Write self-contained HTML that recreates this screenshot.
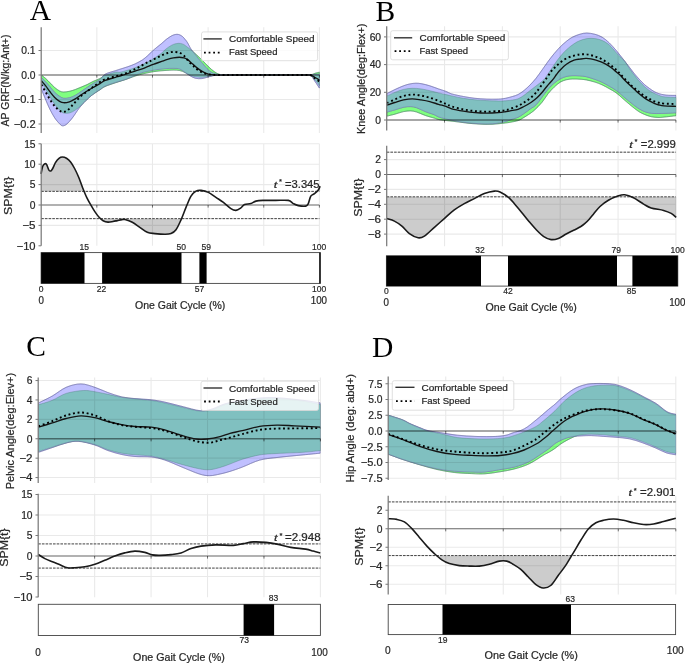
<!DOCTYPE html>
<html><head><meta charset="utf-8"><title>Gait SPM figure</title>
<style>html,body{margin:0;padding:0;background:#fff;}svg{display:block;filter:blur(0.35px);}svg text{stroke:#2a2a2a;stroke-width:0.22px;stroke-linejoin:round;}</style>
</head><body>
<svg width="685" height="663" viewBox="0 0 685 663"><rect width="685" height="663" fill="#fff"/><line x1="38.5" y1="50.5" x2="41.2" y2="50.5" stroke="#555" stroke-width="0.8"/>
<text x="35.6" y="54.25" font-size="10.4" text-anchor="end" font-family='"Liberation Sans", sans-serif' fill="#262626" textLength="14.31" lengthAdjust="spacingAndGlyphs">0.1</text>
<line x1="38.5" y1="75" x2="41.2" y2="75" stroke="#555" stroke-width="0.8"/>
<text x="35.6" y="78.75" font-size="10.4" text-anchor="end" font-family='"Liberation Sans", sans-serif' fill="#262626" textLength="14.31" lengthAdjust="spacingAndGlyphs">0.0</text>
<line x1="38.5" y1="99.5" x2="41.2" y2="99.5" stroke="#555" stroke-width="0.8"/>
<text x="35.6" y="103.25" font-size="10.4" text-anchor="end" font-family='"Liberation Sans", sans-serif' fill="#262626" textLength="21.85" lengthAdjust="spacingAndGlyphs">−0.1</text>
<line x1="38.5" y1="124" x2="41.2" y2="124" stroke="#555" stroke-width="0.8"/>
<text x="35.6" y="127.75" font-size="10.4" text-anchor="end" font-family='"Liberation Sans", sans-serif' fill="#262626" textLength="21.85" lengthAdjust="spacingAndGlyphs">−0.2</text>
<clipPath id="c1"><rect x="41.2" y="24.2" width="278.8" height="111.8"/></clipPath><g clip-path="url(#c1)">
<clipPath id="c2"><path d="M41.3,75 C42.07,75.62 44.48,77.43 45.9,78.7 C47.32,79.97 48.33,81.13 49.8,82.6 C51.27,84.07 53.07,86.1 54.7,87.5 C56.33,88.9 58.13,90.25 59.6,91 C61.07,91.75 61.87,91.95 63.5,92 C65.13,92.05 67.43,91.72 69.4,91.3 C71.37,90.88 73.33,90.2 75.3,89.5 C77.27,88.8 79.23,87.92 81.2,87.1 C83.17,86.28 85.15,85.53 87.1,84.6 C89.05,83.67 90.75,82.52 92.9,81.5 C95.05,80.48 97.95,79.53 100,78.5 C102.05,77.47 102.63,76.35 105.2,75.3 C107.77,74.25 112.93,72.72 115.4,72.2 C117.87,71.68 117.98,72.53 120,72.2 C122.02,71.87 124.98,70.95 127.5,70.2 C130.02,69.45 132.4,68.73 135.1,67.7 C137.8,66.67 140.82,65.38 143.7,64 C146.58,62.62 149.52,61.15 152.4,59.4 C155.28,57.65 158.73,55.23 161,53.5 C163.27,51.77 164.5,50.22 166,49 C167.5,47.78 168.77,46.97 170,46.2 C171.23,45.43 172.23,44.85 173.4,44.4 C174.57,43.95 175.83,43.67 177,43.5 C178.17,43.33 179.32,43.25 180.4,43.4 C181.48,43.55 182.53,43.93 183.5,44.4 C184.47,44.87 184.97,45.3 186.2,46.2 C187.43,47.1 189.15,48.35 190.9,49.8 C192.65,51.25 194.75,53.1 196.7,54.9 C198.65,56.7 200.65,58.65 202.6,60.6 C204.55,62.55 206.47,64.77 208.4,66.6 C210.33,68.43 212.38,70.32 214.2,71.6 C216.02,72.88 217.5,73.75 219.3,74.3 C221.1,74.85 222.88,74.78 225,74.9 C227.12,75.02 219.5,74.98 232,75 C244.5,75.02 287.02,75 300,75 C312.98,75 307.4,75.28 309.9,75 C312.4,74.72 313.42,73.77 315,73.3 C316.58,72.83 318.67,72.38 319.4,72.2 L319.4,85.5 C318.67,84.58 316.58,81.75 315,80 C313.42,78.25 312.4,75.83 309.9,75 C307.4,74.17 312.98,75 300,75 C287.02,75 245.67,74.98 232,75 C218.33,75.02 221.28,75 218,75.1 C214.72,75.2 214.13,75.37 212.3,75.6 C210.47,75.83 208.75,76.22 207,76.5 C205.25,76.78 203.7,77.25 201.8,77.3 C199.9,77.35 197.5,77.13 195.6,76.8 C193.7,76.47 192.15,76.02 190.4,75.3 C188.65,74.58 186.85,73.28 185.1,72.5 C183.35,71.72 181.85,71 179.9,70.6 C177.95,70.2 175.88,70.12 173.4,70.1 C170.92,70.08 167.73,70.32 165,70.5 C162.27,70.68 159.5,70.9 157,71.2 C154.5,71.5 152.33,71.87 150,72.3 C147.67,72.73 145.35,73.22 143,73.8 C140.65,74.38 138.78,74.85 135.9,75.8 C133.02,76.75 129.12,78.33 125.7,79.5 C122.28,80.67 118.82,81.63 115.4,82.8 C111.98,83.97 107.77,85.33 105.2,86.5 C102.63,87.67 102.05,88.48 100,89.8 C97.95,91.12 95.05,92.82 92.9,94.4 C90.75,95.98 89.05,97.5 87.1,99.3 C85.15,101.1 83.17,103.4 81.2,105.2 C79.23,107 77.27,108.8 75.3,110.1 C73.33,111.4 71.37,112.52 69.4,113 C67.43,113.48 65.13,113.48 63.5,113 C61.87,112.52 61.07,111.57 59.6,110.1 C58.13,108.63 56.33,106.48 54.7,104.2 C53.07,101.92 51.27,98.85 49.8,96.4 C48.33,93.95 47.32,91.95 45.9,89.5 C44.48,87.05 42.07,83 41.3,81.7 Z"/></clipPath>
<path d="M41.3,75 C42.07,75.62 44.48,77.43 45.9,78.7 C47.32,79.97 48.33,81.13 49.8,82.6 C51.27,84.07 53.07,86.1 54.7,87.5 C56.33,88.9 58.13,90.25 59.6,91 C61.07,91.75 61.87,91.95 63.5,92 C65.13,92.05 67.43,91.72 69.4,91.3 C71.37,90.88 73.33,90.2 75.3,89.5 C77.27,88.8 79.23,87.92 81.2,87.1 C83.17,86.28 85.15,85.53 87.1,84.6 C89.05,83.67 90.75,82.52 92.9,81.5 C95.05,80.48 97.95,79.53 100,78.5 C102.05,77.47 102.63,76.35 105.2,75.3 C107.77,74.25 112.93,72.72 115.4,72.2 C117.87,71.68 117.98,72.53 120,72.2 C122.02,71.87 124.98,70.95 127.5,70.2 C130.02,69.45 132.4,68.73 135.1,67.7 C137.8,66.67 140.82,65.38 143.7,64 C146.58,62.62 149.52,61.15 152.4,59.4 C155.28,57.65 158.73,55.23 161,53.5 C163.27,51.77 164.5,50.22 166,49 C167.5,47.78 168.77,46.97 170,46.2 C171.23,45.43 172.23,44.85 173.4,44.4 C174.57,43.95 175.83,43.67 177,43.5 C178.17,43.33 179.32,43.25 180.4,43.4 C181.48,43.55 182.53,43.93 183.5,44.4 C184.47,44.87 184.97,45.3 186.2,46.2 C187.43,47.1 189.15,48.35 190.9,49.8 C192.65,51.25 194.75,53.1 196.7,54.9 C198.65,56.7 200.65,58.65 202.6,60.6 C204.55,62.55 206.47,64.77 208.4,66.6 C210.33,68.43 212.38,70.32 214.2,71.6 C216.02,72.88 217.5,73.75 219.3,74.3 C221.1,74.85 222.88,74.78 225,74.9 C227.12,75.02 219.5,74.98 232,75 C244.5,75.02 287.02,75 300,75 C312.98,75 307.4,75.28 309.9,75 C312.4,74.72 313.42,73.77 315,73.3 C316.58,72.83 318.67,72.38 319.4,72.2 L319.4,85.5 C318.67,84.58 316.58,81.75 315,80 C313.42,78.25 312.4,75.83 309.9,75 C307.4,74.17 312.98,75 300,75 C287.02,75 245.67,74.98 232,75 C218.33,75.02 221.28,75 218,75.1 C214.72,75.2 214.13,75.37 212.3,75.6 C210.47,75.83 208.75,76.22 207,76.5 C205.25,76.78 203.7,77.25 201.8,77.3 C199.9,77.35 197.5,77.13 195.6,76.8 C193.7,76.47 192.15,76.02 190.4,75.3 C188.65,74.58 186.85,73.28 185.1,72.5 C183.35,71.72 181.85,71 179.9,70.6 C177.95,70.2 175.88,70.12 173.4,70.1 C170.92,70.08 167.73,70.32 165,70.5 C162.27,70.68 159.5,70.9 157,71.2 C154.5,71.5 152.33,71.87 150,72.3 C147.67,72.73 145.35,73.22 143,73.8 C140.65,74.38 138.78,74.85 135.9,75.8 C133.02,76.75 129.12,78.33 125.7,79.5 C122.28,80.67 118.82,81.63 115.4,82.8 C111.98,83.97 107.77,85.33 105.2,86.5 C102.63,87.67 102.05,88.48 100,89.8 C97.95,91.12 95.05,92.82 92.9,94.4 C90.75,95.98 89.05,97.5 87.1,99.3 C85.15,101.1 83.17,103.4 81.2,105.2 C79.23,107 77.27,108.8 75.3,110.1 C73.33,111.4 71.37,112.52 69.4,113 C67.43,113.48 65.13,113.48 63.5,113 C61.87,112.52 61.07,111.57 59.6,110.1 C58.13,108.63 56.33,106.48 54.7,104.2 C53.07,101.92 51.27,98.85 49.8,96.4 C48.33,93.95 47.32,91.95 45.9,89.5 C44.48,87.05 42.07,83 41.3,81.7 Z" fill="#80ff80" stroke="#4a9a4a" stroke-width="0.5"/>
<path d="M41.3,77.3 C42.07,78.12 44.48,80.65 45.9,82.2 C47.32,83.75 48.33,84.88 49.8,86.6 C51.27,88.32 53.07,90.87 54.7,92.5 C56.33,94.13 58.13,95.43 59.6,96.4 C61.07,97.37 61.87,98.07 63.5,98.3 C65.13,98.53 67.43,98.28 69.4,97.8 C71.37,97.32 73.33,96.45 75.3,95.4 C77.27,94.35 79.23,92.82 81.2,91.5 C83.17,90.18 85.15,88.82 87.1,87.5 C89.05,86.18 90.75,84.9 92.9,83.6 C95.05,82.3 97.95,81.27 100,79.7 C102.05,78.13 102.63,75.7 105.2,74.2 C107.77,72.7 112.93,71.53 115.4,70.7 C117.87,69.87 117.98,69.85 120,69.2 C122.02,68.55 124.98,67.68 127.5,66.8 C130.02,65.92 132.58,65.07 135.1,63.9 C137.62,62.73 140.53,61.15 142.6,59.8 C144.67,58.45 145.87,57.25 147.5,55.8 C149.13,54.35 150.82,52.53 152.4,51.1 C153.98,49.67 155.48,48.45 157,47.2 C158.52,45.95 160,44.87 161.5,43.6 C163,42.33 164.58,40.73 166,39.6 C167.42,38.47 168.77,37.57 170,36.8 C171.23,36.03 172.25,35.42 173.4,35 C174.55,34.58 175.83,34.32 176.9,34.3 C177.97,34.28 178.83,34.5 179.8,34.9 C180.77,35.3 181.83,35.97 182.7,36.7 C183.57,37.43 184.22,38.33 185,39.3 C185.78,40.27 186.42,40.9 187.4,42.5 C188.38,44.1 189.83,47.18 190.9,48.9 C191.97,50.62 192.83,51.53 193.8,52.8 C194.77,54.07 195.73,55.28 196.7,56.5 C197.67,57.72 198.62,58.93 199.6,60.1 C200.58,61.27 201.62,62.35 202.6,63.5 C203.58,64.65 204.53,65.92 205.5,67 C206.47,68.08 207.43,69.13 208.4,70 C209.37,70.87 210.33,71.62 211.3,72.2 C212.27,72.78 213.08,73.12 214.2,73.5 C215.32,73.88 216.7,74.27 218,74.5 C219.3,74.73 219.67,74.82 222,74.9 C224.33,74.98 219,74.98 232,75 C245,75.02 287.02,75 300,75 C312.98,75 307.4,75.1 309.9,75 C312.4,74.9 313.42,74.55 315,74.4 C316.58,74.25 318.67,74.15 319.4,74.1 L319.4,88.1 C318.67,87 316.58,83.68 315,81.5 C313.42,79.32 312.4,76.08 309.9,75 C307.4,73.92 312.98,75 300,75 C287.02,75 245.75,74.97 232,75 C218.25,75.03 220.78,75.05 217.5,75.2 C214.22,75.35 214.05,75.55 212.3,75.9 C210.55,76.25 208.75,76.85 207,77.3 C205.25,77.75 203.7,78.43 201.8,78.6 C199.9,78.77 197.5,78.73 195.6,78.3 C193.7,77.87 192.15,76.98 190.4,76 C188.65,75.02 186.85,73.57 185.1,72.4 C183.35,71.23 181.85,69.68 179.9,69 C177.95,68.32 175.88,68.35 173.4,68.3 C170.92,68.25 167.73,68.48 165,68.7 C162.27,68.92 159.5,69.25 157,69.6 C154.5,69.95 152.33,70.35 150,70.8 C147.67,71.25 145.35,71.6 143,72.3 C140.65,73 138.78,73.83 135.9,75 C133.02,76.17 129.12,78.07 125.7,79.3 C122.28,80.53 118.82,81.28 115.4,82.4 C111.98,83.52 107.77,84.82 105.2,86 C102.63,87.18 102.05,88.1 100,89.5 C97.95,90.9 95.22,92.6 92.9,94.4 C90.58,96.2 88.38,98.02 86.1,100.3 C83.82,102.58 81.48,105.17 79.2,108.1 C76.92,111.03 74.52,115.2 72.4,117.9 C70.28,120.6 68.15,122.98 66.5,124.3 C64.85,125.62 63.65,125.88 62.5,125.8 C61.35,125.72 60.9,125.12 59.6,123.8 C58.3,122.48 56.33,120.35 54.7,117.9 C53.07,115.45 51.27,112.03 49.8,109.1 C48.33,106.17 47.32,103.65 45.9,100.3 C44.48,96.95 42.07,90.88 41.3,89 Z" fill="#c0c0ff" stroke="#6a6ab0" stroke-width="0.5"/>
<path d="M41.3,77.3 C42.07,78.12 44.48,80.65 45.9,82.2 C47.32,83.75 48.33,84.88 49.8,86.6 C51.27,88.32 53.07,90.87 54.7,92.5 C56.33,94.13 58.13,95.43 59.6,96.4 C61.07,97.37 61.87,98.07 63.5,98.3 C65.13,98.53 67.43,98.28 69.4,97.8 C71.37,97.32 73.33,96.45 75.3,95.4 C77.27,94.35 79.23,92.82 81.2,91.5 C83.17,90.18 85.15,88.82 87.1,87.5 C89.05,86.18 90.75,84.9 92.9,83.6 C95.05,82.3 97.95,81.27 100,79.7 C102.05,78.13 102.63,75.7 105.2,74.2 C107.77,72.7 112.93,71.53 115.4,70.7 C117.87,69.87 117.98,69.85 120,69.2 C122.02,68.55 124.98,67.68 127.5,66.8 C130.02,65.92 132.58,65.07 135.1,63.9 C137.62,62.73 140.53,61.15 142.6,59.8 C144.67,58.45 145.87,57.25 147.5,55.8 C149.13,54.35 150.82,52.53 152.4,51.1 C153.98,49.67 155.48,48.45 157,47.2 C158.52,45.95 160,44.87 161.5,43.6 C163,42.33 164.58,40.73 166,39.6 C167.42,38.47 168.77,37.57 170,36.8 C171.23,36.03 172.25,35.42 173.4,35 C174.55,34.58 175.83,34.32 176.9,34.3 C177.97,34.28 178.83,34.5 179.8,34.9 C180.77,35.3 181.83,35.97 182.7,36.7 C183.57,37.43 184.22,38.33 185,39.3 C185.78,40.27 186.42,40.9 187.4,42.5 C188.38,44.1 189.83,47.18 190.9,48.9 C191.97,50.62 192.83,51.53 193.8,52.8 C194.77,54.07 195.73,55.28 196.7,56.5 C197.67,57.72 198.62,58.93 199.6,60.1 C200.58,61.27 201.62,62.35 202.6,63.5 C203.58,64.65 204.53,65.92 205.5,67 C206.47,68.08 207.43,69.13 208.4,70 C209.37,70.87 210.33,71.62 211.3,72.2 C212.27,72.78 213.08,73.12 214.2,73.5 C215.32,73.88 216.7,74.27 218,74.5 C219.3,74.73 219.67,74.82 222,74.9 C224.33,74.98 219,74.98 232,75 C245,75.02 287.02,75 300,75 C312.98,75 307.4,75.1 309.9,75 C312.4,74.9 313.42,74.55 315,74.4 C316.58,74.25 318.67,74.15 319.4,74.1 L319.4,88.1 C318.67,87 316.58,83.68 315,81.5 C313.42,79.32 312.4,76.08 309.9,75 C307.4,73.92 312.98,75 300,75 C287.02,75 245.75,74.97 232,75 C218.25,75.03 220.78,75.05 217.5,75.2 C214.22,75.35 214.05,75.55 212.3,75.9 C210.55,76.25 208.75,76.85 207,77.3 C205.25,77.75 203.7,78.43 201.8,78.6 C199.9,78.77 197.5,78.73 195.6,78.3 C193.7,77.87 192.15,76.98 190.4,76 C188.65,75.02 186.85,73.57 185.1,72.4 C183.35,71.23 181.85,69.68 179.9,69 C177.95,68.32 175.88,68.35 173.4,68.3 C170.92,68.25 167.73,68.48 165,68.7 C162.27,68.92 159.5,69.25 157,69.6 C154.5,69.95 152.33,70.35 150,70.8 C147.67,71.25 145.35,71.6 143,72.3 C140.65,73 138.78,73.83 135.9,75 C133.02,76.17 129.12,78.07 125.7,79.3 C122.28,80.53 118.82,81.28 115.4,82.4 C111.98,83.52 107.77,84.82 105.2,86 C102.63,87.18 102.05,88.1 100,89.5 C97.95,90.9 95.22,92.6 92.9,94.4 C90.58,96.2 88.38,98.02 86.1,100.3 C83.82,102.58 81.48,105.17 79.2,108.1 C76.92,111.03 74.52,115.2 72.4,117.9 C70.28,120.6 68.15,122.98 66.5,124.3 C64.85,125.62 63.65,125.88 62.5,125.8 C61.35,125.72 60.9,125.12 59.6,123.8 C58.3,122.48 56.33,120.35 54.7,117.9 C53.07,115.45 51.27,112.03 49.8,109.1 C48.33,106.17 47.32,103.65 45.9,100.3 C44.48,96.95 42.07,90.88 41.3,89 Z" fill="#80c0c0" clip-path="url(#c2)"/>
<path d="M41.3,75 C42.07,75.62 44.48,77.43 45.9,78.7 C47.32,79.97 48.33,81.13 49.8,82.6 C51.27,84.07 53.07,86.1 54.7,87.5 C56.33,88.9 58.13,90.25 59.6,91 C61.07,91.75 61.87,91.95 63.5,92 C65.13,92.05 67.43,91.72 69.4,91.3 C71.37,90.88 73.33,90.2 75.3,89.5 C77.27,88.8 79.23,87.92 81.2,87.1 C83.17,86.28 85.15,85.53 87.1,84.6 C89.05,83.67 90.75,82.52 92.9,81.5 C95.05,80.48 97.95,79.53 100,78.5 C102.05,77.47 102.63,76.35 105.2,75.3 C107.77,74.25 112.93,72.72 115.4,72.2 C117.87,71.68 117.98,72.53 120,72.2 C122.02,71.87 124.98,70.95 127.5,70.2 C130.02,69.45 132.4,68.73 135.1,67.7 C137.8,66.67 140.82,65.38 143.7,64 C146.58,62.62 149.52,61.15 152.4,59.4 C155.28,57.65 158.73,55.23 161,53.5 C163.27,51.77 164.5,50.22 166,49 C167.5,47.78 168.77,46.97 170,46.2 C171.23,45.43 172.23,44.85 173.4,44.4 C174.57,43.95 175.83,43.67 177,43.5 C178.17,43.33 179.32,43.25 180.4,43.4 C181.48,43.55 182.53,43.93 183.5,44.4 C184.47,44.87 184.97,45.3 186.2,46.2 C187.43,47.1 189.15,48.35 190.9,49.8 C192.65,51.25 194.75,53.1 196.7,54.9 C198.65,56.7 200.65,58.65 202.6,60.6 C204.55,62.55 206.47,64.77 208.4,66.6 C210.33,68.43 212.38,70.32 214.2,71.6 C216.02,72.88 217.5,73.75 219.3,74.3 C221.1,74.85 222.88,74.78 225,74.9 C227.12,75.02 219.5,74.98 232,75 C244.5,75.02 287.02,75 300,75 C312.98,75 307.4,75.28 309.9,75 C312.4,74.72 313.42,73.77 315,73.3 C316.58,72.83 318.67,72.38 319.4,72.2" fill="none" stroke="#4f7f7f" stroke-width="0.5" stroke-opacity="0.8"/>
<path d="M41.3,81.7 C42.07,83 44.48,87.05 45.9,89.5 C47.32,91.95 48.33,93.95 49.8,96.4 C51.27,98.85 53.07,101.92 54.7,104.2 C56.33,106.48 58.13,108.63 59.6,110.1 C61.07,111.57 61.87,112.52 63.5,113 C65.13,113.48 67.43,113.48 69.4,113 C71.37,112.52 73.33,111.4 75.3,110.1 C77.27,108.8 79.23,107 81.2,105.2 C83.17,103.4 85.15,101.1 87.1,99.3 C89.05,97.5 90.75,95.98 92.9,94.4 C95.05,92.82 97.95,91.12 100,89.8 C102.05,88.48 102.63,87.67 105.2,86.5 C107.77,85.33 111.98,83.97 115.4,82.8 C118.82,81.63 122.28,80.67 125.7,79.5 C129.12,78.33 133.02,76.75 135.9,75.8 C138.78,74.85 140.65,74.38 143,73.8 C145.35,73.22 147.67,72.73 150,72.3 C152.33,71.87 154.5,71.5 157,71.2 C159.5,70.9 162.27,70.68 165,70.5 C167.73,70.32 170.92,70.08 173.4,70.1 C175.88,70.12 177.95,70.2 179.9,70.6 C181.85,71 183.35,71.72 185.1,72.5 C186.85,73.28 188.65,74.58 190.4,75.3 C192.15,76.02 193.7,76.47 195.6,76.8 C197.5,77.13 199.9,77.35 201.8,77.3 C203.7,77.25 205.25,76.78 207,76.5 C208.75,76.22 210.47,75.83 212.3,75.6 C214.13,75.37 214.72,75.2 218,75.1 C221.28,75 218.33,75.02 232,75 C245.67,74.98 287.02,75 300,75 C312.98,75 307.4,74.17 309.9,75 C312.4,75.83 313.42,78.25 315,80 C316.58,81.75 318.67,84.58 319.4,85.5" fill="none" stroke="#4f7f7f" stroke-width="0.5" stroke-opacity="0.8"/>
<path d="M41.3,77.3 C42.07,78.12 44.48,80.65 45.9,82.2 C47.32,83.75 48.33,84.88 49.8,86.6 C51.27,88.32 53.07,90.87 54.7,92.5 C56.33,94.13 58.13,95.43 59.6,96.4 C61.07,97.37 61.87,98.07 63.5,98.3 C65.13,98.53 67.43,98.28 69.4,97.8 C71.37,97.32 73.33,96.45 75.3,95.4 C77.27,94.35 79.23,92.82 81.2,91.5 C83.17,90.18 85.15,88.82 87.1,87.5 C89.05,86.18 90.75,84.9 92.9,83.6 C95.05,82.3 97.95,81.27 100,79.7 C102.05,78.13 102.63,75.7 105.2,74.2 C107.77,72.7 112.93,71.53 115.4,70.7 C117.87,69.87 117.98,69.85 120,69.2 C122.02,68.55 124.98,67.68 127.5,66.8 C130.02,65.92 132.58,65.07 135.1,63.9 C137.62,62.73 140.53,61.15 142.6,59.8 C144.67,58.45 145.87,57.25 147.5,55.8 C149.13,54.35 150.82,52.53 152.4,51.1 C153.98,49.67 155.48,48.45 157,47.2 C158.52,45.95 160,44.87 161.5,43.6 C163,42.33 164.58,40.73 166,39.6 C167.42,38.47 168.77,37.57 170,36.8 C171.23,36.03 172.25,35.42 173.4,35 C174.55,34.58 175.83,34.32 176.9,34.3 C177.97,34.28 178.83,34.5 179.8,34.9 C180.77,35.3 181.83,35.97 182.7,36.7 C183.57,37.43 184.22,38.33 185,39.3 C185.78,40.27 186.42,40.9 187.4,42.5 C188.38,44.1 189.83,47.18 190.9,48.9 C191.97,50.62 192.83,51.53 193.8,52.8 C194.77,54.07 195.73,55.28 196.7,56.5 C197.67,57.72 198.62,58.93 199.6,60.1 C200.58,61.27 201.62,62.35 202.6,63.5 C203.58,64.65 204.53,65.92 205.5,67 C206.47,68.08 207.43,69.13 208.4,70 C209.37,70.87 210.33,71.62 211.3,72.2 C212.27,72.78 213.08,73.12 214.2,73.5 C215.32,73.88 216.7,74.27 218,74.5 C219.3,74.73 219.67,74.82 222,74.9 C224.33,74.98 219,74.98 232,75 C245,75.02 287.02,75 300,75 C312.98,75 307.4,75.1 309.9,75 C312.4,74.9 313.42,74.55 315,74.4 C316.58,74.25 318.67,74.15 319.4,74.1" fill="none" stroke="#6f6fa0" stroke-width="0.5" stroke-opacity="0.8"/>
<path d="M41.3,89 C42.07,90.88 44.48,96.95 45.9,100.3 C47.32,103.65 48.33,106.17 49.8,109.1 C51.27,112.03 53.07,115.45 54.7,117.9 C56.33,120.35 58.3,122.48 59.6,123.8 C60.9,125.12 61.35,125.72 62.5,125.8 C63.65,125.88 64.85,125.62 66.5,124.3 C68.15,122.98 70.28,120.6 72.4,117.9 C74.52,115.2 76.92,111.03 79.2,108.1 C81.48,105.17 83.82,102.58 86.1,100.3 C88.38,98.02 90.58,96.2 92.9,94.4 C95.22,92.6 97.95,90.9 100,89.5 C102.05,88.1 102.63,87.18 105.2,86 C107.77,84.82 111.98,83.52 115.4,82.4 C118.82,81.28 122.28,80.53 125.7,79.3 C129.12,78.07 133.02,76.17 135.9,75 C138.78,73.83 140.65,73 143,72.3 C145.35,71.6 147.67,71.25 150,70.8 C152.33,70.35 154.5,69.95 157,69.6 C159.5,69.25 162.27,68.92 165,68.7 C167.73,68.48 170.92,68.25 173.4,68.3 C175.88,68.35 177.95,68.32 179.9,69 C181.85,69.68 183.35,71.23 185.1,72.4 C186.85,73.57 188.65,75.02 190.4,76 C192.15,76.98 193.7,77.87 195.6,78.3 C197.5,78.73 199.9,78.77 201.8,78.6 C203.7,78.43 205.25,77.75 207,77.3 C208.75,76.85 210.55,76.25 212.3,75.9 C214.05,75.55 214.22,75.35 217.5,75.2 C220.78,75.05 218.25,75.03 232,75 C245.75,74.97 287.02,75 300,75 C312.98,75 307.4,73.92 309.9,75 C312.4,76.08 313.42,79.32 315,81.5 C316.58,83.68 318.67,87 319.4,88.1" fill="none" stroke="#6f6fa0" stroke-width="0.5" stroke-opacity="0.8"/>
</g>
<path d="M96.84,27.2V133 M152.48,27.2V133 M208.12,27.2V133 M263.76,27.2V133 M319.4,27.2V133 M41.2,50.5H319.4 M41.2,75H319.4 M41.2,99.5H319.4 M41.2,124H319.4" fill="none" stroke="#000" stroke-opacity="0.085" stroke-width="1.1"/>
<line x1="41.2" y1="75" x2="319.4" y2="75" stroke="#000" stroke-width="1.5" stroke-opacity="0.42"/>
<line x1="96.84" y1="75" x2="96.84" y2="77.6" stroke="#000" stroke-width="0.9" stroke-opacity="0.6"/>
<line x1="152.48" y1="75" x2="152.48" y2="77.6" stroke="#000" stroke-width="0.9" stroke-opacity="0.6"/>
<line x1="208.12" y1="75" x2="208.12" y2="77.6" stroke="#000" stroke-width="0.9" stroke-opacity="0.6"/>
<line x1="263.76" y1="75" x2="263.76" y2="77.6" stroke="#000" stroke-width="0.9" stroke-opacity="0.6"/>
<line x1="319.4" y1="75" x2="319.4" y2="77.6" stroke="#000" stroke-width="0.9" stroke-opacity="0.6"/>
<g clip-path="url(#c1)">
<path d="M41.3,80.7 C42.07,81.6 44.48,84.3 45.9,86.1 C47.32,87.9 48.33,89.62 49.8,91.5 C51.27,93.38 53.07,95.77 54.7,97.4 C56.33,99.03 58.13,100.42 59.6,101.3 C61.07,102.18 61.87,102.62 63.5,102.7 C65.13,102.78 67.43,102.45 69.4,101.8 C71.37,101.15 73.33,99.95 75.3,98.8 C77.27,97.65 79.23,96.2 81.2,94.9 C83.17,93.6 85.15,92.23 87.1,91 C89.05,89.77 90.75,88.73 92.9,87.5 C95.05,86.27 97.95,84.78 100,83.6 C102.05,82.42 102.63,81.45 105.2,80.4 C107.77,79.35 112.93,78.03 115.4,77.3 C117.87,76.57 117.98,76.62 120,76 C122.02,75.38 124.98,74.42 127.5,73.6 C130.02,72.78 132.4,71.98 135.1,71.1 C137.8,70.22 141.22,69.22 143.7,68.3 C146.18,67.38 147.98,66.4 150,65.6 C152.02,64.8 153.85,64.2 155.8,63.5 C157.75,62.8 159.75,62.08 161.7,61.4 C163.65,60.72 165.55,59.98 167.5,59.4 C169.45,58.82 171.45,58.27 173.4,57.9 C175.35,57.53 177.45,57.2 179.2,57.2 C180.95,57.2 182.53,57.53 183.9,57.9 C185.27,58.27 186.23,58.65 187.4,59.4 C188.57,60.15 189.35,61.03 190.9,62.4 C192.45,63.77 194.75,66.05 196.7,67.6 C198.65,69.15 200.65,70.62 202.6,71.7 C204.55,72.78 206.27,73.55 208.4,74.1 C210.53,74.65 211.47,74.85 215.4,75 C219.33,75.15 217.9,75 232,75 C246.1,75 287.02,75 300,75 C312.98,75 307.4,74.58 309.9,75 C312.4,75.42 313.42,76.67 315,77.5 C316.58,78.33 318.67,79.58 319.4,80" fill="none" stroke="#151515" stroke-width="1.35"/>
<path d="M41.3,84.6 C42.07,85.92 44.48,90.05 45.9,92.5 C47.32,94.95 48.33,97.02 49.8,99.3 C51.27,101.58 53.07,104.32 54.7,106.2 C56.33,108.08 58.22,109.65 59.6,110.6 C60.98,111.55 61.68,111.95 63,111.9 C64.32,111.85 65.78,111.58 67.5,110.3 C69.22,109.02 71.35,106.28 73.3,104.2 C75.25,102.12 77.23,99.68 79.2,97.8 C81.17,95.92 83.13,94.45 85.1,92.9 C87.07,91.35 89.35,89.73 91,88.5 C92.65,87.27 93.5,86.58 95,85.5 C96.5,84.42 98.3,83.03 100,82 C101.7,80.97 102.63,80.25 105.2,79.3 C107.77,78.35 112.55,77.1 115.4,76.3 C118.25,75.5 120.12,75.22 122.3,74.5 C124.48,73.78 126.37,72.88 128.5,72 C130.63,71.12 133.07,70.18 135.1,69.2 C137.13,68.22 138.82,67.17 140.7,66.1 C142.58,65.03 144.85,63.62 146.4,62.8 C147.95,61.98 148.43,61.95 150,61.2 C151.57,60.45 153.85,59.27 155.8,58.3 C157.75,57.33 159.75,56.28 161.7,55.4 C163.65,54.52 165.55,53.58 167.5,53 C169.45,52.42 171.45,51.95 173.4,51.9 C175.35,51.85 177.45,52.08 179.2,52.7 C180.95,53.32 182.35,54.18 183.9,55.6 C185.45,57.02 186.95,59.48 188.5,61.2 C190.05,62.92 191.63,64.43 193.2,65.9 C194.77,67.37 196.15,68.8 197.9,70 C199.65,71.2 201.57,72.33 203.7,73.1 C205.83,73.87 208.32,74.28 210.7,74.6 C213.08,74.92 214.45,74.93 218,75 C221.55,75.07 218.33,75 232,75 C245.67,75 287.02,75 300,75 C312.98,75 307.4,74.42 309.9,75 C312.4,75.58 313.42,77.42 315,78.5 C316.58,79.58 318.67,81 319.4,81.5" fill="none" stroke="#000" stroke-width="1.9" stroke-dasharray="1.9 2.7"/>
</g>
<line x1="41.2" y1="27.2" x2="41.2" y2="133" stroke="#7a7a7a" stroke-width="1.25"/>
<rect x="201.5" y="31.9" width="116.1" height="28.8" rx="2" fill="#fff" fill-opacity="0.8" stroke="#d8d8d8" stroke-width="0.8"/>
<line x1="203.4" y1="38.9" x2="221.8" y2="38.9" stroke="#333" stroke-width="1.4"/>
<line x1="204" y1="52.7" x2="221.8" y2="52.7" stroke="#000" stroke-width="1.8" stroke-dasharray="1.8 2.8"/>
<text x="229" y="42" font-size="9.44" text-anchor="start" font-family='"Liberation Sans", sans-serif' fill="#262626" textLength="85.45" lengthAdjust="spacingAndGlyphs">Comfortable Speed</text>
<text x="229" y="54.8" font-size="9.44" text-anchor="start" font-family='"Liberation Sans", sans-serif' fill="#262626" textLength="48.39" lengthAdjust="spacingAndGlyphs">Fast Speed</text>
<line x1="38.5" y1="143.8" x2="41.2" y2="143.8" stroke="#555" stroke-width="0.8"/>
<text x="35.6" y="147.55" font-size="10.4" text-anchor="end" font-family='"Liberation Sans", sans-serif' fill="#262626" textLength="11.45" lengthAdjust="spacingAndGlyphs">15</text>
<line x1="38.5" y1="164.2" x2="41.2" y2="164.2" stroke="#555" stroke-width="0.8"/>
<text x="35.6" y="167.95" font-size="10.4" text-anchor="end" font-family='"Liberation Sans", sans-serif' fill="#262626" textLength="11.45" lengthAdjust="spacingAndGlyphs">10</text>
<line x1="38.5" y1="184.6" x2="41.2" y2="184.6" stroke="#555" stroke-width="0.8"/>
<text x="35.6" y="188.35" font-size="10.4" text-anchor="end" font-family='"Liberation Sans", sans-serif' fill="#262626" textLength="5.73" lengthAdjust="spacingAndGlyphs">5</text>
<line x1="38.5" y1="205" x2="41.2" y2="205" stroke="#555" stroke-width="0.8"/>
<text x="35.6" y="208.75" font-size="10.4" text-anchor="end" font-family='"Liberation Sans", sans-serif' fill="#262626" textLength="5.73" lengthAdjust="spacingAndGlyphs">0</text>
<line x1="38.5" y1="225.4" x2="41.2" y2="225.4" stroke="#555" stroke-width="0.8"/>
<text x="35.6" y="229.15" font-size="10.4" text-anchor="end" font-family='"Liberation Sans", sans-serif' fill="#262626" textLength="13.27" lengthAdjust="spacingAndGlyphs">−5</text>
<line x1="38.5" y1="245.8" x2="41.2" y2="245.8" stroke="#555" stroke-width="0.8"/>
<text x="35.6" y="249.55" font-size="10.4" text-anchor="end" font-family='"Liberation Sans", sans-serif' fill="#262626" textLength="18.99" lengthAdjust="spacingAndGlyphs">−10</text>
<clipPath id="c3"><rect x="39.2" y="123.75" width="282.2" height="67.6"/></clipPath>
<path d="M41.1,173.9 L41.16,173.57 L41.23,173.13 L41.32,172.61 L41.41,172.03 L41.52,171.41 L41.63,170.78 L41.75,170.14 L41.86,169.54 L41.98,168.98 L42.1,168.5 L42.21,168.07 L42.32,167.66 L42.43,167.27 L42.54,166.9 L42.66,166.55 L42.78,166.22 L42.91,165.91 L43.06,165.62 L43.22,165.35 L43.4,165.1 L43.61,164.86 L43.84,164.64 L44.1,164.42 L44.37,164.23 L44.65,164.06 L44.93,163.91 L45.2,163.8 L45.46,163.72 L45.69,163.69 L45.9,163.7 L46.08,163.76 L46.23,163.86 L46.37,164 L46.49,164.18 L46.6,164.39 L46.71,164.63 L46.82,164.9 L46.93,165.18 L47.06,165.49 L47.2,165.8 L47.35,166.16 L47.51,166.58 L47.67,167.04 L47.84,167.53 L48.01,168.03 L48.18,168.53 L48.36,169 L48.53,169.43 L48.72,169.8 L48.9,170.1 L49.09,170.34 L49.28,170.54 L49.48,170.7 L49.69,170.83 L49.89,170.92 L50.1,170.98 L50.31,171.01 L50.51,171 L50.71,170.97 L50.9,170.9 L51.08,170.81 L51.26,170.68 L51.42,170.53 L51.58,170.35 L51.74,170.13 L51.91,169.88 L52.09,169.59 L52.27,169.27 L52.48,168.9 L52.7,168.5 L52.94,168.03 L53.2,167.48 L53.47,166.88 L53.76,166.23 L54.05,165.56 L54.35,164.87 L54.66,164.2 L54.97,163.55 L55.28,162.95 L55.6,162.4 L55.92,161.9 L56.25,161.41 L56.58,160.93 L56.92,160.48 L57.27,160.05 L57.62,159.64 L57.96,159.26 L58.31,158.91 L58.66,158.59 L59,158.3 L59.34,158.04 L59.67,157.82 L60,157.62 L60.33,157.45 L60.66,157.31 L60.99,157.2 L61.33,157.11 L61.68,157.05 L62.03,157.01 L62.4,157 L62.78,157.01 L63.18,157.06 L63.58,157.12 L63.99,157.22 L64.41,157.34 L64.83,157.48 L65.25,157.65 L65.67,157.84 L66.09,158.06 L66.5,158.3 L66.91,158.56 L67.32,158.84 L67.73,159.15 L68.14,159.47 L68.56,159.83 L68.97,160.2 L69.38,160.61 L69.79,161.04 L70.19,161.51 L70.6,162 L71,162.53 L71.4,163.08 L71.8,163.67 L72.2,164.29 L72.6,164.93 L73,165.6 L73.4,166.29 L73.8,167.01 L74.2,167.74 L74.6,168.5 L75.01,169.28 L75.41,170.08 L75.82,170.9 L76.23,171.75 L76.64,172.63 L77.06,173.52 L77.47,174.43 L77.88,175.37 L78.29,176.32 L78.7,177.3 L79.11,178.31 L79.52,179.37 L79.93,180.46 L80.34,181.58 L80.76,182.71 L81.17,183.84 L81.58,184.97 L81.99,186.08 L82.39,187.16 L82.8,188.2 L83.2,189.22 L83.6,190.22 L84,191.22 L84.4,192.2 L84.8,193.17 L85.2,194.12 L85.6,195.05 L86,195.96 L86.4,196.84 L86.8,197.7 L87.21,198.53 L87.61,199.32 L88.02,200.09 L88.43,200.84 L88.84,201.57 L89.26,202.28 L89.67,202.99 L90.08,203.69 L90.49,204.39 L90.9,205.1 L91.31,205.81 L91.72,206.52 L92.13,207.23 L92.54,207.93 L92.95,208.62 L93.36,209.31 L93.77,209.98 L94.18,210.64 L94.59,211.28 L95,211.9 L95.41,212.51 L95.82,213.1 L96.23,213.69 L96.64,214.26 L97.06,214.81 L97.47,215.35 L97.88,215.87 L98.29,216.37 L98.69,216.85 L99.1,217.3 L99.5,217.73 L99.89,218.14 L100.28,218.53 L100.66,218.9 L101.05,219.25 L101.44,219.58 L101.84,219.89 L102.24,220.18 L102.66,220.45 L103.1,220.7 L103.55,220.93 L104.02,221.14 L104.5,221.33 L104.99,221.5 L105.49,221.65 L105.99,221.78 L106.49,221.89 L107,221.98 L107.5,222.05 L108,222.1 L108.5,222.12 L109,222.11 L109.51,222.08 L110.03,222.02 L110.54,221.94 L111.05,221.86 L111.55,221.77 L112.04,221.67 L112.53,221.58 L113,221.5 L113.46,221.42 L113.9,221.34 L114.33,221.26 L114.75,221.17 L115.17,221.07 L115.58,220.98 L116,220.89 L116.43,220.79 L116.86,220.7 L117.3,220.6 L117.76,220.5 L118.24,220.39 L118.73,220.28 L119.23,220.16 L119.73,220.04 L120.22,219.93 L120.7,219.83 L121.16,219.74 L121.6,219.66 L122,219.6 L122.35,219.55 L122.64,219.49 L122.89,219.44 L123.12,219.4 L123.34,219.37 L123.57,219.36 L123.84,219.37 L124.15,219.41 L124.53,219.49 L125,219.6 L125.55,219.75 L126.18,219.93 L126.87,220.14 L127.6,220.38 L128.37,220.64 L129.16,220.92 L129.96,221.24 L130.76,221.57 L131.54,221.92 L132.3,222.3 L133.04,222.71 L133.79,223.15 L134.54,223.63 L135.29,224.13 L136.04,224.66 L136.79,225.19 L137.54,225.73 L138.3,226.26 L139.05,226.79 L139.8,227.3 L140.55,227.82 L141.3,228.36 L142.05,228.92 L142.8,229.48 L143.55,230.03 L144.3,230.57 L145.05,231.07 L145.8,231.54 L146.55,231.95 L147.3,232.3 L148.04,232.58 L148.76,232.81 L149.47,232.98 L150.18,233.12 L150.89,233.22 L151.62,233.3 L152.37,233.37 L153.14,233.44 L153.95,233.51 L154.8,233.6 L155.72,233.7 L156.7,233.8 L157.74,233.9 L158.8,233.99 L159.88,234.08 L160.95,234.15 L162,234.21 L163,234.26 L163.94,234.29 L164.8,234.3 L165.58,234.3 L166.3,234.3 L166.98,234.29 L167.61,234.27 L168.21,234.23 L168.79,234.17 L169.35,234.08 L169.9,233.96 L170.45,233.8 L171,233.6 L171.55,233.37 L172.08,233.14 L172.59,232.88 L173.09,232.6 L173.57,232.28 L174.06,231.91 L174.54,231.49 L175.02,231 L175.51,230.44 L176,229.8 L176.5,229.07 L177,228.25 L177.5,227.36 L178,226.4 L178.5,225.39 L179,224.34 L179.5,223.25 L180,222.14 L180.5,221.02 L181,219.9 L181.5,218.75 L182,217.55 L182.5,216.3 L183,215.03 L183.5,213.74 L184,212.44 L184.5,211.14 L185,209.86 L185.5,208.61 L186,207.4 L186.5,206.19 L187,204.96 L187.5,203.72 L188,202.49 L188.5,201.28 L189,200.11 L189.5,198.99 L190,197.94 L190.5,196.97 L191,196.1 L191.5,195.33 L192,194.63 L192.5,194 L193,193.44 L193.5,192.94 L194,192.49 L194.5,192.09 L195,191.72 L195.5,191.4 L196,191.1 L196.49,190.84 L196.96,190.64 L197.42,190.49 L197.88,190.38 L198.35,190.31 L198.83,190.28 L199.32,190.28 L199.85,190.3 L200.4,190.34 L201,190.4 L201.64,190.48 L202.32,190.58 L203.04,190.71 L203.78,190.86 L204.54,191.04 L205.32,191.25 L206.1,191.49 L206.88,191.76 L207.65,192.07 L208.4,192.4 L209.15,192.78 L209.89,193.21 L210.64,193.68 L211.39,194.18 L212.14,194.71 L212.9,195.26 L213.65,195.81 L214.4,196.35 L215.15,196.89 L215.9,197.4 L216.65,197.89 L217.4,198.38 L218.15,198.86 L218.9,199.34 L219.65,199.83 L220.4,200.31 L221.15,200.81 L221.9,201.32 L222.65,201.85 L223.4,202.4 L224.16,202.99 L224.94,203.63 L225.73,204.31 L226.52,205 L227.31,205.7 L228.08,206.38 L228.83,207.03 L229.56,207.62 L230.25,208.15 L230.9,208.6 L231.5,208.98 L232.06,209.31 L232.58,209.6 L233.08,209.84 L233.56,210.04 L234.02,210.2 L234.48,210.31 L234.94,210.39 L235.41,210.41 L235.9,210.4 L236.41,210.33 L236.92,210.19 L237.44,210 L237.96,209.76 L238.48,209.48 L238.99,209.18 L239.5,208.86 L239.98,208.53 L240.45,208.21 L240.9,207.9 L241.31,207.58 L241.68,207.22 L242.02,206.84 L242.35,206.44 L242.67,206.04 L243,205.65 L243.34,205.28 L243.71,204.94 L244.13,204.65 L244.6,204.4 L245.13,204.22 L245.71,204.09 L246.34,204.02 L247,203.97 L247.67,203.94 L248.35,203.91 L249.02,203.88 L249.68,203.83 L250.31,203.74 L250.9,203.6 L251.44,203.41 L251.94,203.18 L252.42,202.92 L252.87,202.64 L253.33,202.34 L253.78,202.05 L254.26,201.77 L254.76,201.51 L255.3,201.28 L255.9,201.1 L256.53,200.95 L257.16,200.83 L257.81,200.74 L258.48,200.66 L259.19,200.59 L259.93,200.54 L260.71,200.5 L261.55,200.47 L262.44,200.43 L263.4,200.4 L264.44,200.37 L265.56,200.36 L266.76,200.35 L268,200.35 L269.29,200.36 L270.6,200.37 L271.92,200.38 L273.24,200.39 L274.53,200.4 L275.8,200.4 L277.08,200.39 L278.41,200.35 L279.78,200.3 L281.15,200.25 L282.51,200.2 L283.84,200.17 L285.1,200.16 L286.28,200.2 L287.35,200.27 L288.3,200.4 L289.1,200.6 L289.78,200.85 L290.35,201.16 L290.84,201.51 L291.27,201.87 L291.66,202.25 L292.04,202.63 L292.42,202.99 L292.83,203.31 L293.3,203.6 L293.79,203.86 L294.26,204.1 L294.72,204.34 L295.18,204.56 L295.64,204.77 L296.12,204.97 L296.62,205.15 L297.14,205.32 L297.7,205.47 L298.3,205.6 L298.97,205.72 L299.72,205.84 L300.52,205.95 L301.36,206.05 L302.21,206.13 L303.04,206.19 L303.84,206.22 L304.58,206.22 L305.24,206.18 L305.8,206.1 L306.25,205.99 L306.62,205.87 L306.92,205.73 L307.16,205.56 L307.36,205.35 L307.54,205.1 L307.71,204.81 L307.88,204.47 L308.07,204.07 L308.3,203.6 L308.54,203.03 L308.78,202.34 L309.01,201.56 L309.24,200.72 L309.48,199.85 L309.71,198.98 L309.96,198.14 L310.22,197.36 L310.5,196.67 L310.8,196.1 L311.12,195.65 L311.46,195.3 L311.82,195.02 L312.19,194.8 L312.57,194.61 L312.96,194.45 L313.34,194.28 L313.73,194.1 L314.12,193.88 L314.5,193.6 L314.88,193.28 L315.29,192.94 L315.7,192.58 L316.11,192.21 L316.52,191.83 L316.92,191.44 L317.3,191.05 L317.67,190.66 L318,190.28 L318.3,189.9 L318.57,189.51 L318.82,189.1 L319.04,188.67 L319.25,188.24 L319.44,187.82 L319.61,187.41 L319.76,187.04 L319.89,186.7 L320,186.42 L320.1,186.2 L320.1,191.35 L41.1,191.35 Z" fill="#cccccc" clip-path="url(#c3)"/>
<clipPath id="c4"><rect x="39.2" y="218.65" width="282.2" height="47.1"/></clipPath>
<path d="M41.1,173.9 L41.16,173.57 L41.23,173.13 L41.32,172.61 L41.41,172.03 L41.52,171.41 L41.63,170.78 L41.75,170.14 L41.86,169.54 L41.98,168.98 L42.1,168.5 L42.21,168.07 L42.32,167.66 L42.43,167.27 L42.54,166.9 L42.66,166.55 L42.78,166.22 L42.91,165.91 L43.06,165.62 L43.22,165.35 L43.4,165.1 L43.61,164.86 L43.84,164.64 L44.1,164.42 L44.37,164.23 L44.65,164.06 L44.93,163.91 L45.2,163.8 L45.46,163.72 L45.69,163.69 L45.9,163.7 L46.08,163.76 L46.23,163.86 L46.37,164 L46.49,164.18 L46.6,164.39 L46.71,164.63 L46.82,164.9 L46.93,165.18 L47.06,165.49 L47.2,165.8 L47.35,166.16 L47.51,166.58 L47.67,167.04 L47.84,167.53 L48.01,168.03 L48.18,168.53 L48.36,169 L48.53,169.43 L48.72,169.8 L48.9,170.1 L49.09,170.34 L49.28,170.54 L49.48,170.7 L49.69,170.83 L49.89,170.92 L50.1,170.98 L50.31,171.01 L50.51,171 L50.71,170.97 L50.9,170.9 L51.08,170.81 L51.26,170.68 L51.42,170.53 L51.58,170.35 L51.74,170.13 L51.91,169.88 L52.09,169.59 L52.27,169.27 L52.48,168.9 L52.7,168.5 L52.94,168.03 L53.2,167.48 L53.47,166.88 L53.76,166.23 L54.05,165.56 L54.35,164.87 L54.66,164.2 L54.97,163.55 L55.28,162.95 L55.6,162.4 L55.92,161.9 L56.25,161.41 L56.58,160.93 L56.92,160.48 L57.27,160.05 L57.62,159.64 L57.96,159.26 L58.31,158.91 L58.66,158.59 L59,158.3 L59.34,158.04 L59.67,157.82 L60,157.62 L60.33,157.45 L60.66,157.31 L60.99,157.2 L61.33,157.11 L61.68,157.05 L62.03,157.01 L62.4,157 L62.78,157.01 L63.18,157.06 L63.58,157.12 L63.99,157.22 L64.41,157.34 L64.83,157.48 L65.25,157.65 L65.67,157.84 L66.09,158.06 L66.5,158.3 L66.91,158.56 L67.32,158.84 L67.73,159.15 L68.14,159.47 L68.56,159.83 L68.97,160.2 L69.38,160.61 L69.79,161.04 L70.19,161.51 L70.6,162 L71,162.53 L71.4,163.08 L71.8,163.67 L72.2,164.29 L72.6,164.93 L73,165.6 L73.4,166.29 L73.8,167.01 L74.2,167.74 L74.6,168.5 L75.01,169.28 L75.41,170.08 L75.82,170.9 L76.23,171.75 L76.64,172.63 L77.06,173.52 L77.47,174.43 L77.88,175.37 L78.29,176.32 L78.7,177.3 L79.11,178.31 L79.52,179.37 L79.93,180.46 L80.34,181.58 L80.76,182.71 L81.17,183.84 L81.58,184.97 L81.99,186.08 L82.39,187.16 L82.8,188.2 L83.2,189.22 L83.6,190.22 L84,191.22 L84.4,192.2 L84.8,193.17 L85.2,194.12 L85.6,195.05 L86,195.96 L86.4,196.84 L86.8,197.7 L87.21,198.53 L87.61,199.32 L88.02,200.09 L88.43,200.84 L88.84,201.57 L89.26,202.28 L89.67,202.99 L90.08,203.69 L90.49,204.39 L90.9,205.1 L91.31,205.81 L91.72,206.52 L92.13,207.23 L92.54,207.93 L92.95,208.62 L93.36,209.31 L93.77,209.98 L94.18,210.64 L94.59,211.28 L95,211.9 L95.41,212.51 L95.82,213.1 L96.23,213.69 L96.64,214.26 L97.06,214.81 L97.47,215.35 L97.88,215.87 L98.29,216.37 L98.69,216.85 L99.1,217.3 L99.5,217.73 L99.89,218.14 L100.28,218.53 L100.66,218.9 L101.05,219.25 L101.44,219.58 L101.84,219.89 L102.24,220.18 L102.66,220.45 L103.1,220.7 L103.55,220.93 L104.02,221.14 L104.5,221.33 L104.99,221.5 L105.49,221.65 L105.99,221.78 L106.49,221.89 L107,221.98 L107.5,222.05 L108,222.1 L108.5,222.12 L109,222.11 L109.51,222.08 L110.03,222.02 L110.54,221.94 L111.05,221.86 L111.55,221.77 L112.04,221.67 L112.53,221.58 L113,221.5 L113.46,221.42 L113.9,221.34 L114.33,221.26 L114.75,221.17 L115.17,221.07 L115.58,220.98 L116,220.89 L116.43,220.79 L116.86,220.7 L117.3,220.6 L117.76,220.5 L118.24,220.39 L118.73,220.28 L119.23,220.16 L119.73,220.04 L120.22,219.93 L120.7,219.83 L121.16,219.74 L121.6,219.66 L122,219.6 L122.35,219.55 L122.64,219.49 L122.89,219.44 L123.12,219.4 L123.34,219.37 L123.57,219.36 L123.84,219.37 L124.15,219.41 L124.53,219.49 L125,219.6 L125.55,219.75 L126.18,219.93 L126.87,220.14 L127.6,220.38 L128.37,220.64 L129.16,220.92 L129.96,221.24 L130.76,221.57 L131.54,221.92 L132.3,222.3 L133.04,222.71 L133.79,223.15 L134.54,223.63 L135.29,224.13 L136.04,224.66 L136.79,225.19 L137.54,225.73 L138.3,226.26 L139.05,226.79 L139.8,227.3 L140.55,227.82 L141.3,228.36 L142.05,228.92 L142.8,229.48 L143.55,230.03 L144.3,230.57 L145.05,231.07 L145.8,231.54 L146.55,231.95 L147.3,232.3 L148.04,232.58 L148.76,232.81 L149.47,232.98 L150.18,233.12 L150.89,233.22 L151.62,233.3 L152.37,233.37 L153.14,233.44 L153.95,233.51 L154.8,233.6 L155.72,233.7 L156.7,233.8 L157.74,233.9 L158.8,233.99 L159.88,234.08 L160.95,234.15 L162,234.21 L163,234.26 L163.94,234.29 L164.8,234.3 L165.58,234.3 L166.3,234.3 L166.98,234.29 L167.61,234.27 L168.21,234.23 L168.79,234.17 L169.35,234.08 L169.9,233.96 L170.45,233.8 L171,233.6 L171.55,233.37 L172.08,233.14 L172.59,232.88 L173.09,232.6 L173.57,232.28 L174.06,231.91 L174.54,231.49 L175.02,231 L175.51,230.44 L176,229.8 L176.5,229.07 L177,228.25 L177.5,227.36 L178,226.4 L178.5,225.39 L179,224.34 L179.5,223.25 L180,222.14 L180.5,221.02 L181,219.9 L181.5,218.75 L182,217.55 L182.5,216.3 L183,215.03 L183.5,213.74 L184,212.44 L184.5,211.14 L185,209.86 L185.5,208.61 L186,207.4 L186.5,206.19 L187,204.96 L187.5,203.72 L188,202.49 L188.5,201.28 L189,200.11 L189.5,198.99 L190,197.94 L190.5,196.97 L191,196.1 L191.5,195.33 L192,194.63 L192.5,194 L193,193.44 L193.5,192.94 L194,192.49 L194.5,192.09 L195,191.72 L195.5,191.4 L196,191.1 L196.49,190.84 L196.96,190.64 L197.42,190.49 L197.88,190.38 L198.35,190.31 L198.83,190.28 L199.32,190.28 L199.85,190.3 L200.4,190.34 L201,190.4 L201.64,190.48 L202.32,190.58 L203.04,190.71 L203.78,190.86 L204.54,191.04 L205.32,191.25 L206.1,191.49 L206.88,191.76 L207.65,192.07 L208.4,192.4 L209.15,192.78 L209.89,193.21 L210.64,193.68 L211.39,194.18 L212.14,194.71 L212.9,195.26 L213.65,195.81 L214.4,196.35 L215.15,196.89 L215.9,197.4 L216.65,197.89 L217.4,198.38 L218.15,198.86 L218.9,199.34 L219.65,199.83 L220.4,200.31 L221.15,200.81 L221.9,201.32 L222.65,201.85 L223.4,202.4 L224.16,202.99 L224.94,203.63 L225.73,204.31 L226.52,205 L227.31,205.7 L228.08,206.38 L228.83,207.03 L229.56,207.62 L230.25,208.15 L230.9,208.6 L231.5,208.98 L232.06,209.31 L232.58,209.6 L233.08,209.84 L233.56,210.04 L234.02,210.2 L234.48,210.31 L234.94,210.39 L235.41,210.41 L235.9,210.4 L236.41,210.33 L236.92,210.19 L237.44,210 L237.96,209.76 L238.48,209.48 L238.99,209.18 L239.5,208.86 L239.98,208.53 L240.45,208.21 L240.9,207.9 L241.31,207.58 L241.68,207.22 L242.02,206.84 L242.35,206.44 L242.67,206.04 L243,205.65 L243.34,205.28 L243.71,204.94 L244.13,204.65 L244.6,204.4 L245.13,204.22 L245.71,204.09 L246.34,204.02 L247,203.97 L247.67,203.94 L248.35,203.91 L249.02,203.88 L249.68,203.83 L250.31,203.74 L250.9,203.6 L251.44,203.41 L251.94,203.18 L252.42,202.92 L252.87,202.64 L253.33,202.34 L253.78,202.05 L254.26,201.77 L254.76,201.51 L255.3,201.28 L255.9,201.1 L256.53,200.95 L257.16,200.83 L257.81,200.74 L258.48,200.66 L259.19,200.59 L259.93,200.54 L260.71,200.5 L261.55,200.47 L262.44,200.43 L263.4,200.4 L264.44,200.37 L265.56,200.36 L266.76,200.35 L268,200.35 L269.29,200.36 L270.6,200.37 L271.92,200.38 L273.24,200.39 L274.53,200.4 L275.8,200.4 L277.08,200.39 L278.41,200.35 L279.78,200.3 L281.15,200.25 L282.51,200.2 L283.84,200.17 L285.1,200.16 L286.28,200.2 L287.35,200.27 L288.3,200.4 L289.1,200.6 L289.78,200.85 L290.35,201.16 L290.84,201.51 L291.27,201.87 L291.66,202.25 L292.04,202.63 L292.42,202.99 L292.83,203.31 L293.3,203.6 L293.79,203.86 L294.26,204.1 L294.72,204.34 L295.18,204.56 L295.64,204.77 L296.12,204.97 L296.62,205.15 L297.14,205.32 L297.7,205.47 L298.3,205.6 L298.97,205.72 L299.72,205.84 L300.52,205.95 L301.36,206.05 L302.21,206.13 L303.04,206.19 L303.84,206.22 L304.58,206.22 L305.24,206.18 L305.8,206.1 L306.25,205.99 L306.62,205.87 L306.92,205.73 L307.16,205.56 L307.36,205.35 L307.54,205.1 L307.71,204.81 L307.88,204.47 L308.07,204.07 L308.3,203.6 L308.54,203.03 L308.78,202.34 L309.01,201.56 L309.24,200.72 L309.48,199.85 L309.71,198.98 L309.96,198.14 L310.22,197.36 L310.5,196.67 L310.8,196.1 L311.12,195.65 L311.46,195.3 L311.82,195.02 L312.19,194.8 L312.57,194.61 L312.96,194.45 L313.34,194.28 L313.73,194.1 L314.12,193.88 L314.5,193.6 L314.88,193.28 L315.29,192.94 L315.7,192.58 L316.11,192.21 L316.52,191.83 L316.92,191.44 L317.3,191.05 L317.67,190.66 L318,190.28 L318.3,189.9 L318.57,189.51 L318.82,189.1 L319.04,188.67 L319.25,188.24 L319.44,187.82 L319.61,187.41 L319.76,187.04 L319.89,186.7 L320,186.42 L320.1,186.2 L320.1,218.65 L41.1,218.65 Z" fill="#cccccc" clip-path="url(#c4)"/>
<path d="M96.84,143.75V245.75 M152.48,143.75V245.75 M208.12,143.75V245.75 M263.76,143.75V245.75 M319.4,143.75V245.75 M41.2,143.8H319.4 M41.2,164.2H319.4 M41.2,184.6H319.4 M41.2,205H319.4 M41.2,225.4H319.4" fill="none" stroke="#000" stroke-opacity="0.085" stroke-width="1.1"/>
<line x1="41.2" y1="205" x2="319.4" y2="205" stroke="#000" stroke-width="1.2" stroke-opacity="0.55"/>
<line x1="96.84" y1="205" x2="96.84" y2="207.6" stroke="#000" stroke-width="0.9" stroke-opacity="0.6"/>
<line x1="152.48" y1="205" x2="152.48" y2="207.6" stroke="#000" stroke-width="0.9" stroke-opacity="0.6"/>
<line x1="208.12" y1="205" x2="208.12" y2="207.6" stroke="#000" stroke-width="0.9" stroke-opacity="0.6"/>
<line x1="263.76" y1="205" x2="263.76" y2="207.6" stroke="#000" stroke-width="0.9" stroke-opacity="0.6"/>
<line x1="319.4" y1="205" x2="319.4" y2="207.6" stroke="#000" stroke-width="0.9" stroke-opacity="0.6"/>
<line x1="41.2" y1="191.35" x2="319.4" y2="191.35" stroke="#404040" stroke-width="1" stroke-dasharray="2.6 1.1"/>
<line x1="41.2" y1="218.65" x2="319.4" y2="218.65" stroke="#404040" stroke-width="1" stroke-dasharray="2.6 1.1"/>
<path d="M41.1,173.9 C41.27,173 41.72,169.97 42.1,168.5 C42.48,167.03 42.77,165.9 43.4,165.1 C44.03,164.3 45.27,163.58 45.9,163.7 C46.53,163.82 46.7,164.73 47.2,165.8 C47.7,166.87 48.28,169.25 48.9,170.1 C49.52,170.95 50.27,171.17 50.9,170.9 C51.53,170.63 51.92,169.92 52.7,168.5 C53.48,167.08 54.55,164.1 55.6,162.4 C56.65,160.7 57.87,159.2 59,158.3 C60.13,157.4 61.15,157 62.4,157 C63.65,157 65.13,157.47 66.5,158.3 C67.87,159.13 69.25,160.3 70.6,162 C71.95,163.7 73.25,165.95 74.6,168.5 C75.95,171.05 77.33,174.02 78.7,177.3 C80.07,180.58 81.45,184.8 82.8,188.2 C84.15,191.6 85.45,194.88 86.8,197.7 C88.15,200.52 89.53,202.73 90.9,205.1 C92.27,207.47 93.63,209.87 95,211.9 C96.37,213.93 97.75,215.83 99.1,217.3 C100.45,218.77 101.62,219.9 103.1,220.7 C104.58,221.5 106.35,221.97 108,222.1 C109.65,222.23 111.45,221.75 113,221.5 C114.55,221.25 115.8,220.92 117.3,220.6 C118.8,220.28 120.72,219.77 122,219.6 C123.28,219.43 123.28,219.15 125,219.6 C126.72,220.05 129.83,221.02 132.3,222.3 C134.77,223.58 137.3,225.63 139.8,227.3 C142.3,228.97 144.8,231.25 147.3,232.3 C149.8,233.35 151.88,233.27 154.8,233.6 C157.72,233.93 162.1,234.3 164.8,234.3 C167.5,234.3 169.13,234.35 171,233.6 C172.87,232.85 174.33,232.08 176,229.8 C177.67,227.52 179.33,223.63 181,219.9 C182.67,216.17 184.33,211.37 186,207.4 C187.67,203.43 189.33,198.82 191,196.1 C192.67,193.38 194.33,192.05 196,191.1 C197.67,190.15 198.93,190.18 201,190.4 C203.07,190.62 205.92,191.23 208.4,192.4 C210.88,193.57 213.4,195.73 215.9,197.4 C218.4,199.07 220.9,200.53 223.4,202.4 C225.9,204.27 228.82,207.27 230.9,208.6 C232.98,209.93 234.23,210.52 235.9,210.4 C237.57,210.28 239.45,208.9 240.9,207.9 C242.35,206.9 242.93,205.12 244.6,204.4 C246.27,203.68 249.02,204.15 250.9,203.6 C252.78,203.05 253.82,201.63 255.9,201.1 C257.98,200.57 260.08,200.52 263.4,200.4 C266.72,200.28 271.65,200.4 275.8,200.4 C279.95,200.4 285.38,199.87 288.3,200.4 C291.22,200.93 291.63,202.73 293.3,203.6 C294.97,204.47 296.22,205.18 298.3,205.6 C300.38,206.02 304.13,206.43 305.8,206.1 C307.47,205.77 307.47,205.27 308.3,203.6 C309.13,201.93 309.77,197.77 310.8,196.1 C311.83,194.43 313.25,194.63 314.5,193.6 C315.75,192.57 317.37,191.13 318.3,189.9 C319.23,188.67 319.8,186.82 320.1,186.2" fill="none" stroke="#1a1a1a" stroke-width="1.6"/>
<line x1="41.2" y1="143.75" x2="41.2" y2="245.75" stroke="#7a7a7a" stroke-width="1.25"/>
<text x="273.7" y="188" font-size="9.6" font-style="italic" font-family='"Liberation Sans", sans-serif' fill="#262626" textLength="3.5" lengthAdjust="spacingAndGlyphs">t</text>
<text x="279.1" y="184.4" font-size="7.6" font-family='"Liberation Sans", sans-serif' fill="#262626">*</text>
<text x="285" y="188.1" font-size="10" text-anchor="start" font-family='"Liberation Sans", sans-serif' fill="#262626" textLength="34.6" lengthAdjust="spacingAndGlyphs">=3.345</text>
<rect x="41.1" y="252.6" width="279.3" height="30.8" fill="#fff" stroke="#444" stroke-width="0.9"/>
<rect x="41.1" y="252.6" width="43.4" height="30.8" fill="#000"/>
<rect x="102.1" y="252.6" width="79.4" height="30.8" fill="#000"/>
<rect x="199.4" y="252.6" width="7.2" height="30.8" fill="#000"/>
<rect x="319.2" y="252.6" width="1.2" height="30.8" fill="#000"/>
<line x1="384" y1="36.9" x2="386.7" y2="36.9" stroke="#555" stroke-width="0.8"/>
<text x="381.1" y="40.65" font-size="10.4" text-anchor="end" font-family='"Liberation Sans", sans-serif' fill="#262626" textLength="11.45" lengthAdjust="spacingAndGlyphs">60</text>
<line x1="384" y1="64.6" x2="386.7" y2="64.6" stroke="#555" stroke-width="0.8"/>
<text x="381.1" y="68.35" font-size="10.4" text-anchor="end" font-family='"Liberation Sans", sans-serif' fill="#262626" textLength="11.45" lengthAdjust="spacingAndGlyphs">40</text>
<line x1="384" y1="92.3" x2="386.7" y2="92.3" stroke="#555" stroke-width="0.8"/>
<text x="381.1" y="96.05" font-size="10.4" text-anchor="end" font-family='"Liberation Sans", sans-serif' fill="#262626" textLength="11.45" lengthAdjust="spacingAndGlyphs">20</text>
<line x1="384" y1="120" x2="386.7" y2="120" stroke="#555" stroke-width="0.8"/>
<text x="381.1" y="123.75" font-size="10.4" text-anchor="end" font-family='"Liberation Sans", sans-serif' fill="#262626" textLength="5.73" lengthAdjust="spacingAndGlyphs">0</text>
<clipPath id="c5"><rect x="386.7" y="23.25" width="289.8" height="110.25"/></clipPath><g clip-path="url(#c5)">
<clipPath id="c6"><path d="M387,96 C388.3,95.4 392.05,93.5 394.8,92.4 C397.55,91.3 400.58,90.08 403.5,89.4 C406.42,88.72 409.38,88.38 412.3,88.3 C415.22,88.22 418.08,88.5 421,88.9 C423.92,89.3 426.88,90.03 429.8,90.7 C432.72,91.37 435.8,92.25 438.5,92.9 C441.2,93.55 443.8,94.1 446,94.6 C448.2,95.1 448.8,95.28 451.7,95.9 C454.6,96.52 459.52,97.65 463.4,98.3 C467.28,98.95 471.12,99.42 475,99.8 C478.88,100.18 482.8,100.4 486.7,100.6 C490.6,100.8 495.28,100.97 498.4,101 C501.52,101.03 503.07,100.97 505.4,100.8 C507.73,100.63 510.28,100.33 512.4,100 C514.52,99.67 516.17,99.58 518.1,98.8 C520.03,98.02 522.02,96.67 524,95.3 C525.98,93.93 528,92.15 530,90.6 C532,89.05 533.7,87.8 536,86 C538.3,84.2 541.88,81.68 543.8,79.8 C545.72,77.92 545.62,77.43 547.5,74.7 C549.38,71.97 552.98,66.42 555.1,63.4 C557.22,60.38 558.32,58.87 560.2,56.6 C562.08,54.33 564.1,51.93 566.4,49.8 C568.7,47.67 571.73,45.33 574,43.8 C576.27,42.27 577.83,41.47 580,40.6 C582.17,39.73 584.5,38.93 587,38.6 C589.5,38.27 592.47,38.28 595,38.6 C597.53,38.92 599.82,39.43 602.2,40.5 C604.58,41.57 606.92,42.93 609.3,45 C611.68,47.07 613.92,50.15 616.5,52.9 C619.08,55.65 622.6,58.82 624.8,61.5 C627,64.18 628.07,66.67 629.7,69 C631.33,71.33 632.97,73.42 634.6,75.5 C636.23,77.58 637.87,79.67 639.5,81.5 C641.13,83.33 642.77,85 644.4,86.5 C646.03,88 647.67,89.37 649.3,90.5 C650.93,91.63 652.57,92.48 654.2,93.3 C655.83,94.12 657.47,94.82 659.1,95.4 C660.73,95.98 661.18,96.45 664,96.8 C666.82,97.15 674,97.38 676,97.5 L676,115.7 C674,115.93 666.82,116.8 664,117.1 C661.18,117.4 660.73,117.48 659.1,117.5 C657.47,117.52 655.83,117.42 654.2,117.2 C652.57,116.98 650.93,116.67 649.3,116.2 C647.67,115.73 646.03,115.1 644.4,114.4 C642.77,113.7 641.13,112.98 639.5,112 C637.87,111.02 636.23,109.75 634.6,108.5 C632.97,107.25 631.33,105.87 629.7,104.5 C628.07,103.13 626.43,101.73 624.8,100.3 C623.17,98.87 621.53,97.28 619.9,95.9 C618.27,94.52 616.77,93.2 615,92 C613.23,90.8 611.43,89.88 609.3,88.7 C607.17,87.52 604.58,86 602.2,84.9 C599.82,83.8 597.65,82.93 595,82.1 C592.35,81.27 588.8,80.38 586.3,79.9 C583.8,79.42 582.33,79.35 580,79.2 C577.67,79.05 574.6,78.9 572.3,79 C570,79.1 568.22,79.27 566.2,79.8 C564.18,80.33 562.2,80.98 560.2,82.2 C558.2,83.42 556.22,85.18 554.2,87.1 C552.18,89.02 550.12,91.18 548.1,93.7 C546.08,96.22 544.52,99.33 542.1,102.2 C539.68,105.07 536.62,108.37 533.6,110.9 C530.58,113.43 526.58,115.79 524,117.4 C521.42,119.02 520.1,119.84 518.1,120.59 C516.1,121.34 514.07,121.53 512,121.92 C509.93,122.31 508.93,122.56 505.7,122.94 C502.47,123.32 496.98,124.01 492.6,124.2 C488.22,124.39 483.78,124.3 479.4,124.1 C475.02,123.9 470.68,123.47 466.3,123 C461.92,122.53 457.48,121.85 453.1,121.31 C448.72,120.77 443.15,120.31 440,119.78 C436.85,119.25 436.63,118.82 434.2,118.11 C431.77,117.4 428.33,116.52 425.4,115.5 C422.47,114.48 419.08,112.77 416.6,112 C414.12,111.23 412.68,110.97 410.5,110.9 C408.32,110.83 406.12,111.05 403.5,111.6 C400.88,112.15 397.55,113.45 394.8,114.2 C392.05,114.95 388.3,115.78 387,116.1 Z"/></clipPath>
<path d="M387,96 C388.3,95.4 392.05,93.5 394.8,92.4 C397.55,91.3 400.58,90.08 403.5,89.4 C406.42,88.72 409.38,88.38 412.3,88.3 C415.22,88.22 418.08,88.5 421,88.9 C423.92,89.3 426.88,90.03 429.8,90.7 C432.72,91.37 435.8,92.25 438.5,92.9 C441.2,93.55 443.8,94.1 446,94.6 C448.2,95.1 448.8,95.28 451.7,95.9 C454.6,96.52 459.52,97.65 463.4,98.3 C467.28,98.95 471.12,99.42 475,99.8 C478.88,100.18 482.8,100.4 486.7,100.6 C490.6,100.8 495.28,100.97 498.4,101 C501.52,101.03 503.07,100.97 505.4,100.8 C507.73,100.63 510.28,100.33 512.4,100 C514.52,99.67 516.17,99.58 518.1,98.8 C520.03,98.02 522.02,96.67 524,95.3 C525.98,93.93 528,92.15 530,90.6 C532,89.05 533.7,87.8 536,86 C538.3,84.2 541.88,81.68 543.8,79.8 C545.72,77.92 545.62,77.43 547.5,74.7 C549.38,71.97 552.98,66.42 555.1,63.4 C557.22,60.38 558.32,58.87 560.2,56.6 C562.08,54.33 564.1,51.93 566.4,49.8 C568.7,47.67 571.73,45.33 574,43.8 C576.27,42.27 577.83,41.47 580,40.6 C582.17,39.73 584.5,38.93 587,38.6 C589.5,38.27 592.47,38.28 595,38.6 C597.53,38.92 599.82,39.43 602.2,40.5 C604.58,41.57 606.92,42.93 609.3,45 C611.68,47.07 613.92,50.15 616.5,52.9 C619.08,55.65 622.6,58.82 624.8,61.5 C627,64.18 628.07,66.67 629.7,69 C631.33,71.33 632.97,73.42 634.6,75.5 C636.23,77.58 637.87,79.67 639.5,81.5 C641.13,83.33 642.77,85 644.4,86.5 C646.03,88 647.67,89.37 649.3,90.5 C650.93,91.63 652.57,92.48 654.2,93.3 C655.83,94.12 657.47,94.82 659.1,95.4 C660.73,95.98 661.18,96.45 664,96.8 C666.82,97.15 674,97.38 676,97.5 L676,115.7 C674,115.93 666.82,116.8 664,117.1 C661.18,117.4 660.73,117.48 659.1,117.5 C657.47,117.52 655.83,117.42 654.2,117.2 C652.57,116.98 650.93,116.67 649.3,116.2 C647.67,115.73 646.03,115.1 644.4,114.4 C642.77,113.7 641.13,112.98 639.5,112 C637.87,111.02 636.23,109.75 634.6,108.5 C632.97,107.25 631.33,105.87 629.7,104.5 C628.07,103.13 626.43,101.73 624.8,100.3 C623.17,98.87 621.53,97.28 619.9,95.9 C618.27,94.52 616.77,93.2 615,92 C613.23,90.8 611.43,89.88 609.3,88.7 C607.17,87.52 604.58,86 602.2,84.9 C599.82,83.8 597.65,82.93 595,82.1 C592.35,81.27 588.8,80.38 586.3,79.9 C583.8,79.42 582.33,79.35 580,79.2 C577.67,79.05 574.6,78.9 572.3,79 C570,79.1 568.22,79.27 566.2,79.8 C564.18,80.33 562.2,80.98 560.2,82.2 C558.2,83.42 556.22,85.18 554.2,87.1 C552.18,89.02 550.12,91.18 548.1,93.7 C546.08,96.22 544.52,99.33 542.1,102.2 C539.68,105.07 536.62,108.37 533.6,110.9 C530.58,113.43 526.58,115.79 524,117.4 C521.42,119.02 520.1,119.84 518.1,120.59 C516.1,121.34 514.07,121.53 512,121.92 C509.93,122.31 508.93,122.56 505.7,122.94 C502.47,123.32 496.98,124.01 492.6,124.2 C488.22,124.39 483.78,124.3 479.4,124.1 C475.02,123.9 470.68,123.47 466.3,123 C461.92,122.53 457.48,121.85 453.1,121.31 C448.72,120.77 443.15,120.31 440,119.78 C436.85,119.25 436.63,118.82 434.2,118.11 C431.77,117.4 428.33,116.52 425.4,115.5 C422.47,114.48 419.08,112.77 416.6,112 C414.12,111.23 412.68,110.97 410.5,110.9 C408.32,110.83 406.12,111.05 403.5,111.6 C400.88,112.15 397.55,113.45 394.8,114.2 C392.05,114.95 388.3,115.78 387,116.1 Z" fill="#80ff80" stroke="#4a9a4a" stroke-width="0.5"/>
<path d="M387,93.5 C388.3,92.85 392.05,90.88 394.8,89.6 C397.55,88.32 400.97,86.75 403.5,85.8 C406.03,84.85 407.92,84.33 410,83.9 C412.08,83.47 414,83.22 416,83.2 C418,83.18 419.7,83.37 422,83.8 C424.3,84.23 427.05,84.95 429.8,85.8 C432.55,86.65 435.8,87.97 438.5,88.9 C441.2,89.83 443.8,90.57 446,91.4 C448.2,92.23 448.8,93.05 451.7,93.9 C454.6,94.75 459.52,95.77 463.4,96.5 C467.28,97.23 471.12,97.87 475,98.3 C478.88,98.73 482.8,98.97 486.7,99.1 C490.6,99.23 495.28,99.23 498.4,99.1 C501.52,98.97 503.07,98.73 505.4,98.3 C507.73,97.87 510.28,97.13 512.4,96.5 C514.52,95.87 516.17,95.5 518.1,94.5 C520.03,93.5 522.02,92.08 524,90.5 C525.98,88.92 528,87.03 530,85 C532,82.97 533.98,80.82 536,78.3 C538.02,75.78 540.08,72.72 542.1,69.9 C544.12,67.08 546.08,64.12 548.1,61.4 C550.12,58.68 552.18,56.02 554.2,53.6 C556.22,51.18 558.2,48.92 560.2,46.9 C562.2,44.88 564.18,43.12 566.2,41.5 C568.22,39.88 570,38.42 572.3,37.2 C574.6,35.98 577.58,34.9 580,34.2 C582.42,33.5 584.3,32.98 586.8,33 C589.3,33.02 592.43,33.6 595,34.3 C597.57,35 599.82,35.77 602.2,37.2 C604.58,38.63 606.92,40.63 609.3,42.9 C611.68,45.17 614.08,47.95 616.5,50.8 C618.92,53.65 621.6,57.2 623.8,60 C626,62.8 627.9,65.27 629.7,67.6 C631.5,69.93 632.97,72.02 634.6,74 C636.23,75.98 637.87,77.75 639.5,79.5 C641.13,81.25 642.77,83.03 644.4,84.5 C646.03,85.97 647.67,87.12 649.3,88.3 C650.93,89.48 652.57,90.7 654.2,91.6 C655.83,92.5 657.47,93.17 659.1,93.7 C660.73,94.23 662.37,94.53 664,94.8 C665.63,95.07 666.9,95.2 668.9,95.3 C670.9,95.4 674.82,95.38 676,95.4 L676,112.8 C674,112.9 667.63,113.28 664,113.4 C660.37,113.52 656.65,113.58 654.2,113.5 C651.75,113.42 650.93,113.23 649.3,112.9 C647.67,112.57 646.03,112.15 644.4,111.5 C642.77,110.85 641.13,109.97 639.5,109 C637.87,108.03 636.23,106.9 634.6,105.7 C632.97,104.5 631.33,103.12 629.7,101.8 C628.07,100.48 626.43,99.2 624.8,97.8 C623.17,96.4 621.53,94.77 619.9,93.4 C618.27,92.03 616.77,90.8 615,89.6 C613.23,88.4 611.43,87.42 609.3,86.2 C607.17,84.98 604.58,83.43 602.2,82.3 C599.82,81.17 597.65,80.33 595,79.4 C592.35,78.47 588.8,77.28 586.3,76.7 C583.8,76.12 582.33,76.07 580,75.9 C577.67,75.73 574.6,75.6 572.3,75.7 C570,75.8 568.22,75.97 566.2,76.5 C564.18,77.03 562.2,77.8 560.2,78.9 C558.2,80 556.22,81.38 554.2,83.1 C552.18,84.82 550.12,86.88 548.1,89.2 C546.08,91.52 544.12,94.38 542.1,97 C540.08,99.62 538.02,102.88 536,104.9 C533.98,106.92 532,107.67 530,109.1 C528,110.53 525.98,112.13 524,113.5 C522.02,114.87 520.1,116.35 518.1,117.3 C516.1,118.25 514.07,118.5 512,119.2 C509.93,119.9 508.93,120.73 505.7,121.5 C502.47,122.27 496.98,123.43 492.6,123.8 C488.22,124.17 483.78,123.9 479.4,123.7 C475.02,123.5 470.68,123.13 466.3,122.6 C461.92,122.07 457.48,121.37 453.1,120.5 C448.72,119.63 443.15,118.37 440,117.4 C436.85,116.43 436.63,115.67 434.2,114.7 C431.77,113.73 428.33,112.77 425.4,111.6 C422.47,110.43 419.08,108.53 416.6,107.7 C414.12,106.87 412.68,106.67 410.5,106.6 C408.32,106.53 406.12,106.75 403.5,107.3 C400.88,107.85 397.55,109.1 394.8,109.9 C392.05,110.7 388.3,111.73 387,112.1 Z" fill="#c0c0ff" stroke="#6a6ab0" stroke-width="0.5"/>
<path d="M387,93.5 C388.3,92.85 392.05,90.88 394.8,89.6 C397.55,88.32 400.97,86.75 403.5,85.8 C406.03,84.85 407.92,84.33 410,83.9 C412.08,83.47 414,83.22 416,83.2 C418,83.18 419.7,83.37 422,83.8 C424.3,84.23 427.05,84.95 429.8,85.8 C432.55,86.65 435.8,87.97 438.5,88.9 C441.2,89.83 443.8,90.57 446,91.4 C448.2,92.23 448.8,93.05 451.7,93.9 C454.6,94.75 459.52,95.77 463.4,96.5 C467.28,97.23 471.12,97.87 475,98.3 C478.88,98.73 482.8,98.97 486.7,99.1 C490.6,99.23 495.28,99.23 498.4,99.1 C501.52,98.97 503.07,98.73 505.4,98.3 C507.73,97.87 510.28,97.13 512.4,96.5 C514.52,95.87 516.17,95.5 518.1,94.5 C520.03,93.5 522.02,92.08 524,90.5 C525.98,88.92 528,87.03 530,85 C532,82.97 533.98,80.82 536,78.3 C538.02,75.78 540.08,72.72 542.1,69.9 C544.12,67.08 546.08,64.12 548.1,61.4 C550.12,58.68 552.18,56.02 554.2,53.6 C556.22,51.18 558.2,48.92 560.2,46.9 C562.2,44.88 564.18,43.12 566.2,41.5 C568.22,39.88 570,38.42 572.3,37.2 C574.6,35.98 577.58,34.9 580,34.2 C582.42,33.5 584.3,32.98 586.8,33 C589.3,33.02 592.43,33.6 595,34.3 C597.57,35 599.82,35.77 602.2,37.2 C604.58,38.63 606.92,40.63 609.3,42.9 C611.68,45.17 614.08,47.95 616.5,50.8 C618.92,53.65 621.6,57.2 623.8,60 C626,62.8 627.9,65.27 629.7,67.6 C631.5,69.93 632.97,72.02 634.6,74 C636.23,75.98 637.87,77.75 639.5,79.5 C641.13,81.25 642.77,83.03 644.4,84.5 C646.03,85.97 647.67,87.12 649.3,88.3 C650.93,89.48 652.57,90.7 654.2,91.6 C655.83,92.5 657.47,93.17 659.1,93.7 C660.73,94.23 662.37,94.53 664,94.8 C665.63,95.07 666.9,95.2 668.9,95.3 C670.9,95.4 674.82,95.38 676,95.4 L676,112.8 C674,112.9 667.63,113.28 664,113.4 C660.37,113.52 656.65,113.58 654.2,113.5 C651.75,113.42 650.93,113.23 649.3,112.9 C647.67,112.57 646.03,112.15 644.4,111.5 C642.77,110.85 641.13,109.97 639.5,109 C637.87,108.03 636.23,106.9 634.6,105.7 C632.97,104.5 631.33,103.12 629.7,101.8 C628.07,100.48 626.43,99.2 624.8,97.8 C623.17,96.4 621.53,94.77 619.9,93.4 C618.27,92.03 616.77,90.8 615,89.6 C613.23,88.4 611.43,87.42 609.3,86.2 C607.17,84.98 604.58,83.43 602.2,82.3 C599.82,81.17 597.65,80.33 595,79.4 C592.35,78.47 588.8,77.28 586.3,76.7 C583.8,76.12 582.33,76.07 580,75.9 C577.67,75.73 574.6,75.6 572.3,75.7 C570,75.8 568.22,75.97 566.2,76.5 C564.18,77.03 562.2,77.8 560.2,78.9 C558.2,80 556.22,81.38 554.2,83.1 C552.18,84.82 550.12,86.88 548.1,89.2 C546.08,91.52 544.12,94.38 542.1,97 C540.08,99.62 538.02,102.88 536,104.9 C533.98,106.92 532,107.67 530,109.1 C528,110.53 525.98,112.13 524,113.5 C522.02,114.87 520.1,116.35 518.1,117.3 C516.1,118.25 514.07,118.5 512,119.2 C509.93,119.9 508.93,120.73 505.7,121.5 C502.47,122.27 496.98,123.43 492.6,123.8 C488.22,124.17 483.78,123.9 479.4,123.7 C475.02,123.5 470.68,123.13 466.3,122.6 C461.92,122.07 457.48,121.37 453.1,120.5 C448.72,119.63 443.15,118.37 440,117.4 C436.85,116.43 436.63,115.67 434.2,114.7 C431.77,113.73 428.33,112.77 425.4,111.6 C422.47,110.43 419.08,108.53 416.6,107.7 C414.12,106.87 412.68,106.67 410.5,106.6 C408.32,106.53 406.12,106.75 403.5,107.3 C400.88,107.85 397.55,109.1 394.8,109.9 C392.05,110.7 388.3,111.73 387,112.1 Z" fill="#80c0c0" clip-path="url(#c6)"/>
<path d="M387,96 C388.3,95.4 392.05,93.5 394.8,92.4 C397.55,91.3 400.58,90.08 403.5,89.4 C406.42,88.72 409.38,88.38 412.3,88.3 C415.22,88.22 418.08,88.5 421,88.9 C423.92,89.3 426.88,90.03 429.8,90.7 C432.72,91.37 435.8,92.25 438.5,92.9 C441.2,93.55 443.8,94.1 446,94.6 C448.2,95.1 448.8,95.28 451.7,95.9 C454.6,96.52 459.52,97.65 463.4,98.3 C467.28,98.95 471.12,99.42 475,99.8 C478.88,100.18 482.8,100.4 486.7,100.6 C490.6,100.8 495.28,100.97 498.4,101 C501.52,101.03 503.07,100.97 505.4,100.8 C507.73,100.63 510.28,100.33 512.4,100 C514.52,99.67 516.17,99.58 518.1,98.8 C520.03,98.02 522.02,96.67 524,95.3 C525.98,93.93 528,92.15 530,90.6 C532,89.05 533.7,87.8 536,86 C538.3,84.2 541.88,81.68 543.8,79.8 C545.72,77.92 545.62,77.43 547.5,74.7 C549.38,71.97 552.98,66.42 555.1,63.4 C557.22,60.38 558.32,58.87 560.2,56.6 C562.08,54.33 564.1,51.93 566.4,49.8 C568.7,47.67 571.73,45.33 574,43.8 C576.27,42.27 577.83,41.47 580,40.6 C582.17,39.73 584.5,38.93 587,38.6 C589.5,38.27 592.47,38.28 595,38.6 C597.53,38.92 599.82,39.43 602.2,40.5 C604.58,41.57 606.92,42.93 609.3,45 C611.68,47.07 613.92,50.15 616.5,52.9 C619.08,55.65 622.6,58.82 624.8,61.5 C627,64.18 628.07,66.67 629.7,69 C631.33,71.33 632.97,73.42 634.6,75.5 C636.23,77.58 637.87,79.67 639.5,81.5 C641.13,83.33 642.77,85 644.4,86.5 C646.03,88 647.67,89.37 649.3,90.5 C650.93,91.63 652.57,92.48 654.2,93.3 C655.83,94.12 657.47,94.82 659.1,95.4 C660.73,95.98 661.18,96.45 664,96.8 C666.82,97.15 674,97.38 676,97.5" fill="none" stroke="#4f7f7f" stroke-width="0.5" stroke-opacity="0.8"/>
<path d="M387,116.1 C388.3,115.78 392.05,114.95 394.8,114.2 C397.55,113.45 400.88,112.15 403.5,111.6 C406.12,111.05 408.32,110.83 410.5,110.9 C412.68,110.97 414.12,111.23 416.6,112 C419.08,112.77 422.47,114.48 425.4,115.5 C428.33,116.52 431.77,117.4 434.2,118.11 C436.63,118.82 436.85,119.25 440,119.78 C443.15,120.31 448.72,120.77 453.1,121.31 C457.48,121.85 461.92,122.53 466.3,123 C470.68,123.47 475.02,123.9 479.4,124.1 C483.78,124.3 488.22,124.39 492.6,124.2 C496.98,124.01 502.47,123.32 505.7,122.94 C508.93,122.56 509.93,122.31 512,121.92 C514.07,121.53 516.1,121.34 518.1,120.59 C520.1,119.84 521.42,119.02 524,117.4 C526.58,115.79 530.58,113.43 533.6,110.9 C536.62,108.37 539.68,105.07 542.1,102.2 C544.52,99.33 546.08,96.22 548.1,93.7 C550.12,91.18 552.18,89.02 554.2,87.1 C556.22,85.18 558.2,83.42 560.2,82.2 C562.2,80.98 564.18,80.33 566.2,79.8 C568.22,79.27 570,79.1 572.3,79 C574.6,78.9 577.67,79.05 580,79.2 C582.33,79.35 583.8,79.42 586.3,79.9 C588.8,80.38 592.35,81.27 595,82.1 C597.65,82.93 599.82,83.8 602.2,84.9 C604.58,86 607.17,87.52 609.3,88.7 C611.43,89.88 613.23,90.8 615,92 C616.77,93.2 618.27,94.52 619.9,95.9 C621.53,97.28 623.17,98.87 624.8,100.3 C626.43,101.73 628.07,103.13 629.7,104.5 C631.33,105.87 632.97,107.25 634.6,108.5 C636.23,109.75 637.87,111.02 639.5,112 C641.13,112.98 642.77,113.7 644.4,114.4 C646.03,115.1 647.67,115.73 649.3,116.2 C650.93,116.67 652.57,116.98 654.2,117.2 C655.83,117.42 657.47,117.52 659.1,117.5 C660.73,117.48 661.18,117.4 664,117.1 C666.82,116.8 674,115.93 676,115.7" fill="none" stroke="#4f7f7f" stroke-width="0.5" stroke-opacity="0.8"/>
<path d="M387,93.5 C388.3,92.85 392.05,90.88 394.8,89.6 C397.55,88.32 400.97,86.75 403.5,85.8 C406.03,84.85 407.92,84.33 410,83.9 C412.08,83.47 414,83.22 416,83.2 C418,83.18 419.7,83.37 422,83.8 C424.3,84.23 427.05,84.95 429.8,85.8 C432.55,86.65 435.8,87.97 438.5,88.9 C441.2,89.83 443.8,90.57 446,91.4 C448.2,92.23 448.8,93.05 451.7,93.9 C454.6,94.75 459.52,95.77 463.4,96.5 C467.28,97.23 471.12,97.87 475,98.3 C478.88,98.73 482.8,98.97 486.7,99.1 C490.6,99.23 495.28,99.23 498.4,99.1 C501.52,98.97 503.07,98.73 505.4,98.3 C507.73,97.87 510.28,97.13 512.4,96.5 C514.52,95.87 516.17,95.5 518.1,94.5 C520.03,93.5 522.02,92.08 524,90.5 C525.98,88.92 528,87.03 530,85 C532,82.97 533.98,80.82 536,78.3 C538.02,75.78 540.08,72.72 542.1,69.9 C544.12,67.08 546.08,64.12 548.1,61.4 C550.12,58.68 552.18,56.02 554.2,53.6 C556.22,51.18 558.2,48.92 560.2,46.9 C562.2,44.88 564.18,43.12 566.2,41.5 C568.22,39.88 570,38.42 572.3,37.2 C574.6,35.98 577.58,34.9 580,34.2 C582.42,33.5 584.3,32.98 586.8,33 C589.3,33.02 592.43,33.6 595,34.3 C597.57,35 599.82,35.77 602.2,37.2 C604.58,38.63 606.92,40.63 609.3,42.9 C611.68,45.17 614.08,47.95 616.5,50.8 C618.92,53.65 621.6,57.2 623.8,60 C626,62.8 627.9,65.27 629.7,67.6 C631.5,69.93 632.97,72.02 634.6,74 C636.23,75.98 637.87,77.75 639.5,79.5 C641.13,81.25 642.77,83.03 644.4,84.5 C646.03,85.97 647.67,87.12 649.3,88.3 C650.93,89.48 652.57,90.7 654.2,91.6 C655.83,92.5 657.47,93.17 659.1,93.7 C660.73,94.23 662.37,94.53 664,94.8 C665.63,95.07 666.9,95.2 668.9,95.3 C670.9,95.4 674.82,95.38 676,95.4" fill="none" stroke="#6f6fa0" stroke-width="0.5" stroke-opacity="0.8"/>
<path d="M387,112.1 C388.3,111.73 392.05,110.7 394.8,109.9 C397.55,109.1 400.88,107.85 403.5,107.3 C406.12,106.75 408.32,106.53 410.5,106.6 C412.68,106.67 414.12,106.87 416.6,107.7 C419.08,108.53 422.47,110.43 425.4,111.6 C428.33,112.77 431.77,113.73 434.2,114.7 C436.63,115.67 436.85,116.43 440,117.4 C443.15,118.37 448.72,119.63 453.1,120.5 C457.48,121.37 461.92,122.07 466.3,122.6 C470.68,123.13 475.02,123.5 479.4,123.7 C483.78,123.9 488.22,124.17 492.6,123.8 C496.98,123.43 502.47,122.27 505.7,121.5 C508.93,120.73 509.93,119.9 512,119.2 C514.07,118.5 516.1,118.25 518.1,117.3 C520.1,116.35 522.02,114.87 524,113.5 C525.98,112.13 528,110.53 530,109.1 C532,107.67 533.98,106.92 536,104.9 C538.02,102.88 540.08,99.62 542.1,97 C544.12,94.38 546.08,91.52 548.1,89.2 C550.12,86.88 552.18,84.82 554.2,83.1 C556.22,81.38 558.2,80 560.2,78.9 C562.2,77.8 564.18,77.03 566.2,76.5 C568.22,75.97 570,75.8 572.3,75.7 C574.6,75.6 577.67,75.73 580,75.9 C582.33,76.07 583.8,76.12 586.3,76.7 C588.8,77.28 592.35,78.47 595,79.4 C597.65,80.33 599.82,81.17 602.2,82.3 C604.58,83.43 607.17,84.98 609.3,86.2 C611.43,87.42 613.23,88.4 615,89.6 C616.77,90.8 618.27,92.03 619.9,93.4 C621.53,94.77 623.17,96.4 624.8,97.8 C626.43,99.2 628.07,100.48 629.7,101.8 C631.33,103.12 632.97,104.5 634.6,105.7 C636.23,106.9 637.87,108.03 639.5,109 C641.13,109.97 642.77,110.85 644.4,111.5 C646.03,112.15 647.67,112.57 649.3,112.9 C650.93,113.23 651.75,113.42 654.2,113.5 C656.65,113.58 660.37,113.52 664,113.4 C667.63,113.28 674,112.9 676,112.8" fill="none" stroke="#6f6fa0" stroke-width="0.5" stroke-opacity="0.8"/>
</g>
<path d="M444.54,26.25V130.5 M502.38,26.25V130.5 M560.22,26.25V130.5 M618.06,26.25V130.5 M675.9,26.25V130.5 M386.7,36.9H675.9 M386.7,64.6H675.9 M386.7,92.3H675.9 M386.7,120H675.9" fill="none" stroke="#000" stroke-opacity="0.085" stroke-width="1.1"/>
<line x1="386.7" y1="120" x2="675.9" y2="120" stroke="#000" stroke-width="1.5" stroke-opacity="0.42"/>
<line x1="444.54" y1="120" x2="444.54" y2="122.6" stroke="#000" stroke-width="0.9" stroke-opacity="0.6"/>
<line x1="502.38" y1="120" x2="502.38" y2="122.6" stroke="#000" stroke-width="0.9" stroke-opacity="0.6"/>
<line x1="560.22" y1="120" x2="560.22" y2="122.6" stroke="#000" stroke-width="0.9" stroke-opacity="0.6"/>
<line x1="618.06" y1="120" x2="618.06" y2="122.6" stroke="#000" stroke-width="0.9" stroke-opacity="0.6"/>
<line x1="675.9" y1="120" x2="675.9" y2="122.6" stroke="#000" stroke-width="0.9" stroke-opacity="0.6"/>
<g clip-path="url(#c5)">
<path d="M387,105.1 C388.3,104.67 392.05,103.37 394.8,102.5 C397.55,101.63 400.58,100.52 403.5,99.9 C406.42,99.28 409.38,98.8 412.3,98.8 C415.22,98.8 418.08,99.43 421,99.9 C423.92,100.37 426.88,100.87 429.8,101.6 C432.72,102.33 435.8,103.5 438.5,104.3 C441.2,105.1 443.8,105.65 446,106.4 C448.2,107.15 448.8,108.02 451.7,108.8 C454.6,109.58 459.52,110.47 463.4,111.1 C467.28,111.73 471.12,112.27 475,112.6 C478.88,112.93 482.8,113.1 486.7,113.1 C490.6,113.1 495.35,112.82 498.4,112.6 C501.45,112.38 503.05,112.1 505,111.8 C506.95,111.5 507.92,111.22 510.1,110.8 C512.28,110.38 515.78,110.02 518.1,109.3 C520.42,108.58 521.8,107.68 524,106.5 C526.2,105.32 529.13,103.65 531.3,102.2 C533.47,100.75 535.22,99.42 537,97.8 C538.78,96.18 540.33,94.43 542,92.5 C543.67,90.57 545.2,88.35 547,86.2 C548.8,84.05 551.22,81.55 552.8,79.6 C554.38,77.65 555.27,76.1 556.5,74.5 C557.73,72.9 558.55,71.7 560.2,70 C561.85,68.3 564.1,65.93 566.4,64.3 C568.7,62.67 571.73,61.07 574,60.2 C576.27,59.33 578.03,59.4 580,59.1 C581.97,58.8 583.98,58.45 585.8,58.4 C587.62,58.35 589.2,58.52 590.9,58.8 C592.6,59.08 594.3,59.58 596,60.1 C597.7,60.62 599.4,61.18 601.1,61.9 C602.8,62.62 604.5,63.42 606.2,64.4 C607.9,65.38 609.6,66.53 611.3,67.8 C613,69.07 614.95,70.78 616.4,72 C617.85,73.22 618.6,73.72 620,75.1 C621.4,76.48 623.18,78.63 624.8,80.3 C626.42,81.97 628.07,83.55 629.7,85.1 C631.33,86.65 632.97,88.12 634.6,89.6 C636.23,91.08 637.87,92.62 639.5,94 C641.13,95.38 642.77,96.75 644.4,97.9 C646.03,99.05 647.67,100 649.3,100.9 C650.93,101.8 652.57,102.62 654.2,103.3 C655.83,103.98 657.47,104.57 659.1,105 C660.73,105.43 661.18,105.68 664,105.9 C666.82,106.12 674,106.23 676,106.3" fill="none" stroke="#151515" stroke-width="1.35"/>
<path d="M387,103 C388.3,102.42 392.05,100.67 394.8,99.5 C397.55,98.33 400.58,96.82 403.5,96 C406.42,95.18 409.38,94.68 412.3,94.6 C415.22,94.52 418.08,94.98 421,95.5 C423.92,96.02 426.88,96.82 429.8,97.7 C432.72,98.58 435.8,99.75 438.5,100.8 C441.2,101.85 443.8,103.07 446,104 C448.2,104.93 448.8,105.5 451.7,106.4 C454.6,107.3 459.52,108.62 463.4,109.4 C467.28,110.18 471.12,110.72 475,111.1 C478.88,111.48 482.8,111.7 486.7,111.7 C490.6,111.7 495.35,111.33 498.4,111.1 C501.45,110.87 503.05,110.68 505,110.3 C506.95,109.92 507.92,109.52 510.1,108.8 C512.28,108.08 515.78,107.05 518.1,106 C520.42,104.95 522.02,103.77 524,102.5 C525.98,101.23 528,100.05 530,98.4 C532,96.75 534.17,94.67 536,92.6 C537.83,90.53 539.2,88.47 541,86 C542.8,83.53 545.08,80.27 546.8,77.8 C548.52,75.33 549.92,72.97 551.3,71.2 C552.68,69.43 553.62,68.63 555.1,67.2 C556.58,65.77 558.32,64.07 560.2,62.6 C562.08,61.13 564.1,59.55 566.4,58.4 C568.7,57.25 571.73,56.37 574,55.7 C576.27,55.03 578.03,54.63 580,54.4 C581.97,54.17 583.98,54.17 585.8,54.3 C587.62,54.43 589.2,54.78 590.9,55.2 C592.6,55.62 594.3,56.2 596,56.8 C597.7,57.4 599.4,57.95 601.1,58.8 C602.8,59.65 604.5,60.77 606.2,61.9 C607.9,63.03 609.6,64.25 611.3,65.6 C613,66.95 614.95,68.67 616.4,70 C617.85,71.33 618.6,72.13 620,73.6 C621.4,75.07 623.18,77.1 624.8,78.8 C626.42,80.5 628.07,82.22 629.7,83.8 C631.33,85.38 632.97,86.88 634.6,88.3 C636.23,89.72 637.87,91.02 639.5,92.3 C641.13,93.58 642.77,94.92 644.4,96 C646.03,97.08 647.67,97.92 649.3,98.8 C650.93,99.68 652.57,100.63 654.2,101.3 C655.83,101.97 657.47,102.42 659.1,102.8 C660.73,103.18 661.18,103.4 664,103.6 C666.82,103.8 674,103.93 676,104" fill="none" stroke="#000" stroke-width="1.9" stroke-dasharray="1.9 2.7"/>
</g>
<line x1="386.7" y1="26.25" x2="386.7" y2="130.5" stroke="#7a7a7a" stroke-width="1.25"/>
<rect x="390.7" y="30.7" width="117.7" height="29.1" rx="2" fill="#fff" fill-opacity="0.8" stroke="#d8d8d8" stroke-width="0.8"/>
<line x1="394" y1="37.8" x2="412.2" y2="37.8" stroke="#333" stroke-width="1.4"/>
<line x1="394.6" y1="51.2" x2="412.2" y2="51.2" stroke="#000" stroke-width="1.8" stroke-dasharray="1.8 2.8"/>
<text x="419.5" y="40.8" font-size="9.48" text-anchor="start" font-family='"Liberation Sans", sans-serif' fill="#262626" textLength="85.84" lengthAdjust="spacingAndGlyphs">Comfortable Speed</text>
<text x="419.5" y="54.1" font-size="9.48" text-anchor="start" font-family='"Liberation Sans", sans-serif' fill="#262626" textLength="48.61" lengthAdjust="spacingAndGlyphs">Fast Speed</text>
<line x1="384" y1="159.6" x2="386.7" y2="159.6" stroke="#555" stroke-width="0.8"/>
<text x="381.1" y="163.35" font-size="10.4" text-anchor="end" font-family='"Liberation Sans", sans-serif' fill="#262626" textLength="5.73" lengthAdjust="spacingAndGlyphs">2</text>
<line x1="384" y1="174.5" x2="386.7" y2="174.5" stroke="#555" stroke-width="0.8"/>
<text x="381.1" y="178.25" font-size="10.4" text-anchor="end" font-family='"Liberation Sans", sans-serif' fill="#262626" textLength="5.73" lengthAdjust="spacingAndGlyphs">0</text>
<line x1="384" y1="189.4" x2="386.7" y2="189.4" stroke="#555" stroke-width="0.8"/>
<text x="381.1" y="193.15" font-size="10.4" text-anchor="end" font-family='"Liberation Sans", sans-serif' fill="#262626" textLength="13.27" lengthAdjust="spacingAndGlyphs">−2</text>
<line x1="384" y1="204.3" x2="386.7" y2="204.3" stroke="#555" stroke-width="0.8"/>
<text x="381.1" y="208.05" font-size="10.4" text-anchor="end" font-family='"Liberation Sans", sans-serif' fill="#262626" textLength="13.27" lengthAdjust="spacingAndGlyphs">−4</text>
<line x1="384" y1="219.2" x2="386.7" y2="219.2" stroke="#555" stroke-width="0.8"/>
<text x="381.1" y="222.95" font-size="10.4" text-anchor="end" font-family='"Liberation Sans", sans-serif' fill="#262626" textLength="13.27" lengthAdjust="spacingAndGlyphs">−6</text>
<line x1="384" y1="234.1" x2="386.7" y2="234.1" stroke="#555" stroke-width="0.8"/>
<text x="381.1" y="237.85" font-size="10.4" text-anchor="end" font-family='"Liberation Sans", sans-serif' fill="#262626" textLength="13.27" lengthAdjust="spacingAndGlyphs">−8</text>
<clipPath id="c7"><rect x="384.7" y="125.75" width="293.2" height="26.41"/></clipPath>
<path d="M386.9,218.6 L387.35,218.74 L387.92,218.9 L388.6,219.09 L389.36,219.3 L390.18,219.54 L391.04,219.8 L391.91,220.09 L392.78,220.4 L393.62,220.74 L394.4,221.1 L395.15,221.49 L395.9,221.9 L396.65,222.34 L397.4,222.8 L398.15,223.29 L398.9,223.8 L399.65,224.34 L400.4,224.9 L401.15,225.49 L401.9,226.1 L402.64,226.76 L403.38,227.49 L404.11,228.27 L404.84,229.08 L405.57,229.9 L406.31,230.72 L407.06,231.51 L407.82,232.27 L408.6,232.97 L409.4,233.6 L410.23,234.18 L411.1,234.75 L412,235.29 L412.91,235.8 L413.82,236.28 L414.74,236.7 L415.63,237.08 L416.49,237.39 L417.32,237.63 L418.1,237.8 L418.81,237.9 L419.45,237.95 L420.05,237.95 L420.62,237.89 L421.17,237.76 L421.73,237.57 L422.31,237.32 L422.94,236.99 L423.63,236.58 L424.4,236.1 L425.25,235.51 L426.16,234.79 L427.13,233.98 L428.14,233.09 L429.18,232.14 L430.23,231.15 L431.29,230.16 L432.35,229.17 L433.39,228.21 L434.4,227.3 L435.39,226.43 L436.38,225.55 L437.37,224.68 L438.36,223.81 L439.35,222.94 L440.34,222.08 L441.33,221.21 L442.32,220.34 L443.31,219.47 L444.3,218.6 L445.3,217.72 L446.29,216.82 L447.29,215.91 L448.29,215 L449.29,214.1 L450.3,213.21 L451.3,212.33 L452.3,211.49 L453.3,210.67 L454.3,209.9 L455.3,209.17 L456.3,208.47 L457.3,207.79 L458.3,207.14 L459.3,206.52 L460.3,205.91 L461.3,205.32 L462.3,204.74 L463.3,204.17 L464.3,203.6 L465.3,203.05 L466.3,202.52 L467.3,202 L468.3,201.51 L469.3,201.02 L470.3,200.54 L471.3,200.06 L472.3,199.58 L473.3,199.09 L474.3,198.6 L475.3,198.09 L476.3,197.56 L477.3,197.02 L478.3,196.48 L479.3,195.94 L480.3,195.42 L481.3,194.92 L482.3,194.44 L483.3,194 L484.3,193.6 L485.32,193.23 L486.37,192.89 L487.44,192.56 L488.51,192.26 L489.57,191.99 L490.61,191.74 L491.62,191.53 L492.58,191.35 L493.47,191.21 L494.3,191.1 L495.03,191.02 L495.67,190.97 L496.23,190.94 L496.74,190.95 L497.23,190.99 L497.7,191.07 L498.2,191.2 L498.73,191.37 L499.32,191.61 L500,191.9 L500.77,192.27 L501.6,192.71 L502.49,193.21 L503.42,193.77 L504.37,194.37 L505.32,195 L506.25,195.65 L507.16,196.3 L508.01,196.96 L508.8,197.6 L509.52,198.24 L510.2,198.88 L510.83,199.54 L511.43,200.21 L512.02,200.89 L512.59,201.59 L513.17,202.3 L513.76,203.02 L514.36,203.75 L515,204.5 L515.66,205.26 L516.33,206.05 L517.01,206.85 L517.7,207.66 L518.39,208.48 L519.09,209.31 L519.79,210.15 L520.5,211 L521.2,211.85 L521.9,212.7 L522.6,213.56 L523.3,214.43 L524,215.31 L524.71,216.19 L525.41,217.08 L526.12,217.97 L526.83,218.86 L527.55,219.75 L528.27,220.63 L529,221.5 L529.73,222.37 L530.48,223.25 L531.23,224.13 L531.98,225.01 L532.74,225.89 L533.5,226.75 L534.25,227.6 L535.01,228.43 L535.76,229.23 L536.5,230 L537.24,230.75 L537.97,231.5 L538.7,232.23 L539.43,232.95 L540.16,233.64 L540.89,234.31 L541.62,234.94 L542.34,235.54 L543.07,236.09 L543.8,236.6 L544.53,237.06 L545.26,237.5 L545.99,237.9 L546.72,238.26 L547.45,238.59 L548.18,238.88 L548.91,239.12 L549.64,239.33 L550.37,239.49 L551.1,239.6 L551.83,239.66 L552.56,239.68 L553.29,239.64 L554.02,239.56 L554.75,239.44 L555.48,239.29 L556.21,239.11 L556.94,238.89 L557.67,238.66 L558.4,238.4 L559.14,238.1 L559.89,237.74 L560.65,237.34 L561.42,236.91 L562.17,236.45 L562.92,235.99 L563.66,235.53 L564.37,235.08 L565.05,234.67 L565.7,234.3 L566.31,233.97 L566.89,233.65 L567.45,233.35 L567.98,233.06 L568.5,232.79 L569,232.52 L569.5,232.26 L570,232.01 L570.5,231.75 L571,231.5 L571.51,231.25 L572.01,231.01 L572.51,230.78 L573,230.55 L573.49,230.33 L573.98,230.1 L574.46,229.88 L574.95,229.66 L575.42,229.43 L575.9,229.2 L576.37,228.97 L576.85,228.74 L577.31,228.51 L577.78,228.28 L578.24,228.05 L578.7,227.82 L579.16,227.57 L579.61,227.33 L580.06,227.07 L580.5,226.8 L580.94,226.52 L581.36,226.24 L581.79,225.96 L582.2,225.66 L582.62,225.36 L583.03,225.05 L583.45,224.73 L583.86,224.4 L584.28,224.06 L584.7,223.7 L585.13,223.33 L585.55,222.95 L585.98,222.56 L586.41,222.15 L586.84,221.74 L587.27,221.31 L587.7,220.88 L588.13,220.43 L588.57,219.97 L589,219.5 L589.43,219.03 L589.84,218.55 L590.24,218.07 L590.65,217.57 L591.06,217.07 L591.48,216.55 L591.92,216 L592.38,215.43 L592.87,214.83 L593.4,214.2 L593.96,213.52 L594.55,212.79 L595.16,212.02 L595.8,211.22 L596.45,210.41 L597.12,209.59 L597.82,208.78 L598.53,207.98 L599.26,207.22 L600,206.5 L600.76,205.81 L601.54,205.14 L602.34,204.48 L603.15,203.83 L603.99,203.2 L604.84,202.59 L605.71,201.99 L606.59,201.41 L607.49,200.84 L608.4,200.3 L609.35,199.77 L610.36,199.24 L611.4,198.71 L612.46,198.21 L613.53,197.72 L614.59,197.27 L615.62,196.84 L616.61,196.45 L617.54,196.1 L618.4,195.8 L619.17,195.54 L619.86,195.31 L620.48,195.12 L621.07,194.96 L621.62,194.83 L622.18,194.74 L622.74,194.7 L623.34,194.69 L623.99,194.72 L624.7,194.8 L625.47,194.92 L626.28,195.09 L627.12,195.3 L627.98,195.55 L628.86,195.84 L629.77,196.17 L630.69,196.53 L631.62,196.92 L632.56,197.35 L633.5,197.8 L634.47,198.31 L635.48,198.89 L636.52,199.53 L637.57,200.2 L638.63,200.9 L639.68,201.6 L640.72,202.29 L641.73,202.95 L642.69,203.56 L643.6,204.1 L644.43,204.59 L645.19,205.04 L645.88,205.46 L646.55,205.86 L647.2,206.24 L647.86,206.59 L648.56,206.93 L649.32,207.26 L650.16,207.58 L651.1,207.9 L652.17,208.2 L653.36,208.48 L654.64,208.73 L655.98,208.97 L657.34,209.2 L658.71,209.43 L660.05,209.65 L661.33,209.89 L662.53,210.14 L663.6,210.4 L664.57,210.68 L665.48,210.95 L666.32,211.23 L667.12,211.52 L667.87,211.81 L668.58,212.1 L669.27,212.41 L669.92,212.73 L670.57,213.06 L671.2,213.4 L671.83,213.78 L672.45,214.2 L673.05,214.65 L673.63,215.12 L674.18,215.59 L674.68,216.04 L675.15,216.46 L675.56,216.84 L675.91,217.16 L676.2,217.4 L676.2,152.16 L386.9,152.16 Z" fill="#cccccc" clip-path="url(#c7)"/>
<clipPath id="c8"><rect x="384.7" y="196.84" width="293.2" height="69.41"/></clipPath>
<path d="M386.9,218.6 L387.35,218.74 L387.92,218.9 L388.6,219.09 L389.36,219.3 L390.18,219.54 L391.04,219.8 L391.91,220.09 L392.78,220.4 L393.62,220.74 L394.4,221.1 L395.15,221.49 L395.9,221.9 L396.65,222.34 L397.4,222.8 L398.15,223.29 L398.9,223.8 L399.65,224.34 L400.4,224.9 L401.15,225.49 L401.9,226.1 L402.64,226.76 L403.38,227.49 L404.11,228.27 L404.84,229.08 L405.57,229.9 L406.31,230.72 L407.06,231.51 L407.82,232.27 L408.6,232.97 L409.4,233.6 L410.23,234.18 L411.1,234.75 L412,235.29 L412.91,235.8 L413.82,236.28 L414.74,236.7 L415.63,237.08 L416.49,237.39 L417.32,237.63 L418.1,237.8 L418.81,237.9 L419.45,237.95 L420.05,237.95 L420.62,237.89 L421.17,237.76 L421.73,237.57 L422.31,237.32 L422.94,236.99 L423.63,236.58 L424.4,236.1 L425.25,235.51 L426.16,234.79 L427.13,233.98 L428.14,233.09 L429.18,232.14 L430.23,231.15 L431.29,230.16 L432.35,229.17 L433.39,228.21 L434.4,227.3 L435.39,226.43 L436.38,225.55 L437.37,224.68 L438.36,223.81 L439.35,222.94 L440.34,222.08 L441.33,221.21 L442.32,220.34 L443.31,219.47 L444.3,218.6 L445.3,217.72 L446.29,216.82 L447.29,215.91 L448.29,215 L449.29,214.1 L450.3,213.21 L451.3,212.33 L452.3,211.49 L453.3,210.67 L454.3,209.9 L455.3,209.17 L456.3,208.47 L457.3,207.79 L458.3,207.14 L459.3,206.52 L460.3,205.91 L461.3,205.32 L462.3,204.74 L463.3,204.17 L464.3,203.6 L465.3,203.05 L466.3,202.52 L467.3,202 L468.3,201.51 L469.3,201.02 L470.3,200.54 L471.3,200.06 L472.3,199.58 L473.3,199.09 L474.3,198.6 L475.3,198.09 L476.3,197.56 L477.3,197.02 L478.3,196.48 L479.3,195.94 L480.3,195.42 L481.3,194.92 L482.3,194.44 L483.3,194 L484.3,193.6 L485.32,193.23 L486.37,192.89 L487.44,192.56 L488.51,192.26 L489.57,191.99 L490.61,191.74 L491.62,191.53 L492.58,191.35 L493.47,191.21 L494.3,191.1 L495.03,191.02 L495.67,190.97 L496.23,190.94 L496.74,190.95 L497.23,190.99 L497.7,191.07 L498.2,191.2 L498.73,191.37 L499.32,191.61 L500,191.9 L500.77,192.27 L501.6,192.71 L502.49,193.21 L503.42,193.77 L504.37,194.37 L505.32,195 L506.25,195.65 L507.16,196.3 L508.01,196.96 L508.8,197.6 L509.52,198.24 L510.2,198.88 L510.83,199.54 L511.43,200.21 L512.02,200.89 L512.59,201.59 L513.17,202.3 L513.76,203.02 L514.36,203.75 L515,204.5 L515.66,205.26 L516.33,206.05 L517.01,206.85 L517.7,207.66 L518.39,208.48 L519.09,209.31 L519.79,210.15 L520.5,211 L521.2,211.85 L521.9,212.7 L522.6,213.56 L523.3,214.43 L524,215.31 L524.71,216.19 L525.41,217.08 L526.12,217.97 L526.83,218.86 L527.55,219.75 L528.27,220.63 L529,221.5 L529.73,222.37 L530.48,223.25 L531.23,224.13 L531.98,225.01 L532.74,225.89 L533.5,226.75 L534.25,227.6 L535.01,228.43 L535.76,229.23 L536.5,230 L537.24,230.75 L537.97,231.5 L538.7,232.23 L539.43,232.95 L540.16,233.64 L540.89,234.31 L541.62,234.94 L542.34,235.54 L543.07,236.09 L543.8,236.6 L544.53,237.06 L545.26,237.5 L545.99,237.9 L546.72,238.26 L547.45,238.59 L548.18,238.88 L548.91,239.12 L549.64,239.33 L550.37,239.49 L551.1,239.6 L551.83,239.66 L552.56,239.68 L553.29,239.64 L554.02,239.56 L554.75,239.44 L555.48,239.29 L556.21,239.11 L556.94,238.89 L557.67,238.66 L558.4,238.4 L559.14,238.1 L559.89,237.74 L560.65,237.34 L561.42,236.91 L562.17,236.45 L562.92,235.99 L563.66,235.53 L564.37,235.08 L565.05,234.67 L565.7,234.3 L566.31,233.97 L566.89,233.65 L567.45,233.35 L567.98,233.06 L568.5,232.79 L569,232.52 L569.5,232.26 L570,232.01 L570.5,231.75 L571,231.5 L571.51,231.25 L572.01,231.01 L572.51,230.78 L573,230.55 L573.49,230.33 L573.98,230.1 L574.46,229.88 L574.95,229.66 L575.42,229.43 L575.9,229.2 L576.37,228.97 L576.85,228.74 L577.31,228.51 L577.78,228.28 L578.24,228.05 L578.7,227.82 L579.16,227.57 L579.61,227.33 L580.06,227.07 L580.5,226.8 L580.94,226.52 L581.36,226.24 L581.79,225.96 L582.2,225.66 L582.62,225.36 L583.03,225.05 L583.45,224.73 L583.86,224.4 L584.28,224.06 L584.7,223.7 L585.13,223.33 L585.55,222.95 L585.98,222.56 L586.41,222.15 L586.84,221.74 L587.27,221.31 L587.7,220.88 L588.13,220.43 L588.57,219.97 L589,219.5 L589.43,219.03 L589.84,218.55 L590.24,218.07 L590.65,217.57 L591.06,217.07 L591.48,216.55 L591.92,216 L592.38,215.43 L592.87,214.83 L593.4,214.2 L593.96,213.52 L594.55,212.79 L595.16,212.02 L595.8,211.22 L596.45,210.41 L597.12,209.59 L597.82,208.78 L598.53,207.98 L599.26,207.22 L600,206.5 L600.76,205.81 L601.54,205.14 L602.34,204.48 L603.15,203.83 L603.99,203.2 L604.84,202.59 L605.71,201.99 L606.59,201.41 L607.49,200.84 L608.4,200.3 L609.35,199.77 L610.36,199.24 L611.4,198.71 L612.46,198.21 L613.53,197.72 L614.59,197.27 L615.62,196.84 L616.61,196.45 L617.54,196.1 L618.4,195.8 L619.17,195.54 L619.86,195.31 L620.48,195.12 L621.07,194.96 L621.62,194.83 L622.18,194.74 L622.74,194.7 L623.34,194.69 L623.99,194.72 L624.7,194.8 L625.47,194.92 L626.28,195.09 L627.12,195.3 L627.98,195.55 L628.86,195.84 L629.77,196.17 L630.69,196.53 L631.62,196.92 L632.56,197.35 L633.5,197.8 L634.47,198.31 L635.48,198.89 L636.52,199.53 L637.57,200.2 L638.63,200.9 L639.68,201.6 L640.72,202.29 L641.73,202.95 L642.69,203.56 L643.6,204.1 L644.43,204.59 L645.19,205.04 L645.88,205.46 L646.55,205.86 L647.2,206.24 L647.86,206.59 L648.56,206.93 L649.32,207.26 L650.16,207.58 L651.1,207.9 L652.17,208.2 L653.36,208.48 L654.64,208.73 L655.98,208.97 L657.34,209.2 L658.71,209.43 L660.05,209.65 L661.33,209.89 L662.53,210.14 L663.6,210.4 L664.57,210.68 L665.48,210.95 L666.32,211.23 L667.12,211.52 L667.87,211.81 L668.58,212.1 L669.27,212.41 L669.92,212.73 L670.57,213.06 L671.2,213.4 L671.83,213.78 L672.45,214.2 L673.05,214.65 L673.63,215.12 L674.18,215.59 L674.68,216.04 L675.15,216.46 L675.56,216.84 L675.91,217.16 L676.2,217.4 L676.2,196.84 L386.9,196.84 Z" fill="#cccccc" clip-path="url(#c8)"/>
<path d="M444.54,145.75V246.25 M502.38,145.75V246.25 M560.22,145.75V246.25 M618.06,145.75V246.25 M675.9,145.75V246.25 M386.7,159.6H675.9 M386.7,174.5H675.9 M386.7,189.4H675.9 M386.7,204.3H675.9 M386.7,219.2H675.9 M386.7,234.1H675.9" fill="none" stroke="#000" stroke-opacity="0.085" stroke-width="1.1"/>
<line x1="386.7" y1="174.5" x2="675.9" y2="174.5" stroke="#000" stroke-width="1.2" stroke-opacity="0.55"/>
<line x1="444.54" y1="174.5" x2="444.54" y2="177.1" stroke="#000" stroke-width="0.9" stroke-opacity="0.6"/>
<line x1="502.38" y1="174.5" x2="502.38" y2="177.1" stroke="#000" stroke-width="0.9" stroke-opacity="0.6"/>
<line x1="560.22" y1="174.5" x2="560.22" y2="177.1" stroke="#000" stroke-width="0.9" stroke-opacity="0.6"/>
<line x1="618.06" y1="174.5" x2="618.06" y2="177.1" stroke="#000" stroke-width="0.9" stroke-opacity="0.6"/>
<line x1="675.9" y1="174.5" x2="675.9" y2="177.1" stroke="#000" stroke-width="0.9" stroke-opacity="0.6"/>
<line x1="386.7" y1="152.16" x2="675.9" y2="152.16" stroke="#404040" stroke-width="1" stroke-dasharray="2.6 1.1"/>
<line x1="386.7" y1="196.84" x2="675.9" y2="196.84" stroke="#404040" stroke-width="1" stroke-dasharray="2.6 1.1"/>
<path d="M386.9,218.6 C388.15,219.02 391.9,219.85 394.4,221.1 C396.9,222.35 399.4,224.02 401.9,226.1 C404.4,228.18 406.7,231.65 409.4,233.6 C412.1,235.55 415.6,237.38 418.1,237.8 C420.6,238.22 421.68,237.85 424.4,236.1 C427.12,234.35 431.08,230.22 434.4,227.3 C437.72,224.38 440.98,221.5 444.3,218.6 C447.62,215.7 450.97,212.4 454.3,209.9 C457.63,207.4 460.97,205.48 464.3,203.6 C467.63,201.72 470.97,200.27 474.3,198.6 C477.63,196.93 480.97,194.85 484.3,193.6 C487.63,192.35 491.68,191.38 494.3,191.1 C496.92,190.82 497.58,190.82 500,191.9 C502.42,192.98 506.3,195.5 508.8,197.6 C511.3,199.7 512.82,201.98 515,204.5 C517.18,207.02 519.57,209.87 521.9,212.7 C524.23,215.53 526.57,218.62 529,221.5 C531.43,224.38 534.03,227.48 536.5,230 C538.97,232.52 541.37,235 543.8,236.6 C546.23,238.2 548.67,239.3 551.1,239.6 C553.53,239.9 555.97,239.28 558.4,238.4 C560.83,237.52 563.6,235.45 565.7,234.3 C567.8,233.15 569.3,232.35 571,231.5 C572.7,230.65 574.32,229.98 575.9,229.2 C577.48,228.42 579.03,227.72 580.5,226.8 C581.97,225.88 583.28,224.92 584.7,223.7 C586.12,222.48 587.55,221.08 589,219.5 C590.45,217.92 591.57,216.37 593.4,214.2 C595.23,212.03 597.5,208.82 600,206.5 C602.5,204.18 605.33,202.08 608.4,200.3 C611.47,198.52 615.68,196.72 618.4,195.8 C621.12,194.88 622.18,194.47 624.7,194.8 C627.22,195.13 630.35,196.25 633.5,197.8 C636.65,199.35 640.67,202.42 643.6,204.1 C646.53,205.78 647.77,206.85 651.1,207.9 C654.43,208.95 660.25,209.48 663.6,210.4 C666.95,211.32 669.1,212.23 671.2,213.4 C673.3,214.57 675.37,216.73 676.2,217.4" fill="none" stroke="#1a1a1a" stroke-width="1.6"/>
<line x1="386.7" y1="145.75" x2="386.7" y2="246.25" stroke="#7a7a7a" stroke-width="1.25"/>
<text x="629.2" y="148" font-size="9.6" font-style="italic" font-family='"Liberation Sans", sans-serif' fill="#262626" textLength="3.5" lengthAdjust="spacingAndGlyphs">t</text>
<text x="634.6" y="144.4" font-size="7.6" font-family='"Liberation Sans", sans-serif' fill="#262626">*</text>
<text x="640.8" y="148.1" font-size="10" text-anchor="start" font-family='"Liberation Sans", sans-serif' fill="#262626" textLength="35" lengthAdjust="spacingAndGlyphs">=2.999</text>
<rect x="386.4" y="255.8" width="291.4" height="30.3" fill="#fff" stroke="#444" stroke-width="0.9"/>
<rect x="386.4" y="255.8" width="94.6" height="30.3" fill="#000"/>
<rect x="508" y="255.8" width="109" height="30.3" fill="#000"/>
<rect x="632.4" y="255.8" width="45.4" height="30.3" fill="#000"/>
<line x1="35.5" y1="380.55" x2="38.2" y2="380.55" stroke="#555" stroke-width="0.8"/>
<text x="32.6" y="384.3" font-size="10.4" text-anchor="end" font-family='"Liberation Sans", sans-serif' fill="#262626" textLength="5.73" lengthAdjust="spacingAndGlyphs">6</text>
<line x1="35.5" y1="399.95" x2="38.2" y2="399.95" stroke="#555" stroke-width="0.8"/>
<text x="32.6" y="403.7" font-size="10.4" text-anchor="end" font-family='"Liberation Sans", sans-serif' fill="#262626" textLength="5.73" lengthAdjust="spacingAndGlyphs">4</text>
<line x1="35.5" y1="419.35" x2="38.2" y2="419.35" stroke="#555" stroke-width="0.8"/>
<text x="32.6" y="423.1" font-size="10.4" text-anchor="end" font-family='"Liberation Sans", sans-serif' fill="#262626" textLength="5.73" lengthAdjust="spacingAndGlyphs">2</text>
<line x1="35.5" y1="438.75" x2="38.2" y2="438.75" stroke="#555" stroke-width="0.8"/>
<text x="32.6" y="442.5" font-size="10.4" text-anchor="end" font-family='"Liberation Sans", sans-serif' fill="#262626" textLength="5.73" lengthAdjust="spacingAndGlyphs">0</text>
<line x1="35.5" y1="458.15" x2="38.2" y2="458.15" stroke="#555" stroke-width="0.8"/>
<text x="32.6" y="461.9" font-size="10.4" text-anchor="end" font-family='"Liberation Sans", sans-serif' fill="#262626" textLength="13.27" lengthAdjust="spacingAndGlyphs">−2</text>
<line x1="35.5" y1="477.55" x2="38.2" y2="477.55" stroke="#555" stroke-width="0.8"/>
<text x="32.6" y="481.3" font-size="10.4" text-anchor="end" font-family='"Liberation Sans", sans-serif' fill="#262626" textLength="13.27" lengthAdjust="spacingAndGlyphs">−4</text>
<clipPath id="c9"><rect x="38.2" y="374.5" width="282.8" height="111.5"/></clipPath><g clip-path="url(#c9)">
<clipPath id="c10"><path d="M38.5,404.7 C40.8,403.97 47.68,402.18 52.3,400.3 C56.92,398.42 61,395.03 66.2,393.4 C71.4,391.77 78.73,390.78 83.5,390.5 C88.27,390.22 90.75,391.07 94.8,391.7 C98.85,392.33 103.32,393.35 107.8,394.3 C112.28,395.25 117.17,396.63 121.7,397.4 C126.23,398.17 130.07,398.38 135,398.9 C139.93,399.42 146.35,399.82 151.3,400.5 C156.25,401.18 159.58,401.88 164.7,403 C169.82,404.12 176.08,405.83 182,407.2 C187.92,408.57 195.2,410.77 200.2,411.2 C205.2,411.63 207.87,410.92 212,409.8 C216.13,408.68 219.95,405.97 225,404.5 C230.05,403.03 236.47,401.95 242.3,401 C248.13,400.05 254.22,399.23 260,398.8 C265.78,398.37 269.83,398.03 277,398.4 C284.17,398.77 295.8,399.98 303,401 C310.2,402.02 317.33,403.92 320.2,404.5 L320.2,450.6 C317.33,450.88 310.2,451.82 303,452.3 C295.8,452.78 284.22,453.07 277,453.5 C269.78,453.93 265.48,453.93 259.7,454.9 C253.92,455.87 247.25,457.78 242.3,459.3 C237.35,460.82 233.72,462.63 230,464 C226.28,465.37 223.38,466.55 220,467.5 C216.62,468.45 213.15,469.48 209.7,469.7 C206.25,469.92 203.92,469.67 199.3,468.8 C194.68,467.93 187.77,466.08 182,464.5 C176.23,462.92 169.82,460.7 164.7,459.3 C159.58,457.9 156.25,456.85 151.3,456.1 C146.35,455.35 139.93,455.28 135,454.8 C130.07,454.32 126.23,454.05 121.7,453.2 C117.17,452.35 112.28,451.15 107.8,449.7 C103.32,448.25 99.72,445.93 94.8,444.5 C89.88,443.07 83.07,441.38 78.3,441.1 C73.53,440.82 70.53,441.8 66.2,442.8 C61.87,443.8 56.92,445.65 52.3,447.1 C47.68,448.55 40.8,450.77 38.5,451.5 Z"/></clipPath>
<path d="M38.5,404.7 C40.8,403.97 47.68,402.18 52.3,400.3 C56.92,398.42 61,395.03 66.2,393.4 C71.4,391.77 78.73,390.78 83.5,390.5 C88.27,390.22 90.75,391.07 94.8,391.7 C98.85,392.33 103.32,393.35 107.8,394.3 C112.28,395.25 117.17,396.63 121.7,397.4 C126.23,398.17 130.07,398.38 135,398.9 C139.93,399.42 146.35,399.82 151.3,400.5 C156.25,401.18 159.58,401.88 164.7,403 C169.82,404.12 176.08,405.83 182,407.2 C187.92,408.57 195.2,410.77 200.2,411.2 C205.2,411.63 207.87,410.92 212,409.8 C216.13,408.68 219.95,405.97 225,404.5 C230.05,403.03 236.47,401.95 242.3,401 C248.13,400.05 254.22,399.23 260,398.8 C265.78,398.37 269.83,398.03 277,398.4 C284.17,398.77 295.8,399.98 303,401 C310.2,402.02 317.33,403.92 320.2,404.5 L320.2,450.6 C317.33,450.88 310.2,451.82 303,452.3 C295.8,452.78 284.22,453.07 277,453.5 C269.78,453.93 265.48,453.93 259.7,454.9 C253.92,455.87 247.25,457.78 242.3,459.3 C237.35,460.82 233.72,462.63 230,464 C226.28,465.37 223.38,466.55 220,467.5 C216.62,468.45 213.15,469.48 209.7,469.7 C206.25,469.92 203.92,469.67 199.3,468.8 C194.68,467.93 187.77,466.08 182,464.5 C176.23,462.92 169.82,460.7 164.7,459.3 C159.58,457.9 156.25,456.85 151.3,456.1 C146.35,455.35 139.93,455.28 135,454.8 C130.07,454.32 126.23,454.05 121.7,453.2 C117.17,452.35 112.28,451.15 107.8,449.7 C103.32,448.25 99.72,445.93 94.8,444.5 C89.88,443.07 83.07,441.38 78.3,441.1 C73.53,440.82 70.53,441.8 66.2,442.8 C61.87,443.8 56.92,445.65 52.3,447.1 C47.68,448.55 40.8,450.77 38.5,451.5 Z" fill="#80ff80" stroke="#4a9a4a" stroke-width="0.5"/>
<path d="M38.5,402.9 C40.8,401.75 47.68,398.6 52.3,396 C56.92,393.4 61.43,389.32 66.2,387.3 C70.97,385.28 76.13,383.9 80.9,383.9 C85.67,383.9 90.32,385.87 94.8,387.3 C99.28,388.73 103.32,390.9 107.8,392.5 C112.28,394.1 117.17,395.88 121.7,396.9 C126.23,397.92 130.07,398.12 135,398.6 C139.93,399.08 146.35,399.22 151.3,399.8 C156.25,400.38 159.58,401 164.7,402.1 C169.82,403.2 176.08,404.97 182,406.4 C187.92,407.83 195.2,410.27 200.2,410.7 C205.2,411.13 207.87,410.15 212,409 C216.13,407.85 219.95,405.25 225,403.8 C230.05,402.35 236.47,401.27 242.3,400.3 C248.13,399.33 254.22,398.43 260,398 C265.78,397.57 269.83,397.32 277,397.7 C284.17,398.08 295.8,399.43 303,400.3 C310.2,401.17 317.33,402.47 320.2,402.9 L320.2,453.2 C317.33,453.48 310.2,454.18 303,454.9 C295.8,455.62 284.22,456.63 277,457.5 C269.78,458.37 265.48,458.5 259.7,460.1 C253.92,461.7 247.25,465.22 242.3,467.1 C237.35,468.98 233.7,470.25 230,471.4 C226.3,472.55 223.48,473.28 220.1,474 C216.72,474.72 213.17,475.7 209.7,475.7 C206.23,475.7 203.92,475.43 199.3,474 C194.68,472.57 187.77,469.43 182,467.1 C176.23,464.77 169.82,461.68 164.7,460 C159.58,458.32 156.25,457.58 151.3,457 C146.35,456.42 139.93,456.92 135,456.5 C130.07,456.08 126.23,455.5 121.7,454.5 C117.17,453.5 112.28,452.08 107.8,450.5 C103.32,448.92 99.72,446.53 94.8,445 C89.88,443.47 83.07,441.63 78.3,441.3 C73.53,440.97 70.53,441.95 66.2,443 C61.87,444.05 56.92,446.05 52.3,447.6 C47.68,449.15 40.8,451.52 38.5,452.3 Z" fill="#c0c0ff" stroke="#6a6ab0" stroke-width="0.5"/>
<path d="M38.5,402.9 C40.8,401.75 47.68,398.6 52.3,396 C56.92,393.4 61.43,389.32 66.2,387.3 C70.97,385.28 76.13,383.9 80.9,383.9 C85.67,383.9 90.32,385.87 94.8,387.3 C99.28,388.73 103.32,390.9 107.8,392.5 C112.28,394.1 117.17,395.88 121.7,396.9 C126.23,397.92 130.07,398.12 135,398.6 C139.93,399.08 146.35,399.22 151.3,399.8 C156.25,400.38 159.58,401 164.7,402.1 C169.82,403.2 176.08,404.97 182,406.4 C187.92,407.83 195.2,410.27 200.2,410.7 C205.2,411.13 207.87,410.15 212,409 C216.13,407.85 219.95,405.25 225,403.8 C230.05,402.35 236.47,401.27 242.3,400.3 C248.13,399.33 254.22,398.43 260,398 C265.78,397.57 269.83,397.32 277,397.7 C284.17,398.08 295.8,399.43 303,400.3 C310.2,401.17 317.33,402.47 320.2,402.9 L320.2,453.2 C317.33,453.48 310.2,454.18 303,454.9 C295.8,455.62 284.22,456.63 277,457.5 C269.78,458.37 265.48,458.5 259.7,460.1 C253.92,461.7 247.25,465.22 242.3,467.1 C237.35,468.98 233.7,470.25 230,471.4 C226.3,472.55 223.48,473.28 220.1,474 C216.72,474.72 213.17,475.7 209.7,475.7 C206.23,475.7 203.92,475.43 199.3,474 C194.68,472.57 187.77,469.43 182,467.1 C176.23,464.77 169.82,461.68 164.7,460 C159.58,458.32 156.25,457.58 151.3,457 C146.35,456.42 139.93,456.92 135,456.5 C130.07,456.08 126.23,455.5 121.7,454.5 C117.17,453.5 112.28,452.08 107.8,450.5 C103.32,448.92 99.72,446.53 94.8,445 C89.88,443.47 83.07,441.63 78.3,441.3 C73.53,440.97 70.53,441.95 66.2,443 C61.87,444.05 56.92,446.05 52.3,447.6 C47.68,449.15 40.8,451.52 38.5,452.3 Z" fill="#80c0c0" clip-path="url(#c10)"/>
<path d="M38.5,404.7 C40.8,403.97 47.68,402.18 52.3,400.3 C56.92,398.42 61,395.03 66.2,393.4 C71.4,391.77 78.73,390.78 83.5,390.5 C88.27,390.22 90.75,391.07 94.8,391.7 C98.85,392.33 103.32,393.35 107.8,394.3 C112.28,395.25 117.17,396.63 121.7,397.4 C126.23,398.17 130.07,398.38 135,398.9 C139.93,399.42 146.35,399.82 151.3,400.5 C156.25,401.18 159.58,401.88 164.7,403 C169.82,404.12 176.08,405.83 182,407.2 C187.92,408.57 195.2,410.77 200.2,411.2 C205.2,411.63 207.87,410.92 212,409.8 C216.13,408.68 219.95,405.97 225,404.5 C230.05,403.03 236.47,401.95 242.3,401 C248.13,400.05 254.22,399.23 260,398.8 C265.78,398.37 269.83,398.03 277,398.4 C284.17,398.77 295.8,399.98 303,401 C310.2,402.02 317.33,403.92 320.2,404.5" fill="none" stroke="#4f7f7f" stroke-width="0.5" stroke-opacity="0.8"/>
<path d="M38.5,451.5 C40.8,450.77 47.68,448.55 52.3,447.1 C56.92,445.65 61.87,443.8 66.2,442.8 C70.53,441.8 73.53,440.82 78.3,441.1 C83.07,441.38 89.88,443.07 94.8,444.5 C99.72,445.93 103.32,448.25 107.8,449.7 C112.28,451.15 117.17,452.35 121.7,453.2 C126.23,454.05 130.07,454.32 135,454.8 C139.93,455.28 146.35,455.35 151.3,456.1 C156.25,456.85 159.58,457.9 164.7,459.3 C169.82,460.7 176.23,462.92 182,464.5 C187.77,466.08 194.68,467.93 199.3,468.8 C203.92,469.67 206.25,469.92 209.7,469.7 C213.15,469.48 216.62,468.45 220,467.5 C223.38,466.55 226.28,465.37 230,464 C233.72,462.63 237.35,460.82 242.3,459.3 C247.25,457.78 253.92,455.87 259.7,454.9 C265.48,453.93 269.78,453.93 277,453.5 C284.22,453.07 295.8,452.78 303,452.3 C310.2,451.82 317.33,450.88 320.2,450.6" fill="none" stroke="#4f7f7f" stroke-width="0.5" stroke-opacity="0.8"/>
<path d="M38.5,402.9 C40.8,401.75 47.68,398.6 52.3,396 C56.92,393.4 61.43,389.32 66.2,387.3 C70.97,385.28 76.13,383.9 80.9,383.9 C85.67,383.9 90.32,385.87 94.8,387.3 C99.28,388.73 103.32,390.9 107.8,392.5 C112.28,394.1 117.17,395.88 121.7,396.9 C126.23,397.92 130.07,398.12 135,398.6 C139.93,399.08 146.35,399.22 151.3,399.8 C156.25,400.38 159.58,401 164.7,402.1 C169.82,403.2 176.08,404.97 182,406.4 C187.92,407.83 195.2,410.27 200.2,410.7 C205.2,411.13 207.87,410.15 212,409 C216.13,407.85 219.95,405.25 225,403.8 C230.05,402.35 236.47,401.27 242.3,400.3 C248.13,399.33 254.22,398.43 260,398 C265.78,397.57 269.83,397.32 277,397.7 C284.17,398.08 295.8,399.43 303,400.3 C310.2,401.17 317.33,402.47 320.2,402.9" fill="none" stroke="#6f6fa0" stroke-width="0.5" stroke-opacity="0.8"/>
<path d="M38.5,452.3 C40.8,451.52 47.68,449.15 52.3,447.6 C56.92,446.05 61.87,444.05 66.2,443 C70.53,441.95 73.53,440.97 78.3,441.3 C83.07,441.63 89.88,443.47 94.8,445 C99.72,446.53 103.32,448.92 107.8,450.5 C112.28,452.08 117.17,453.5 121.7,454.5 C126.23,455.5 130.07,456.08 135,456.5 C139.93,456.92 146.35,456.42 151.3,457 C156.25,457.58 159.58,458.32 164.7,460 C169.82,461.68 176.23,464.77 182,467.1 C187.77,469.43 194.68,472.57 199.3,474 C203.92,475.43 206.23,475.7 209.7,475.7 C213.17,475.7 216.72,474.72 220.1,474 C223.48,473.28 226.3,472.55 230,471.4 C233.7,470.25 237.35,468.98 242.3,467.1 C247.25,465.22 253.92,461.7 259.7,460.1 C265.48,458.5 269.78,458.37 277,457.5 C284.22,456.63 295.8,455.62 303,454.9 C310.2,454.18 317.33,453.48 320.2,453.2" fill="none" stroke="#6f6fa0" stroke-width="0.5" stroke-opacity="0.8"/>
</g>
<path d="M94.64,377.5V483 M151.08,377.5V483 M207.52,377.5V483 M263.96,377.5V483 M320.4,377.5V483 M38.2,380.55H320.4 M38.2,399.95H320.4 M38.2,419.35H320.4 M38.2,438.75H320.4 M38.2,458.15H320.4 M38.2,477.55H320.4" fill="none" stroke="#000" stroke-opacity="0.085" stroke-width="1.1"/>
<line x1="38.2" y1="438.75" x2="320.4" y2="438.75" stroke="#000" stroke-width="1.5" stroke-opacity="0.42"/>
<line x1="94.64" y1="438.75" x2="94.64" y2="441.35" stroke="#000" stroke-width="0.9" stroke-opacity="0.6"/>
<line x1="151.08" y1="438.75" x2="151.08" y2="441.35" stroke="#000" stroke-width="0.9" stroke-opacity="0.6"/>
<line x1="207.52" y1="438.75" x2="207.52" y2="441.35" stroke="#000" stroke-width="0.9" stroke-opacity="0.6"/>
<line x1="263.96" y1="438.75" x2="263.96" y2="441.35" stroke="#000" stroke-width="0.9" stroke-opacity="0.6"/>
<line x1="320.4" y1="438.75" x2="320.4" y2="441.35" stroke="#000" stroke-width="0.9" stroke-opacity="0.6"/>
<g clip-path="url(#c9)">
<path d="M38.5,427.2 C40.8,426.48 47.68,424.35 52.3,422.9 C56.92,421.45 61.43,419.67 66.2,418.5 C70.97,417.33 76.13,416.03 80.9,415.9 C85.67,415.77 90.32,416.77 94.8,417.7 C99.28,418.63 103.32,420.35 107.8,421.5 C112.28,422.65 117.17,423.77 121.7,424.6 C126.23,425.43 130.07,426.07 135,426.5 C139.93,426.93 146.35,426.65 151.3,427.2 C156.25,427.75 159.58,428.42 164.7,429.8 C169.82,431.18 176.8,433.97 182,435.5 C187.2,437.03 191.72,438.42 195.9,439 C200.08,439.58 203.07,439.38 207.1,439 C211.13,438.62 216.28,437.65 220.1,436.7 C223.92,435.75 226.3,434.3 230,433.3 C233.7,432.3 237.35,431.87 242.3,430.7 C247.25,429.53 253.92,427.23 259.7,426.3 C265.48,425.37 271.23,425.18 277,425.1 C282.77,425.02 287.1,425.45 294.3,425.8 C301.5,426.15 315.88,426.97 320.2,427.2" fill="none" stroke="#151515" stroke-width="1.35"/>
<path d="M38.5,426.3 C40.8,425.43 47.68,422.92 52.3,421.1 C56.92,419.28 61.43,416.83 66.2,415.4 C70.97,413.97 76.13,412.5 80.9,412.5 C85.67,412.5 90.32,413.97 94.8,415.4 C99.28,416.83 103.32,419.48 107.8,421.1 C112.28,422.72 117.17,424.15 121.7,425.1 C126.23,426.05 130.07,426.3 135,426.8 C139.93,427.3 146.35,427.45 151.3,428.1 C156.25,428.75 159.58,429.27 164.7,430.7 C169.82,432.13 176.8,434.97 182,436.7 C187.2,438.43 191.42,440.08 195.9,441.1 C200.38,442.12 204.87,442.95 208.9,442.8 C212.93,442.65 216.58,441.07 220.1,440.2 C223.62,439.33 226.3,438.62 230,437.6 C233.7,436.58 237.35,435.4 242.3,434.1 C247.25,432.8 253.92,430.72 259.7,429.8 C265.48,428.88 271.23,428.83 277,428.6 C282.77,428.37 287.1,428.48 294.3,428.4 C301.5,428.32 315.88,428.15 320.2,428.1" fill="none" stroke="#000" stroke-width="1.9" stroke-dasharray="1.9 2.7"/>
</g>
<line x1="38.2" y1="377.5" x2="38.2" y2="483" stroke="#7a7a7a" stroke-width="1.25"/>
<rect x="201" y="381.2" width="117.5" height="29.3" rx="2" fill="#fff" fill-opacity="0.8" stroke="#d8d8d8" stroke-width="0.8"/>
<line x1="203.5" y1="388" x2="222.2" y2="388" stroke="#333" stroke-width="1.4"/>
<line x1="204.1" y1="401.5" x2="222.2" y2="401.5" stroke="#000" stroke-width="1.8" stroke-dasharray="1.8 2.8"/>
<text x="229" y="392.2" font-size="9.5" text-anchor="start" font-family='"Liberation Sans", sans-serif' fill="#262626" textLength="86.03" lengthAdjust="spacingAndGlyphs">Comfortable Speed</text>
<text x="229" y="405.2" font-size="9.5" text-anchor="start" font-family='"Liberation Sans", sans-serif' fill="#262626" textLength="48.72" lengthAdjust="spacingAndGlyphs">Fast Speed</text>
<line x1="35.5" y1="494.5" x2="38.2" y2="494.5" stroke="#555" stroke-width="0.8"/>
<text x="32.6" y="498.25" font-size="10.4" text-anchor="end" font-family='"Liberation Sans", sans-serif' fill="#262626" textLength="11.45" lengthAdjust="spacingAndGlyphs">15</text>
<line x1="35.5" y1="515" x2="38.2" y2="515" stroke="#555" stroke-width="0.8"/>
<text x="32.6" y="518.75" font-size="10.4" text-anchor="end" font-family='"Liberation Sans", sans-serif' fill="#262626" textLength="11.45" lengthAdjust="spacingAndGlyphs">10</text>
<line x1="35.5" y1="535.5" x2="38.2" y2="535.5" stroke="#555" stroke-width="0.8"/>
<text x="32.6" y="539.25" font-size="10.4" text-anchor="end" font-family='"Liberation Sans", sans-serif' fill="#262626" textLength="5.73" lengthAdjust="spacingAndGlyphs">5</text>
<line x1="35.5" y1="556" x2="38.2" y2="556" stroke="#555" stroke-width="0.8"/>
<text x="32.6" y="559.75" font-size="10.4" text-anchor="end" font-family='"Liberation Sans", sans-serif' fill="#262626" textLength="5.73" lengthAdjust="spacingAndGlyphs">0</text>
<line x1="35.5" y1="576.5" x2="38.2" y2="576.5" stroke="#555" stroke-width="0.8"/>
<text x="32.6" y="580.25" font-size="10.4" text-anchor="end" font-family='"Liberation Sans", sans-serif' fill="#262626" textLength="13.27" lengthAdjust="spacingAndGlyphs">−5</text>
<line x1="35.5" y1="597" x2="38.2" y2="597" stroke="#555" stroke-width="0.8"/>
<text x="32.6" y="600.75" font-size="10.4" text-anchor="end" font-family='"Liberation Sans", sans-serif' fill="#262626" textLength="18.99" lengthAdjust="spacingAndGlyphs">−10</text>
<clipPath id="c11"><rect x="36.2" y="473.75" width="286.2" height="70.16"/></clipPath>
<path d="M38.2,554.4 L38.6,554.65 L39.1,554.99 L39.69,555.38 L40.36,555.83 L41.08,556.3 L41.84,556.79 L42.62,557.28 L43.4,557.76 L44.17,558.2 L44.9,558.6 L45.62,558.96 L46.35,559.31 L47.09,559.64 L47.84,559.96 L48.6,560.27 L49.36,560.58 L50.12,560.89 L50.89,561.19 L51.65,561.49 L52.4,561.8 L53.15,562.11 L53.9,562.41 L54.65,562.71 L55.4,563.01 L56.15,563.31 L56.9,563.61 L57.65,563.91 L58.4,564.2 L59.15,564.5 L59.9,564.8 L60.65,565.11 L61.4,565.45 L62.15,565.79 L62.9,566.14 L63.65,566.49 L64.4,566.82 L65.15,567.12 L65.9,567.39 L66.65,567.62 L67.4,567.8 L68.14,567.93 L68.86,568.01 L69.57,568.05 L70.28,568.06 L70.99,568.05 L71.72,568.02 L72.47,567.97 L73.24,567.91 L74.05,567.85 L74.9,567.8 L75.8,567.75 L76.74,567.69 L77.72,567.62 L78.72,567.54 L79.74,567.46 L80.78,567.36 L81.82,567.24 L82.86,567.11 L83.89,566.97 L84.9,566.8 L85.9,566.62 L86.9,566.42 L87.9,566.21 L88.9,565.98 L89.91,565.74 L90.91,565.48 L91.91,565.21 L92.91,564.92 L93.9,564.62 L94.9,564.3 L95.89,563.96 L96.88,563.6 L97.87,563.22 L98.86,562.82 L99.85,562.41 L100.84,561.99 L101.83,561.56 L102.82,561.14 L103.81,560.71 L104.8,560.3 L105.8,559.88 L106.79,559.46 L107.79,559.02 L108.79,558.59 L109.79,558.15 L110.8,557.72 L111.8,557.29 L112.8,556.88 L113.8,556.48 L114.8,556.1 L115.8,555.73 L116.8,555.37 L117.8,555.02 L118.8,554.68 L119.8,554.35 L120.8,554.03 L121.8,553.73 L122.8,553.43 L123.8,553.16 L124.8,552.9 L125.8,552.65 L126.8,552.4 L127.8,552.16 L128.8,551.93 L129.8,551.72 L130.8,551.53 L131.8,551.37 L132.8,551.24 L133.8,551.15 L134.8,551.1 L135.81,551.1 L136.84,551.14 L137.88,551.22 L138.92,551.34 L139.96,551.48 L140.98,551.64 L141.98,551.82 L142.96,552.01 L143.9,552.21 L144.8,552.4 L145.65,552.61 L146.46,552.86 L147.23,553.12 L147.98,553.41 L148.71,553.7 L149.42,553.99 L150.13,554.26 L150.84,554.51 L151.56,554.73 L152.3,554.9 L153.03,555.04 L153.74,555.15 L154.43,555.24 L155.12,555.31 L155.82,555.36 L156.53,555.39 L157.28,555.41 L158.06,555.42 L158.9,555.41 L159.8,555.4 L160.78,555.38 L161.82,555.34 L162.93,555.28 L164.07,555.22 L165.24,555.14 L166.43,555.05 L167.61,554.95 L168.78,554.84 L169.91,554.72 L171,554.6 L172.05,554.48 L173.08,554.36 L174.09,554.24 L175.09,554.11 L176.07,553.97 L177.06,553.81 L178.04,553.63 L179.02,553.42 L180.01,553.18 L181,552.9 L182,552.57 L183,552.18 L184,551.74 L185,551.28 L186,550.8 L187,550.32 L188,549.84 L189,549.39 L190,548.97 L191,548.6 L191.98,548.27 L192.92,547.96 L193.85,547.68 L194.76,547.41 L195.69,547.16 L196.65,546.92 L197.64,546.7 L198.69,546.49 L199.8,546.29 L201,546.1 L202.28,545.92 L203.62,545.75 L205.03,545.59 L206.48,545.44 L207.98,545.31 L209.52,545.2 L211.08,545.09 L212.68,545.01 L214.28,544.95 L215.9,544.9 L217.58,544.89 L219.35,544.93 L221.2,545 L223.07,545.09 L224.96,545.19 L226.82,545.28 L228.62,545.37 L230.34,545.42 L231.94,545.44 L233.4,545.4 L234.7,545.31 L235.88,545.19 L236.95,545.03 L237.94,544.84 L238.87,544.64 L239.76,544.42 L240.64,544.21 L241.52,543.99 L242.43,543.79 L243.4,543.6 L244.39,543.42 L245.36,543.22 L246.32,543.01 L247.28,542.81 L248.24,542.61 L249.22,542.42 L250.22,542.25 L251.24,542.1 L252.3,541.98 L253.4,541.9 L254.55,541.85 L255.74,541.84 L256.97,541.84 L258.22,541.87 L259.5,541.92 L260.79,541.99 L262.08,542.07 L263.37,542.17 L264.64,542.28 L265.9,542.4 L267.14,542.53 L268.38,542.69 L269.62,542.86 L270.86,543.04 L272.1,543.24 L273.34,543.46 L274.58,543.68 L275.82,543.91 L277.06,544.15 L278.3,544.4 L279.53,544.67 L280.75,544.96 L281.96,545.27 L283.17,545.59 L284.39,545.92 L285.62,546.25 L286.86,546.56 L288.14,546.87 L289.45,547.15 L290.8,547.4 L292.23,547.62 L293.76,547.82 L295.35,548 L296.98,548.16 L298.61,548.31 L300.22,548.46 L301.77,548.61 L303.24,548.76 L304.59,548.92 L305.8,549.1 L306.86,549.29 L307.79,549.48 L308.62,549.68 L309.36,549.89 L310.05,550.09 L310.7,550.3 L311.32,550.51 L311.95,550.71 L312.6,550.91 L313.3,551.1 L314.05,551.3 L314.84,551.5 L315.66,551.71 L316.47,551.92 L317.27,552.12 L318.03,552.32 L318.73,552.5 L319.36,552.66 L319.89,552.79 L320.3,552.9 L320.3,543.91 L38.2,543.91 Z" fill="#cccccc" clip-path="url(#c11)"/>
<clipPath id="c12"><rect x="36.2" y="568.09" width="286.2" height="49.16"/></clipPath>
<path d="M38.2,554.4 L38.6,554.65 L39.1,554.99 L39.69,555.38 L40.36,555.83 L41.08,556.3 L41.84,556.79 L42.62,557.28 L43.4,557.76 L44.17,558.2 L44.9,558.6 L45.62,558.96 L46.35,559.31 L47.09,559.64 L47.84,559.96 L48.6,560.27 L49.36,560.58 L50.12,560.89 L50.89,561.19 L51.65,561.49 L52.4,561.8 L53.15,562.11 L53.9,562.41 L54.65,562.71 L55.4,563.01 L56.15,563.31 L56.9,563.61 L57.65,563.91 L58.4,564.2 L59.15,564.5 L59.9,564.8 L60.65,565.11 L61.4,565.45 L62.15,565.79 L62.9,566.14 L63.65,566.49 L64.4,566.82 L65.15,567.12 L65.9,567.39 L66.65,567.62 L67.4,567.8 L68.14,567.93 L68.86,568.01 L69.57,568.05 L70.28,568.06 L70.99,568.05 L71.72,568.02 L72.47,567.97 L73.24,567.91 L74.05,567.85 L74.9,567.8 L75.8,567.75 L76.74,567.69 L77.72,567.62 L78.72,567.54 L79.74,567.46 L80.78,567.36 L81.82,567.24 L82.86,567.11 L83.89,566.97 L84.9,566.8 L85.9,566.62 L86.9,566.42 L87.9,566.21 L88.9,565.98 L89.91,565.74 L90.91,565.48 L91.91,565.21 L92.91,564.92 L93.9,564.62 L94.9,564.3 L95.89,563.96 L96.88,563.6 L97.87,563.22 L98.86,562.82 L99.85,562.41 L100.84,561.99 L101.83,561.56 L102.82,561.14 L103.81,560.71 L104.8,560.3 L105.8,559.88 L106.79,559.46 L107.79,559.02 L108.79,558.59 L109.79,558.15 L110.8,557.72 L111.8,557.29 L112.8,556.88 L113.8,556.48 L114.8,556.1 L115.8,555.73 L116.8,555.37 L117.8,555.02 L118.8,554.68 L119.8,554.35 L120.8,554.03 L121.8,553.73 L122.8,553.43 L123.8,553.16 L124.8,552.9 L125.8,552.65 L126.8,552.4 L127.8,552.16 L128.8,551.93 L129.8,551.72 L130.8,551.53 L131.8,551.37 L132.8,551.24 L133.8,551.15 L134.8,551.1 L135.81,551.1 L136.84,551.14 L137.88,551.22 L138.92,551.34 L139.96,551.48 L140.98,551.64 L141.98,551.82 L142.96,552.01 L143.9,552.21 L144.8,552.4 L145.65,552.61 L146.46,552.86 L147.23,553.12 L147.98,553.41 L148.71,553.7 L149.42,553.99 L150.13,554.26 L150.84,554.51 L151.56,554.73 L152.3,554.9 L153.03,555.04 L153.74,555.15 L154.43,555.24 L155.12,555.31 L155.82,555.36 L156.53,555.39 L157.28,555.41 L158.06,555.42 L158.9,555.41 L159.8,555.4 L160.78,555.38 L161.82,555.34 L162.93,555.28 L164.07,555.22 L165.24,555.14 L166.43,555.05 L167.61,554.95 L168.78,554.84 L169.91,554.72 L171,554.6 L172.05,554.48 L173.08,554.36 L174.09,554.24 L175.09,554.11 L176.07,553.97 L177.06,553.81 L178.04,553.63 L179.02,553.42 L180.01,553.18 L181,552.9 L182,552.57 L183,552.18 L184,551.74 L185,551.28 L186,550.8 L187,550.32 L188,549.84 L189,549.39 L190,548.97 L191,548.6 L191.98,548.27 L192.92,547.96 L193.85,547.68 L194.76,547.41 L195.69,547.16 L196.65,546.92 L197.64,546.7 L198.69,546.49 L199.8,546.29 L201,546.1 L202.28,545.92 L203.62,545.75 L205.03,545.59 L206.48,545.44 L207.98,545.31 L209.52,545.2 L211.08,545.09 L212.68,545.01 L214.28,544.95 L215.9,544.9 L217.58,544.89 L219.35,544.93 L221.2,545 L223.07,545.09 L224.96,545.19 L226.82,545.28 L228.62,545.37 L230.34,545.42 L231.94,545.44 L233.4,545.4 L234.7,545.31 L235.88,545.19 L236.95,545.03 L237.94,544.84 L238.87,544.64 L239.76,544.42 L240.64,544.21 L241.52,543.99 L242.43,543.79 L243.4,543.6 L244.39,543.42 L245.36,543.22 L246.32,543.01 L247.28,542.81 L248.24,542.61 L249.22,542.42 L250.22,542.25 L251.24,542.1 L252.3,541.98 L253.4,541.9 L254.55,541.85 L255.74,541.84 L256.97,541.84 L258.22,541.87 L259.5,541.92 L260.79,541.99 L262.08,542.07 L263.37,542.17 L264.64,542.28 L265.9,542.4 L267.14,542.53 L268.38,542.69 L269.62,542.86 L270.86,543.04 L272.1,543.24 L273.34,543.46 L274.58,543.68 L275.82,543.91 L277.06,544.15 L278.3,544.4 L279.53,544.67 L280.75,544.96 L281.96,545.27 L283.17,545.59 L284.39,545.92 L285.62,546.25 L286.86,546.56 L288.14,546.87 L289.45,547.15 L290.8,547.4 L292.23,547.62 L293.76,547.82 L295.35,548 L296.98,548.16 L298.61,548.31 L300.22,548.46 L301.77,548.61 L303.24,548.76 L304.59,548.92 L305.8,549.1 L306.86,549.29 L307.79,549.48 L308.62,549.68 L309.36,549.89 L310.05,550.09 L310.7,550.3 L311.32,550.51 L311.95,550.71 L312.6,550.91 L313.3,551.1 L314.05,551.3 L314.84,551.5 L315.66,551.71 L316.47,551.92 L317.27,552.12 L318.03,552.32 L318.73,552.5 L319.36,552.66 L319.89,552.79 L320.3,552.9 L320.3,568.09 L38.2,568.09 Z" fill="#cccccc" clip-path="url(#c12)"/>
<path d="M94.64,493.75V597.25 M151.08,493.75V597.25 M207.52,493.75V597.25 M263.96,493.75V597.25 M320.4,493.75V597.25 M38.2,494.5H320.4 M38.2,515H320.4 M38.2,535.5H320.4 M38.2,556H320.4 M38.2,576.5H320.4" fill="none" stroke="#000" stroke-opacity="0.085" stroke-width="1.1"/>
<line x1="38.2" y1="556" x2="320.4" y2="556" stroke="#000" stroke-width="1.2" stroke-opacity="0.55"/>
<line x1="94.64" y1="556" x2="94.64" y2="558.6" stroke="#000" stroke-width="0.9" stroke-opacity="0.6"/>
<line x1="151.08" y1="556" x2="151.08" y2="558.6" stroke="#000" stroke-width="0.9" stroke-opacity="0.6"/>
<line x1="207.52" y1="556" x2="207.52" y2="558.6" stroke="#000" stroke-width="0.9" stroke-opacity="0.6"/>
<line x1="263.96" y1="556" x2="263.96" y2="558.6" stroke="#000" stroke-width="0.9" stroke-opacity="0.6"/>
<line x1="320.4" y1="556" x2="320.4" y2="558.6" stroke="#000" stroke-width="0.9" stroke-opacity="0.6"/>
<line x1="38.2" y1="543.91" x2="320.4" y2="543.91" stroke="#404040" stroke-width="1" stroke-dasharray="2.6 1.1"/>
<line x1="38.2" y1="568.09" x2="320.4" y2="568.09" stroke="#404040" stroke-width="1" stroke-dasharray="2.6 1.1"/>
<path d="M38.2,554.4 C39.32,555.1 42.53,557.37 44.9,558.6 C47.27,559.83 49.9,560.77 52.4,561.8 C54.9,562.83 57.4,563.8 59.9,564.8 C62.4,565.8 64.9,567.3 67.4,567.8 C69.9,568.3 71.98,567.97 74.9,567.8 C77.82,567.63 81.57,567.38 84.9,566.8 C88.23,566.22 91.58,565.38 94.9,564.3 C98.22,563.22 101.48,561.67 104.8,560.3 C108.12,558.93 111.47,557.33 114.8,556.1 C118.13,554.87 121.47,553.73 124.8,552.9 C128.13,552.07 131.47,551.18 134.8,551.1 C138.13,551.02 141.88,551.77 144.8,552.4 C147.72,553.03 149.8,554.4 152.3,554.9 C154.8,555.4 156.68,555.45 159.8,555.4 C162.92,555.35 167.47,555.02 171,554.6 C174.53,554.18 177.67,553.9 181,552.9 C184.33,551.9 187.67,549.73 191,548.6 C194.33,547.47 196.85,546.72 201,546.1 C205.15,545.48 210.5,545.02 215.9,544.9 C221.3,544.78 228.82,545.62 233.4,545.4 C237.98,545.18 240.07,544.18 243.4,543.6 C246.73,543.02 249.65,542.1 253.4,541.9 C257.15,541.7 261.75,541.98 265.9,542.4 C270.05,542.82 274.15,543.57 278.3,544.4 C282.45,545.23 286.22,546.62 290.8,547.4 C295.38,548.18 302.05,548.48 305.8,549.1 C309.55,549.72 310.88,550.47 313.3,551.1 C315.72,551.73 319.13,552.6 320.3,552.9" fill="none" stroke="#1a1a1a" stroke-width="1.6"/>
<line x1="38.2" y1="493.75" x2="38.2" y2="597.25" stroke="#7a7a7a" stroke-width="1.25"/>
<text x="274.1" y="541.3" font-size="9.6" font-style="italic" font-family='"Liberation Sans", sans-serif' fill="#262626" textLength="3.5" lengthAdjust="spacingAndGlyphs">t</text>
<text x="279.5" y="537.7" font-size="7.6" font-family='"Liberation Sans", sans-serif' fill="#262626">*</text>
<text x="285" y="541.4" font-size="10" text-anchor="start" font-family='"Liberation Sans", sans-serif' fill="#262626" textLength="35.6" lengthAdjust="spacingAndGlyphs">=2.948</text>
<rect x="38.3" y="604.3" width="282.1" height="31.2" fill="#fff" stroke="#444" stroke-width="0.9"/>
<rect x="243.6" y="604.3" width="30.5" height="31.2" fill="#000"/>
<line x1="385.5" y1="383.75" x2="388.2" y2="383.75" stroke="#555" stroke-width="0.8"/>
<text x="382.6" y="387.5" font-size="10.4" text-anchor="end" font-family='"Liberation Sans", sans-serif' fill="#262626" textLength="14.31" lengthAdjust="spacingAndGlyphs">7.5</text>
<line x1="385.5" y1="399.5" x2="388.2" y2="399.5" stroke="#555" stroke-width="0.8"/>
<text x="382.6" y="403.25" font-size="10.4" text-anchor="end" font-family='"Liberation Sans", sans-serif' fill="#262626" textLength="14.31" lengthAdjust="spacingAndGlyphs">5.0</text>
<line x1="385.5" y1="415.25" x2="388.2" y2="415.25" stroke="#555" stroke-width="0.8"/>
<text x="382.6" y="419" font-size="10.4" text-anchor="end" font-family='"Liberation Sans", sans-serif' fill="#262626" textLength="14.31" lengthAdjust="spacingAndGlyphs">2.5</text>
<line x1="385.5" y1="431" x2="388.2" y2="431" stroke="#555" stroke-width="0.8"/>
<text x="382.6" y="434.75" font-size="10.4" text-anchor="end" font-family='"Liberation Sans", sans-serif' fill="#262626" textLength="14.31" lengthAdjust="spacingAndGlyphs">0.0</text>
<line x1="385.5" y1="446.75" x2="388.2" y2="446.75" stroke="#555" stroke-width="0.8"/>
<text x="382.6" y="450.5" font-size="10.4" text-anchor="end" font-family='"Liberation Sans", sans-serif' fill="#262626" textLength="21.85" lengthAdjust="spacingAndGlyphs">−2.5</text>
<line x1="385.5" y1="462.5" x2="388.2" y2="462.5" stroke="#555" stroke-width="0.8"/>
<text x="382.6" y="466.25" font-size="10.4" text-anchor="end" font-family='"Liberation Sans", sans-serif' fill="#262626" textLength="21.85" lengthAdjust="spacingAndGlyphs">−5.0</text>
<line x1="385.5" y1="478.25" x2="388.2" y2="478.25" stroke="#555" stroke-width="0.8"/>
<text x="382.6" y="482" font-size="10.4" text-anchor="end" font-family='"Liberation Sans", sans-serif' fill="#262626" textLength="21.85" lengthAdjust="spacingAndGlyphs">−7.5</text>
<clipPath id="c13"><rect x="388.2" y="373.5" width="288.2" height="109.5"/></clipPath><g clip-path="url(#c13)">
<clipPath id="c14"><path d="M388.1,415.3 C390.47,416.07 398.65,418.47 402.3,419.9 C405.95,421.33 407.1,422.55 410,423.9 C412.9,425.25 416.7,426.78 419.7,428 C422.7,429.22 424.62,430.28 428,431.2 C431.38,432.12 435.08,432.43 440,433.5 C444.92,434.57 451.67,436.72 457.5,437.6 C463.33,438.48 469.58,438.58 475,438.8 C480.42,439.02 485.83,438.97 490,438.9 C494.17,438.83 497.17,438.63 500,438.4 C502.83,438.17 504.98,437.87 507,437.5 C509.02,437.13 509.23,437.13 512.1,436.2 C514.97,435.27 520.18,433.53 524.2,431.9 C528.22,430.27 533.23,428.05 536.2,426.4 C539.17,424.75 539.98,423.6 542,422 C544.02,420.4 546.13,418.67 548.3,416.8 C550.47,414.93 552.88,412.87 555,410.8 C557.12,408.73 558.98,406.4 561,404.4 C563.02,402.4 565.08,400.48 567.1,398.8 C569.12,397.12 571.08,395.67 573.1,394.3 C575.12,392.93 577.18,391.65 579.2,390.6 C581.22,389.55 583.2,388.7 585.2,388 C587.2,387.3 589.23,386.8 591.2,386.4 C593.17,386 594.98,385.8 597,385.6 C599.02,385.4 600.3,385.2 603.3,385.2 C606.3,385.2 611.22,384.97 615,385.6 C618.78,386.23 622.55,387.72 626,389 C629.45,390.28 632.53,391.77 635.7,393.3 C638.87,394.83 641.67,396.43 645,398.2 C648.33,399.97 652.33,401.75 655.7,403.9 C659.07,406.05 662.82,409.48 665.2,411.1 C667.58,412.72 668.23,412.97 670,413.6 C671.77,414.23 674.83,414.68 675.8,414.9 L675.8,453.5 C674.2,453.17 669.55,452.6 666.2,451.5 C662.85,450.4 659.63,448.55 655.7,446.9 C651.77,445.25 646.98,443.17 642.6,441.6 C638.22,440.03 634,438.43 629.4,437.5 C624.8,436.57 619.35,436.45 615,436 C610.65,435.55 607.27,435.1 603.3,434.8 C599.33,434.5 595.22,434.13 591.2,434.2 C587.18,434.27 582.22,434.7 579.2,435.2 C576.18,435.7 575.12,436.37 573.1,437.2 C571.08,438.03 569.12,439.1 567.1,440.2 C565.08,441.3 563.02,442.43 561,443.8 C558.98,445.17 556.95,447.03 555,448.4 C553.05,449.77 551.17,450.9 549.3,452 C547.43,453.1 547.15,453.03 543.8,455 C540.45,456.97 534.07,461.48 529.2,463.8 C524.33,466.12 519.47,467.57 514.6,468.9 C509.73,470.23 504.93,470.98 500,471.8 C495.07,472.62 489.72,473.5 485,473.8 C480.28,474.1 476.82,473.82 471.7,473.6 C466.58,473.38 460.08,473.18 454.3,472.5 C448.52,471.82 442.77,470.78 437,469.5 C431.23,468.22 425.48,466.5 419.7,464.8 C413.92,463.1 407.57,461.08 402.3,459.3 C397.03,457.52 390.47,454.97 388.1,454.1 Z"/></clipPath>
<path d="M388.1,415.3 C390.47,416.07 398.65,418.47 402.3,419.9 C405.95,421.33 407.1,422.55 410,423.9 C412.9,425.25 416.7,426.78 419.7,428 C422.7,429.22 424.62,430.28 428,431.2 C431.38,432.12 435.08,432.43 440,433.5 C444.92,434.57 451.67,436.72 457.5,437.6 C463.33,438.48 469.58,438.58 475,438.8 C480.42,439.02 485.83,438.97 490,438.9 C494.17,438.83 497.17,438.63 500,438.4 C502.83,438.17 504.98,437.87 507,437.5 C509.02,437.13 509.23,437.13 512.1,436.2 C514.97,435.27 520.18,433.53 524.2,431.9 C528.22,430.27 533.23,428.05 536.2,426.4 C539.17,424.75 539.98,423.6 542,422 C544.02,420.4 546.13,418.67 548.3,416.8 C550.47,414.93 552.88,412.87 555,410.8 C557.12,408.73 558.98,406.4 561,404.4 C563.02,402.4 565.08,400.48 567.1,398.8 C569.12,397.12 571.08,395.67 573.1,394.3 C575.12,392.93 577.18,391.65 579.2,390.6 C581.22,389.55 583.2,388.7 585.2,388 C587.2,387.3 589.23,386.8 591.2,386.4 C593.17,386 594.98,385.8 597,385.6 C599.02,385.4 600.3,385.2 603.3,385.2 C606.3,385.2 611.22,384.97 615,385.6 C618.78,386.23 622.55,387.72 626,389 C629.45,390.28 632.53,391.77 635.7,393.3 C638.87,394.83 641.67,396.43 645,398.2 C648.33,399.97 652.33,401.75 655.7,403.9 C659.07,406.05 662.82,409.48 665.2,411.1 C667.58,412.72 668.23,412.97 670,413.6 C671.77,414.23 674.83,414.68 675.8,414.9 L675.8,453.5 C674.2,453.17 669.55,452.6 666.2,451.5 C662.85,450.4 659.63,448.55 655.7,446.9 C651.77,445.25 646.98,443.17 642.6,441.6 C638.22,440.03 634,438.43 629.4,437.5 C624.8,436.57 619.35,436.45 615,436 C610.65,435.55 607.27,435.1 603.3,434.8 C599.33,434.5 595.22,434.13 591.2,434.2 C587.18,434.27 582.22,434.7 579.2,435.2 C576.18,435.7 575.12,436.37 573.1,437.2 C571.08,438.03 569.12,439.1 567.1,440.2 C565.08,441.3 563.02,442.43 561,443.8 C558.98,445.17 556.95,447.03 555,448.4 C553.05,449.77 551.17,450.9 549.3,452 C547.43,453.1 547.15,453.03 543.8,455 C540.45,456.97 534.07,461.48 529.2,463.8 C524.33,466.12 519.47,467.57 514.6,468.9 C509.73,470.23 504.93,470.98 500,471.8 C495.07,472.62 489.72,473.5 485,473.8 C480.28,474.1 476.82,473.82 471.7,473.6 C466.58,473.38 460.08,473.18 454.3,472.5 C448.52,471.82 442.77,470.78 437,469.5 C431.23,468.22 425.48,466.5 419.7,464.8 C413.92,463.1 407.57,461.08 402.3,459.3 C397.03,457.52 390.47,454.97 388.1,454.1 Z" fill="#80ff80" stroke="#4a9a4a" stroke-width="0.5"/>
<path d="M388.1,415.1 C390.47,415.87 398.65,418.28 402.3,419.7 C405.95,421.12 407.1,422.28 410,423.6 C412.9,424.92 416.7,426.43 419.7,427.6 C422.7,428.77 424.62,429.77 428,430.6 C431.38,431.43 435.08,431.83 440,432.6 C444.92,433.37 451.67,434.57 457.5,435.2 C463.33,435.83 469.58,436.17 475,436.4 C480.42,436.63 485.83,436.65 490,436.6 C494.17,436.55 497.17,436.37 500,436.1 C502.83,435.83 504.98,435.5 507,435 C509.02,434.5 509.23,434.12 512.1,433.1 C514.97,432.08 520.18,431.1 524.2,428.9 C528.22,426.7 532.18,423.12 536.2,419.9 C540.22,416.68 545.17,412.22 548.3,409.6 C551.43,406.98 552.88,406.03 555,404.2 C557.12,402.37 558.98,400.35 561,398.6 C563.02,396.85 565.08,395.22 567.1,393.7 C569.12,392.18 571.08,390.7 573.1,389.5 C575.12,388.3 577.18,387.3 579.2,386.5 C581.22,385.7 583.2,385.17 585.2,384.7 C587.2,384.23 588.18,383.9 591.2,383.7 C594.22,383.5 599.33,383.38 603.3,383.5 C607.27,383.62 611.22,383.65 615,384.4 C618.78,385.15 622.55,386.65 626,388 C629.45,389.35 632.53,390.92 635.7,392.5 C638.87,394.08 641.67,395.72 645,397.5 C648.33,399.28 652.33,401.03 655.7,403.2 C659.07,405.37 662.82,408.87 665.2,410.5 C667.58,412.13 668.23,412.37 670,413 C671.77,413.63 674.83,414.08 675.8,414.3 L675.8,454.8 C674.2,454.47 669.55,453.93 666.2,452.8 C662.85,451.67 659.63,449.67 655.7,448 C651.77,446.33 646.98,444.33 642.6,442.8 C638.22,441.27 634,439.73 629.4,438.8 C624.8,437.87 619.35,437.6 615,437.2 C610.65,436.8 607.27,436.67 603.3,436.4 C599.33,436.13 595.22,435.67 591.2,435.6 C587.18,435.53 582.22,435.85 579.2,436 C576.18,436.15 575.12,436.2 573.1,436.5 C571.08,436.8 569.12,437.18 567.1,437.8 C565.08,438.42 563.02,439.25 561,440.2 C558.98,441.15 556.95,442.15 555,443.5 C553.05,444.85 551.17,446.87 549.3,448.3 C547.43,449.73 547.15,449.88 543.8,452.1 C540.45,454.32 534.07,459.12 529.2,461.6 C524.33,464.08 519.47,465.67 514.6,467 C509.73,468.33 504.93,468.77 500,469.6 C495.07,470.43 489.72,471.6 485,472 C480.28,472.4 476.82,472.13 471.7,472 C466.58,471.87 460.08,471.73 454.3,471.2 C448.52,470.67 442.77,469.92 437,468.8 C431.23,467.68 425.48,466.08 419.7,464.5 C413.92,462.92 407.57,461.03 402.3,459.3 C397.03,457.57 390.47,454.97 388.1,454.1 Z" fill="#c0c0ff" stroke="#6a6ab0" stroke-width="0.5"/>
<path d="M388.1,415.1 C390.47,415.87 398.65,418.28 402.3,419.7 C405.95,421.12 407.1,422.28 410,423.6 C412.9,424.92 416.7,426.43 419.7,427.6 C422.7,428.77 424.62,429.77 428,430.6 C431.38,431.43 435.08,431.83 440,432.6 C444.92,433.37 451.67,434.57 457.5,435.2 C463.33,435.83 469.58,436.17 475,436.4 C480.42,436.63 485.83,436.65 490,436.6 C494.17,436.55 497.17,436.37 500,436.1 C502.83,435.83 504.98,435.5 507,435 C509.02,434.5 509.23,434.12 512.1,433.1 C514.97,432.08 520.18,431.1 524.2,428.9 C528.22,426.7 532.18,423.12 536.2,419.9 C540.22,416.68 545.17,412.22 548.3,409.6 C551.43,406.98 552.88,406.03 555,404.2 C557.12,402.37 558.98,400.35 561,398.6 C563.02,396.85 565.08,395.22 567.1,393.7 C569.12,392.18 571.08,390.7 573.1,389.5 C575.12,388.3 577.18,387.3 579.2,386.5 C581.22,385.7 583.2,385.17 585.2,384.7 C587.2,384.23 588.18,383.9 591.2,383.7 C594.22,383.5 599.33,383.38 603.3,383.5 C607.27,383.62 611.22,383.65 615,384.4 C618.78,385.15 622.55,386.65 626,388 C629.45,389.35 632.53,390.92 635.7,392.5 C638.87,394.08 641.67,395.72 645,397.5 C648.33,399.28 652.33,401.03 655.7,403.2 C659.07,405.37 662.82,408.87 665.2,410.5 C667.58,412.13 668.23,412.37 670,413 C671.77,413.63 674.83,414.08 675.8,414.3 L675.8,454.8 C674.2,454.47 669.55,453.93 666.2,452.8 C662.85,451.67 659.63,449.67 655.7,448 C651.77,446.33 646.98,444.33 642.6,442.8 C638.22,441.27 634,439.73 629.4,438.8 C624.8,437.87 619.35,437.6 615,437.2 C610.65,436.8 607.27,436.67 603.3,436.4 C599.33,436.13 595.22,435.67 591.2,435.6 C587.18,435.53 582.22,435.85 579.2,436 C576.18,436.15 575.12,436.2 573.1,436.5 C571.08,436.8 569.12,437.18 567.1,437.8 C565.08,438.42 563.02,439.25 561,440.2 C558.98,441.15 556.95,442.15 555,443.5 C553.05,444.85 551.17,446.87 549.3,448.3 C547.43,449.73 547.15,449.88 543.8,452.1 C540.45,454.32 534.07,459.12 529.2,461.6 C524.33,464.08 519.47,465.67 514.6,467 C509.73,468.33 504.93,468.77 500,469.6 C495.07,470.43 489.72,471.6 485,472 C480.28,472.4 476.82,472.13 471.7,472 C466.58,471.87 460.08,471.73 454.3,471.2 C448.52,470.67 442.77,469.92 437,468.8 C431.23,467.68 425.48,466.08 419.7,464.5 C413.92,462.92 407.57,461.03 402.3,459.3 C397.03,457.57 390.47,454.97 388.1,454.1 Z" fill="#80c0c0" clip-path="url(#c14)"/>
<path d="M388.1,415.3 C390.47,416.07 398.65,418.47 402.3,419.9 C405.95,421.33 407.1,422.55 410,423.9 C412.9,425.25 416.7,426.78 419.7,428 C422.7,429.22 424.62,430.28 428,431.2 C431.38,432.12 435.08,432.43 440,433.5 C444.92,434.57 451.67,436.72 457.5,437.6 C463.33,438.48 469.58,438.58 475,438.8 C480.42,439.02 485.83,438.97 490,438.9 C494.17,438.83 497.17,438.63 500,438.4 C502.83,438.17 504.98,437.87 507,437.5 C509.02,437.13 509.23,437.13 512.1,436.2 C514.97,435.27 520.18,433.53 524.2,431.9 C528.22,430.27 533.23,428.05 536.2,426.4 C539.17,424.75 539.98,423.6 542,422 C544.02,420.4 546.13,418.67 548.3,416.8 C550.47,414.93 552.88,412.87 555,410.8 C557.12,408.73 558.98,406.4 561,404.4 C563.02,402.4 565.08,400.48 567.1,398.8 C569.12,397.12 571.08,395.67 573.1,394.3 C575.12,392.93 577.18,391.65 579.2,390.6 C581.22,389.55 583.2,388.7 585.2,388 C587.2,387.3 589.23,386.8 591.2,386.4 C593.17,386 594.98,385.8 597,385.6 C599.02,385.4 600.3,385.2 603.3,385.2 C606.3,385.2 611.22,384.97 615,385.6 C618.78,386.23 622.55,387.72 626,389 C629.45,390.28 632.53,391.77 635.7,393.3 C638.87,394.83 641.67,396.43 645,398.2 C648.33,399.97 652.33,401.75 655.7,403.9 C659.07,406.05 662.82,409.48 665.2,411.1 C667.58,412.72 668.23,412.97 670,413.6 C671.77,414.23 674.83,414.68 675.8,414.9" fill="none" stroke="#4f7f7f" stroke-width="0.5" stroke-opacity="0.8"/>
<path d="M388.1,454.1 C390.47,454.97 397.03,457.52 402.3,459.3 C407.57,461.08 413.92,463.1 419.7,464.8 C425.48,466.5 431.23,468.22 437,469.5 C442.77,470.78 448.52,471.82 454.3,472.5 C460.08,473.18 466.58,473.38 471.7,473.6 C476.82,473.82 480.28,474.1 485,473.8 C489.72,473.5 495.07,472.62 500,471.8 C504.93,470.98 509.73,470.23 514.6,468.9 C519.47,467.57 524.33,466.12 529.2,463.8 C534.07,461.48 540.45,456.97 543.8,455 C547.15,453.03 547.43,453.1 549.3,452 C551.17,450.9 553.05,449.77 555,448.4 C556.95,447.03 558.98,445.17 561,443.8 C563.02,442.43 565.08,441.3 567.1,440.2 C569.12,439.1 571.08,438.03 573.1,437.2 C575.12,436.37 576.18,435.7 579.2,435.2 C582.22,434.7 587.18,434.27 591.2,434.2 C595.22,434.13 599.33,434.5 603.3,434.8 C607.27,435.1 610.65,435.55 615,436 C619.35,436.45 624.8,436.57 629.4,437.5 C634,438.43 638.22,440.03 642.6,441.6 C646.98,443.17 651.77,445.25 655.7,446.9 C659.63,448.55 662.85,450.4 666.2,451.5 C669.55,452.6 674.2,453.17 675.8,453.5" fill="none" stroke="#4f7f7f" stroke-width="0.5" stroke-opacity="0.8"/>
<path d="M388.1,415.1 C390.47,415.87 398.65,418.28 402.3,419.7 C405.95,421.12 407.1,422.28 410,423.6 C412.9,424.92 416.7,426.43 419.7,427.6 C422.7,428.77 424.62,429.77 428,430.6 C431.38,431.43 435.08,431.83 440,432.6 C444.92,433.37 451.67,434.57 457.5,435.2 C463.33,435.83 469.58,436.17 475,436.4 C480.42,436.63 485.83,436.65 490,436.6 C494.17,436.55 497.17,436.37 500,436.1 C502.83,435.83 504.98,435.5 507,435 C509.02,434.5 509.23,434.12 512.1,433.1 C514.97,432.08 520.18,431.1 524.2,428.9 C528.22,426.7 532.18,423.12 536.2,419.9 C540.22,416.68 545.17,412.22 548.3,409.6 C551.43,406.98 552.88,406.03 555,404.2 C557.12,402.37 558.98,400.35 561,398.6 C563.02,396.85 565.08,395.22 567.1,393.7 C569.12,392.18 571.08,390.7 573.1,389.5 C575.12,388.3 577.18,387.3 579.2,386.5 C581.22,385.7 583.2,385.17 585.2,384.7 C587.2,384.23 588.18,383.9 591.2,383.7 C594.22,383.5 599.33,383.38 603.3,383.5 C607.27,383.62 611.22,383.65 615,384.4 C618.78,385.15 622.55,386.65 626,388 C629.45,389.35 632.53,390.92 635.7,392.5 C638.87,394.08 641.67,395.72 645,397.5 C648.33,399.28 652.33,401.03 655.7,403.2 C659.07,405.37 662.82,408.87 665.2,410.5 C667.58,412.13 668.23,412.37 670,413 C671.77,413.63 674.83,414.08 675.8,414.3" fill="none" stroke="#6f6fa0" stroke-width="0.5" stroke-opacity="0.8"/>
<path d="M388.1,454.1 C390.47,454.97 397.03,457.57 402.3,459.3 C407.57,461.03 413.92,462.92 419.7,464.5 C425.48,466.08 431.23,467.68 437,468.8 C442.77,469.92 448.52,470.67 454.3,471.2 C460.08,471.73 466.58,471.87 471.7,472 C476.82,472.13 480.28,472.4 485,472 C489.72,471.6 495.07,470.43 500,469.6 C504.93,468.77 509.73,468.33 514.6,467 C519.47,465.67 524.33,464.08 529.2,461.6 C534.07,459.12 540.45,454.32 543.8,452.1 C547.15,449.88 547.43,449.73 549.3,448.3 C551.17,446.87 553.05,444.85 555,443.5 C556.95,442.15 558.98,441.15 561,440.2 C563.02,439.25 565.08,438.42 567.1,437.8 C569.12,437.18 571.08,436.8 573.1,436.5 C575.12,436.2 576.18,436.15 579.2,436 C582.22,435.85 587.18,435.53 591.2,435.6 C595.22,435.67 599.33,436.13 603.3,436.4 C607.27,436.67 610.65,436.8 615,437.2 C619.35,437.6 624.8,437.87 629.4,438.8 C634,439.73 638.22,441.27 642.6,442.8 C646.98,444.33 651.77,446.33 655.7,448 C659.63,449.67 662.85,451.67 666.2,452.8 C669.55,453.93 674.2,454.47 675.8,454.8" fill="none" stroke="#6f6fa0" stroke-width="0.5" stroke-opacity="0.8"/>
</g>
<path d="M445.72,376.5V480 M503.24,376.5V480 M560.76,376.5V480 M618.28,376.5V480 M675.8,376.5V480 M388.2,383.75H675.8 M388.2,399.5H675.8 M388.2,415.25H675.8 M388.2,431H675.8 M388.2,446.75H675.8 M388.2,462.5H675.8 M388.2,478.25H675.8" fill="none" stroke="#000" stroke-opacity="0.085" stroke-width="1.1"/>
<line x1="388.2" y1="431" x2="675.8" y2="431" stroke="#000" stroke-width="1.5" stroke-opacity="0.42"/>
<line x1="445.72" y1="431" x2="445.72" y2="433.6" stroke="#000" stroke-width="0.9" stroke-opacity="0.6"/>
<line x1="503.24" y1="431" x2="503.24" y2="433.6" stroke="#000" stroke-width="0.9" stroke-opacity="0.6"/>
<line x1="560.76" y1="431" x2="560.76" y2="433.6" stroke="#000" stroke-width="0.9" stroke-opacity="0.6"/>
<line x1="618.28" y1="431" x2="618.28" y2="433.6" stroke="#000" stroke-width="0.9" stroke-opacity="0.6"/>
<line x1="675.8" y1="431" x2="675.8" y2="433.6" stroke="#000" stroke-width="0.9" stroke-opacity="0.6"/>
<g clip-path="url(#c13)">
<path d="M388.1,434.5 C390.47,435.3 397.03,437.33 402.3,439.3 C407.57,441.27 413.92,444.27 419.7,446.3 C425.48,448.33 431.23,450.15 437,451.5 C442.77,452.85 448.52,453.75 454.3,454.4 C460.08,455.05 466.58,455.17 471.7,455.4 C476.82,455.63 480.28,455.78 485,455.8 C489.72,455.82 495.48,455.85 500,455.5 C504.52,455.15 508.08,454.62 512.1,453.7 C516.12,452.78 520.08,451.62 524.1,450 C528.12,448.38 533.22,445.67 536.2,444 C539.18,442.33 539.98,441.52 542,440 C544.02,438.48 546.65,436.3 548.3,434.9 C549.95,433.5 550.62,432.75 551.9,431.6 C553.18,430.45 554.6,429.23 556,428 C557.4,426.77 558.63,425.53 560.3,424.2 C561.97,422.87 563.98,421.3 566,420 C568.02,418.7 570.07,417.53 572.4,416.4 C574.73,415.27 577.87,414.05 580,413.2 C582.13,412.35 583.33,411.87 585.2,411.3 C587.07,410.73 589.23,410.17 591.2,409.8 C593.17,409.43 594.98,409.25 597,409.1 C599.02,408.95 600.3,408.75 603.3,408.9 C606.3,409.05 610.65,409.25 615,410 C619.35,410.75 624.8,411.85 629.4,413.4 C634,414.95 638.22,417.43 642.6,419.3 C646.98,421.17 651.77,422.78 655.7,424.6 C659.63,426.42 662.85,428.67 666.2,430.2 C669.55,431.73 674.2,433.2 675.8,433.8" fill="none" stroke="#151515" stroke-width="1.35"/>
<path d="M388.1,433.8 C390.47,434.67 397.03,437.15 402.3,439 C407.57,440.85 413.92,443.17 419.7,444.9 C425.48,446.63 431.23,448.3 437,449.4 C442.77,450.5 448.52,450.93 454.3,451.5 C460.08,452.07 466.58,452.52 471.7,452.8 C476.82,453.08 480.28,453.25 485,453.2 C489.72,453.15 495.48,452.92 500,452.5 C504.52,452.08 508.08,451.83 512.1,450.7 C516.12,449.57 520.08,447.63 524.1,445.7 C528.12,443.77 533.38,440.85 536.2,439.1 C539.02,437.35 539.3,436.57 541,435.2 C542.7,433.83 544.4,432.52 546.4,430.9 C548.4,429.28 550.68,427.22 553,425.5 C555.32,423.78 558.13,421.92 560.3,420.6 C562.47,419.28 563.98,418.53 566,417.6 C568.02,416.67 570.07,415.88 572.4,415 C574.73,414.12 577.87,413.02 580,412.3 C582.13,411.58 583.33,411.13 585.2,410.7 C587.07,410.27 589.23,409.93 591.2,409.7 C593.17,409.47 594.98,409.38 597,409.3 C599.02,409.22 600.3,409.05 603.3,409.2 C606.3,409.35 610.65,409.53 615,410.2 C619.35,410.87 624.8,411.73 629.4,413.2 C634,414.67 638.22,417.13 642.6,419 C646.98,420.87 651.77,422.57 655.7,424.4 C659.63,426.23 662.85,428.43 666.2,430 C669.55,431.57 674.2,433.17 675.8,433.8" fill="none" stroke="#000" stroke-width="1.9" stroke-dasharray="1.9 2.7"/>
</g>
<line x1="388.2" y1="376.5" x2="388.2" y2="480" stroke="#7a7a7a" stroke-width="1.25"/>
<rect x="392.3" y="380.7" width="121.5" height="29.5" rx="2" fill="#fff" fill-opacity="0.8" stroke="#d8d8d8" stroke-width="0.8"/>
<line x1="395.4" y1="387.3" x2="414.5" y2="387.3" stroke="#333" stroke-width="1.4"/>
<line x1="396" y1="401.2" x2="414.5" y2="401.2" stroke="#000" stroke-width="1.8" stroke-dasharray="1.8 2.8"/>
<text x="421.4" y="390.8" font-size="9.55" text-anchor="start" font-family='"Liberation Sans", sans-serif' fill="#262626" textLength="86.51" lengthAdjust="spacingAndGlyphs">Comfortable Speed</text>
<text x="421.4" y="403.8" font-size="9.55" text-anchor="start" font-family='"Liberation Sans", sans-serif' fill="#262626" textLength="48.99" lengthAdjust="spacingAndGlyphs">Fast Speed</text>
<line x1="385.5" y1="510.25" x2="388.2" y2="510.25" stroke="#555" stroke-width="0.8"/>
<text x="382.6" y="514" font-size="10.4" text-anchor="end" font-family='"Liberation Sans", sans-serif' fill="#262626" textLength="5.73" lengthAdjust="spacingAndGlyphs">2</text>
<line x1="385.5" y1="528.75" x2="388.2" y2="528.75" stroke="#555" stroke-width="0.8"/>
<text x="382.6" y="532.5" font-size="10.4" text-anchor="end" font-family='"Liberation Sans", sans-serif' fill="#262626" textLength="5.73" lengthAdjust="spacingAndGlyphs">0</text>
<line x1="385.5" y1="547.25" x2="388.2" y2="547.25" stroke="#555" stroke-width="0.8"/>
<text x="382.6" y="551" font-size="10.4" text-anchor="end" font-family='"Liberation Sans", sans-serif' fill="#262626" textLength="13.27" lengthAdjust="spacingAndGlyphs">−2</text>
<line x1="385.5" y1="565.75" x2="388.2" y2="565.75" stroke="#555" stroke-width="0.8"/>
<text x="382.6" y="569.5" font-size="10.4" text-anchor="end" font-family='"Liberation Sans", sans-serif' fill="#262626" textLength="13.27" lengthAdjust="spacingAndGlyphs">−4</text>
<line x1="385.5" y1="584.25" x2="388.2" y2="584.25" stroke="#555" stroke-width="0.8"/>
<text x="382.6" y="588" font-size="10.4" text-anchor="end" font-family='"Liberation Sans", sans-serif' fill="#262626" textLength="13.27" lengthAdjust="spacingAndGlyphs">−6</text>
<clipPath id="c15"><rect x="386.2" y="475.75" width="291.6" height="26.17"/></clipPath>
<path d="M388.2,518.7 L388.72,518.73 L389.4,518.77 L390.21,518.8 L391.11,518.84 L392.08,518.89 L393.09,518.96 L394.1,519.04 L395.1,519.13 L396.04,519.25 L396.9,519.4 L397.7,519.56 L398.48,519.72 L399.24,519.89 L399.99,520.07 L400.72,520.27 L401.46,520.51 L402.19,520.78 L402.92,521.1 L403.66,521.47 L404.4,521.9 L405.15,522.39 L405.9,522.94 L406.65,523.54 L407.4,524.18 L408.15,524.86 L408.9,525.57 L409.65,526.3 L410.4,527.06 L411.15,527.83 L411.9,528.6 L412.65,529.4 L413.4,530.23 L414.15,531.09 L414.9,531.97 L415.65,532.88 L416.4,533.79 L417.15,534.7 L417.9,535.61 L418.65,536.51 L419.4,537.4 L420.15,538.28 L420.9,539.17 L421.65,540.06 L422.4,540.94 L423.15,541.83 L423.9,542.71 L424.65,543.58 L425.4,544.44 L426.15,545.28 L426.9,546.1 L427.65,546.9 L428.4,547.7 L429.15,548.48 L429.9,549.24 L430.65,550 L431.4,550.74 L432.15,551.48 L432.9,552.2 L433.65,552.9 L434.4,553.6 L435.15,554.29 L435.9,554.98 L436.65,555.66 L437.4,556.33 L438.16,556.99 L438.91,557.62 L439.66,558.24 L440.41,558.83 L441.15,559.38 L441.9,559.9 L442.63,560.38 L443.34,560.83 L444.05,561.25 L444.74,561.65 L445.44,562.02 L446.16,562.37 L446.89,562.7 L447.66,563.01 L448.46,563.31 L449.3,563.6 L450.19,563.88 L451.13,564.13 L452.11,564.37 L453.11,564.59 L454.14,564.8 L455.18,564.99 L456.22,565.16 L457.26,565.32 L458.29,565.47 L459.3,565.6 L460.3,565.71 L461.3,565.8 L462.3,565.88 L463.3,565.93 L464.3,565.98 L465.3,566.01 L466.3,566.03 L467.3,566.06 L468.3,566.08 L469.3,566.1 L470.3,566.13 L471.3,566.16 L472.3,566.19 L473.3,566.22 L474.3,566.24 L475.3,566.25 L476.3,566.25 L477.3,566.22 L478.3,566.18 L479.3,566.1 L480.3,566 L481.3,565.88 L482.3,565.74 L483.3,565.58 L484.3,565.4 L485.3,565.21 L486.3,565 L487.3,564.78 L488.3,564.54 L489.3,564.3 L490.31,564.02 L491.34,563.7 L492.38,563.34 L493.42,562.97 L494.46,562.59 L495.48,562.22 L496.48,561.87 L497.46,561.56 L498.4,561.3 L499.3,561.1 L500.16,560.96 L500.98,560.85 L501.77,560.77 L502.54,560.72 L503.29,560.71 L504.01,560.72 L504.72,560.77 L505.42,560.85 L506.11,560.96 L506.8,561.1 L507.47,561.28 L508.1,561.49 L508.71,561.74 L509.31,562.03 L509.9,562.34 L510.49,562.67 L511.09,563.03 L511.7,563.41 L512.33,563.8 L513,564.2 L513.7,564.61 L514.42,565.04 L515.15,565.48 L515.9,565.94 L516.66,566.43 L517.43,566.93 L518.2,567.46 L518.97,568.01 L519.74,568.59 L520.5,569.2 L521.26,569.85 L522.02,570.54 L522.78,571.26 L523.54,572.02 L524.3,572.79 L525.06,573.57 L525.82,574.36 L526.58,575.15 L527.34,575.93 L528.1,576.7 L528.85,577.47 L529.61,578.28 L530.36,579.1 L531.11,579.92 L531.86,580.74 L532.6,581.54 L533.35,582.3 L534.1,583.03 L534.85,583.7 L535.6,584.3 L536.35,584.86 L537.1,585.39 L537.85,585.89 L538.6,586.36 L539.34,586.78 L540.09,587.15 L540.84,587.47 L541.59,587.72 L542.35,587.9 L543.1,588 L543.86,588.03 L544.62,588.02 L545.38,587.94 L546.14,587.81 L546.9,587.61 L547.66,587.34 L548.42,587 L549.18,586.58 L549.94,586.08 L550.7,585.5 L551.45,584.8 L552.21,583.98 L552.96,583.05 L553.71,582.04 L554.46,580.98 L555.2,579.87 L555.95,578.74 L556.7,577.63 L557.45,576.54 L558.2,575.5 L558.95,574.5 L559.7,573.52 L560.45,572.55 L561.2,571.58 L561.94,570.61 L562.69,569.62 L563.44,568.61 L564.19,567.58 L564.95,566.51 L565.7,565.4 L566.46,564.25 L567.22,563.06 L567.98,561.83 L568.74,560.58 L569.5,559.31 L570.26,558.02 L571.02,556.73 L571.78,555.44 L572.54,554.16 L573.3,552.9 L574.05,551.64 L574.81,550.37 L575.56,549.09 L576.31,547.8 L577.06,546.52 L577.8,545.25 L578.55,543.99 L579.3,542.74 L580.05,541.51 L580.8,540.3 L581.55,539.09 L582.3,537.88 L583.05,536.65 L583.8,535.44 L584.54,534.25 L585.29,533.09 L586.04,531.97 L586.79,530.91 L587.55,529.92 L588.3,529 L589.06,528.16 L589.82,527.37 L590.58,526.65 L591.34,525.98 L592.1,525.35 L592.86,524.77 L593.62,524.23 L594.38,523.72 L595.14,523.25 L595.9,522.8 L596.64,522.39 L597.37,522.04 L598.08,521.74 L598.79,521.48 L599.5,521.24 L600.22,521.04 L600.97,520.85 L601.74,520.66 L602.55,520.48 L603.4,520.3 L604.3,520.11 L605.24,519.92 L606.21,519.74 L607.22,519.57 L608.24,519.41 L609.27,519.28 L610.31,519.16 L611.35,519.07 L612.38,519.02 L613.4,519 L614.41,519.02 L615.42,519.07 L616.43,519.16 L617.44,519.28 L618.45,519.41 L619.46,519.57 L620.47,519.74 L621.48,519.92 L622.49,520.11 L623.5,520.3 L624.5,520.5 L625.5,520.74 L626.5,520.99 L627.5,521.25 L628.5,521.52 L629.5,521.8 L630.5,522.07 L631.5,522.33 L632.5,522.58 L633.5,522.8 L634.51,523.01 L635.52,523.23 L636.53,523.44 L637.54,523.64 L638.55,523.84 L639.56,524.02 L640.57,524.18 L641.58,524.31 L642.59,524.42 L643.6,524.5 L644.6,524.55 L645.61,524.57 L646.61,524.57 L647.61,524.55 L648.61,524.51 L649.6,524.45 L650.6,524.37 L651.6,524.26 L652.6,524.14 L653.6,524 L654.59,523.83 L655.56,523.64 L656.53,523.42 L657.49,523.18 L658.46,522.92 L659.44,522.65 L660.44,522.37 L661.46,522.08 L662.51,521.79 L663.6,521.5 L664.79,521.19 L666.09,520.84 L667.48,520.46 L668.91,520.08 L670.33,519.69 L671.69,519.32 L672.97,518.97 L674.11,518.66 L675.06,518.4 L675.8,518.2 L675.8,501.92 L388.2,501.92 Z" fill="#cccccc" clip-path="url(#c15)"/>
<clipPath id="c16"><rect x="386.2" y="555.58" width="291.6" height="58.92"/></clipPath>
<path d="M388.2,518.7 L388.72,518.73 L389.4,518.77 L390.21,518.8 L391.11,518.84 L392.08,518.89 L393.09,518.96 L394.1,519.04 L395.1,519.13 L396.04,519.25 L396.9,519.4 L397.7,519.56 L398.48,519.72 L399.24,519.89 L399.99,520.07 L400.72,520.27 L401.46,520.51 L402.19,520.78 L402.92,521.1 L403.66,521.47 L404.4,521.9 L405.15,522.39 L405.9,522.94 L406.65,523.54 L407.4,524.18 L408.15,524.86 L408.9,525.57 L409.65,526.3 L410.4,527.06 L411.15,527.83 L411.9,528.6 L412.65,529.4 L413.4,530.23 L414.15,531.09 L414.9,531.97 L415.65,532.88 L416.4,533.79 L417.15,534.7 L417.9,535.61 L418.65,536.51 L419.4,537.4 L420.15,538.28 L420.9,539.17 L421.65,540.06 L422.4,540.94 L423.15,541.83 L423.9,542.71 L424.65,543.58 L425.4,544.44 L426.15,545.28 L426.9,546.1 L427.65,546.9 L428.4,547.7 L429.15,548.48 L429.9,549.24 L430.65,550 L431.4,550.74 L432.15,551.48 L432.9,552.2 L433.65,552.9 L434.4,553.6 L435.15,554.29 L435.9,554.98 L436.65,555.66 L437.4,556.33 L438.16,556.99 L438.91,557.62 L439.66,558.24 L440.41,558.83 L441.15,559.38 L441.9,559.9 L442.63,560.38 L443.34,560.83 L444.05,561.25 L444.74,561.65 L445.44,562.02 L446.16,562.37 L446.89,562.7 L447.66,563.01 L448.46,563.31 L449.3,563.6 L450.19,563.88 L451.13,564.13 L452.11,564.37 L453.11,564.59 L454.14,564.8 L455.18,564.99 L456.22,565.16 L457.26,565.32 L458.29,565.47 L459.3,565.6 L460.3,565.71 L461.3,565.8 L462.3,565.88 L463.3,565.93 L464.3,565.98 L465.3,566.01 L466.3,566.03 L467.3,566.06 L468.3,566.08 L469.3,566.1 L470.3,566.13 L471.3,566.16 L472.3,566.19 L473.3,566.22 L474.3,566.24 L475.3,566.25 L476.3,566.25 L477.3,566.22 L478.3,566.18 L479.3,566.1 L480.3,566 L481.3,565.88 L482.3,565.74 L483.3,565.58 L484.3,565.4 L485.3,565.21 L486.3,565 L487.3,564.78 L488.3,564.54 L489.3,564.3 L490.31,564.02 L491.34,563.7 L492.38,563.34 L493.42,562.97 L494.46,562.59 L495.48,562.22 L496.48,561.87 L497.46,561.56 L498.4,561.3 L499.3,561.1 L500.16,560.96 L500.98,560.85 L501.77,560.77 L502.54,560.72 L503.29,560.71 L504.01,560.72 L504.72,560.77 L505.42,560.85 L506.11,560.96 L506.8,561.1 L507.47,561.28 L508.1,561.49 L508.71,561.74 L509.31,562.03 L509.9,562.34 L510.49,562.67 L511.09,563.03 L511.7,563.41 L512.33,563.8 L513,564.2 L513.7,564.61 L514.42,565.04 L515.15,565.48 L515.9,565.94 L516.66,566.43 L517.43,566.93 L518.2,567.46 L518.97,568.01 L519.74,568.59 L520.5,569.2 L521.26,569.85 L522.02,570.54 L522.78,571.26 L523.54,572.02 L524.3,572.79 L525.06,573.57 L525.82,574.36 L526.58,575.15 L527.34,575.93 L528.1,576.7 L528.85,577.47 L529.61,578.28 L530.36,579.1 L531.11,579.92 L531.86,580.74 L532.6,581.54 L533.35,582.3 L534.1,583.03 L534.85,583.7 L535.6,584.3 L536.35,584.86 L537.1,585.39 L537.85,585.89 L538.6,586.36 L539.34,586.78 L540.09,587.15 L540.84,587.47 L541.59,587.72 L542.35,587.9 L543.1,588 L543.86,588.03 L544.62,588.02 L545.38,587.94 L546.14,587.81 L546.9,587.61 L547.66,587.34 L548.42,587 L549.18,586.58 L549.94,586.08 L550.7,585.5 L551.45,584.8 L552.21,583.98 L552.96,583.05 L553.71,582.04 L554.46,580.98 L555.2,579.87 L555.95,578.74 L556.7,577.63 L557.45,576.54 L558.2,575.5 L558.95,574.5 L559.7,573.52 L560.45,572.55 L561.2,571.58 L561.94,570.61 L562.69,569.62 L563.44,568.61 L564.19,567.58 L564.95,566.51 L565.7,565.4 L566.46,564.25 L567.22,563.06 L567.98,561.83 L568.74,560.58 L569.5,559.31 L570.26,558.02 L571.02,556.73 L571.78,555.44 L572.54,554.16 L573.3,552.9 L574.05,551.64 L574.81,550.37 L575.56,549.09 L576.31,547.8 L577.06,546.52 L577.8,545.25 L578.55,543.99 L579.3,542.74 L580.05,541.51 L580.8,540.3 L581.55,539.09 L582.3,537.88 L583.05,536.65 L583.8,535.44 L584.54,534.25 L585.29,533.09 L586.04,531.97 L586.79,530.91 L587.55,529.92 L588.3,529 L589.06,528.16 L589.82,527.37 L590.58,526.65 L591.34,525.98 L592.1,525.35 L592.86,524.77 L593.62,524.23 L594.38,523.72 L595.14,523.25 L595.9,522.8 L596.64,522.39 L597.37,522.04 L598.08,521.74 L598.79,521.48 L599.5,521.24 L600.22,521.04 L600.97,520.85 L601.74,520.66 L602.55,520.48 L603.4,520.3 L604.3,520.11 L605.24,519.92 L606.21,519.74 L607.22,519.57 L608.24,519.41 L609.27,519.28 L610.31,519.16 L611.35,519.07 L612.38,519.02 L613.4,519 L614.41,519.02 L615.42,519.07 L616.43,519.16 L617.44,519.28 L618.45,519.41 L619.46,519.57 L620.47,519.74 L621.48,519.92 L622.49,520.11 L623.5,520.3 L624.5,520.5 L625.5,520.74 L626.5,520.99 L627.5,521.25 L628.5,521.52 L629.5,521.8 L630.5,522.07 L631.5,522.33 L632.5,522.58 L633.5,522.8 L634.51,523.01 L635.52,523.23 L636.53,523.44 L637.54,523.64 L638.55,523.84 L639.56,524.02 L640.57,524.18 L641.58,524.31 L642.59,524.42 L643.6,524.5 L644.6,524.55 L645.61,524.57 L646.61,524.57 L647.61,524.55 L648.61,524.51 L649.6,524.45 L650.6,524.37 L651.6,524.26 L652.6,524.14 L653.6,524 L654.59,523.83 L655.56,523.64 L656.53,523.42 L657.49,523.18 L658.46,522.92 L659.44,522.65 L660.44,522.37 L661.46,522.08 L662.51,521.79 L663.6,521.5 L664.79,521.19 L666.09,520.84 L667.48,520.46 L668.91,520.08 L670.33,519.69 L671.69,519.32 L672.97,518.97 L674.11,518.66 L675.06,518.4 L675.8,518.2 L675.8,555.58 L388.2,555.58 Z" fill="#cccccc" clip-path="url(#c16)"/>
<path d="M445.72,495.75V594.5 M503.24,495.75V594.5 M560.76,495.75V594.5 M618.28,495.75V594.5 M675.8,495.75V594.5 M388.2,510.25H675.8 M388.2,528.75H675.8 M388.2,547.25H675.8 M388.2,565.75H675.8 M388.2,584.25H675.8" fill="none" stroke="#000" stroke-opacity="0.085" stroke-width="1.1"/>
<line x1="388.2" y1="528.75" x2="675.8" y2="528.75" stroke="#000" stroke-width="1.2" stroke-opacity="0.55"/>
<line x1="445.72" y1="528.75" x2="445.72" y2="531.35" stroke="#000" stroke-width="0.9" stroke-opacity="0.6"/>
<line x1="503.24" y1="528.75" x2="503.24" y2="531.35" stroke="#000" stroke-width="0.9" stroke-opacity="0.6"/>
<line x1="560.76" y1="528.75" x2="560.76" y2="531.35" stroke="#000" stroke-width="0.9" stroke-opacity="0.6"/>
<line x1="618.28" y1="528.75" x2="618.28" y2="531.35" stroke="#000" stroke-width="0.9" stroke-opacity="0.6"/>
<line x1="675.8" y1="528.75" x2="675.8" y2="531.35" stroke="#000" stroke-width="0.9" stroke-opacity="0.6"/>
<line x1="388.2" y1="501.92" x2="675.8" y2="501.92" stroke="#404040" stroke-width="1" stroke-dasharray="2.6 1.1"/>
<line x1="388.2" y1="555.58" x2="675.8" y2="555.58" stroke="#404040" stroke-width="1" stroke-dasharray="2.6 1.1"/>
<path d="M388.2,518.7 C389.65,518.82 394.2,518.87 396.9,519.4 C399.6,519.93 401.9,520.37 404.4,521.9 C406.9,523.43 409.4,526.02 411.9,528.6 C414.4,531.18 416.9,534.48 419.4,537.4 C421.9,540.32 424.4,543.4 426.9,546.1 C429.4,548.8 431.9,551.3 434.4,553.6 C436.9,555.9 439.42,558.23 441.9,559.9 C444.38,561.57 446.4,562.65 449.3,563.6 C452.2,564.55 455.97,565.18 459.3,565.6 C462.63,566.02 465.97,566.02 469.3,566.1 C472.63,566.18 475.97,566.4 479.3,566.1 C482.63,565.8 485.97,565.13 489.3,564.3 C492.63,563.47 496.38,561.63 499.3,561.1 C502.22,560.57 504.52,560.58 506.8,561.1 C509.08,561.62 510.72,562.85 513,564.2 C515.28,565.55 517.98,567.12 520.5,569.2 C523.02,571.28 525.58,574.18 528.1,576.7 C530.62,579.22 533.1,582.42 535.6,584.3 C538.1,586.18 540.58,587.8 543.1,588 C545.62,588.2 548.18,587.58 550.7,585.5 C553.22,583.42 555.7,578.85 558.2,575.5 C560.7,572.15 563.18,569.17 565.7,565.4 C568.22,561.63 570.78,557.08 573.3,552.9 C575.82,548.72 578.3,544.28 580.8,540.3 C583.3,536.32 585.78,531.92 588.3,529 C590.82,526.08 593.38,524.25 595.9,522.8 C598.42,521.35 600.48,520.93 603.4,520.3 C606.32,519.67 610.05,519 613.4,519 C616.75,519 620.15,519.67 623.5,520.3 C626.85,520.93 630.15,522.1 633.5,522.8 C636.85,523.5 640.25,524.3 643.6,524.5 C646.95,524.7 650.27,524.5 653.6,524 C656.93,523.5 659.9,522.47 663.6,521.5 C667.3,520.53 673.77,518.75 675.8,518.2" fill="none" stroke="#1a1a1a" stroke-width="1.6"/>
<line x1="388.2" y1="495.75" x2="388.2" y2="594.5" stroke="#7a7a7a" stroke-width="1.25"/>
<text x="628.4" y="496.3" font-size="9.6" font-style="italic" font-family='"Liberation Sans", sans-serif' fill="#262626" textLength="3.5" lengthAdjust="spacingAndGlyphs">t</text>
<text x="633.8" y="492.7" font-size="7.6" font-family='"Liberation Sans", sans-serif' fill="#262626">*</text>
<text x="640" y="496.4" font-size="10" text-anchor="start" font-family='"Liberation Sans", sans-serif' fill="#262626" textLength="35.4" lengthAdjust="spacingAndGlyphs">=2.901</text>
<rect x="388.2" y="604.5" width="287.4" height="30.1" fill="#fff" stroke="#444" stroke-width="0.9"/>
<rect x="442.5" y="604.5" width="128.5" height="30.1" fill="#000"/>
<text x="84.3" y="249.7" font-size="9.9" text-anchor="middle" font-family='"Liberation Sans", sans-serif' fill="#262626" textLength="9.48" lengthAdjust="spacingAndGlyphs">15</text>
<text x="181.2" y="249.7" font-size="9.9" text-anchor="middle" font-family='"Liberation Sans", sans-serif' fill="#262626" textLength="9.48" lengthAdjust="spacingAndGlyphs">50</text>
<text x="206.2" y="249.7" font-size="9.9" text-anchor="middle" font-family='"Liberation Sans", sans-serif' fill="#262626" textLength="9.48" lengthAdjust="spacingAndGlyphs">59</text>
<text x="319.2" y="249.7" font-size="9.9" text-anchor="middle" font-family='"Liberation Sans", sans-serif' fill="#262626" textLength="14.22" lengthAdjust="spacingAndGlyphs">100</text>
<text x="41" y="291.7" font-size="9.9" text-anchor="middle" font-family='"Liberation Sans", sans-serif' fill="#262626" textLength="4.74" lengthAdjust="spacingAndGlyphs">0</text>
<text x="101.6" y="291.7" font-size="9.9" text-anchor="middle" font-family='"Liberation Sans", sans-serif' fill="#262626" textLength="9.48" lengthAdjust="spacingAndGlyphs">22</text>
<text x="199.4" y="291.7" font-size="9.9" text-anchor="middle" font-family='"Liberation Sans", sans-serif' fill="#262626" textLength="9.48" lengthAdjust="spacingAndGlyphs">57</text>
<text x="319.2" y="291.7" font-size="9.9" text-anchor="middle" font-family='"Liberation Sans", sans-serif' fill="#262626" textLength="14.22" lengthAdjust="spacingAndGlyphs">100</text>
<text x="480" y="252.7" font-size="9.9" text-anchor="middle" font-family='"Liberation Sans", sans-serif' fill="#262626" textLength="9.48" lengthAdjust="spacingAndGlyphs">32</text>
<text x="616.2" y="252.7" font-size="9.9" text-anchor="middle" font-family='"Liberation Sans", sans-serif' fill="#262626" textLength="9.48" lengthAdjust="spacingAndGlyphs">79</text>
<text x="677.7" y="252.7" font-size="9.9" text-anchor="middle" font-family='"Liberation Sans", sans-serif' fill="#262626" textLength="14.22" lengthAdjust="spacingAndGlyphs">100</text>
<text x="386.4" y="294.2" font-size="9.9" text-anchor="middle" font-family='"Liberation Sans", sans-serif' fill="#262626" textLength="4.74" lengthAdjust="spacingAndGlyphs">0</text>
<text x="508" y="294.2" font-size="9.9" text-anchor="middle" font-family='"Liberation Sans", sans-serif' fill="#262626" textLength="9.48" lengthAdjust="spacingAndGlyphs">42</text>
<text x="631.6" y="294.2" font-size="9.9" text-anchor="middle" font-family='"Liberation Sans", sans-serif' fill="#262626" textLength="9.48" lengthAdjust="spacingAndGlyphs">85</text>
<text x="273.4" y="601" font-size="9.9" text-anchor="middle" font-family='"Liberation Sans", sans-serif' fill="#262626" textLength="9.48" lengthAdjust="spacingAndGlyphs">83</text>
<text x="244.3" y="643.4" font-size="9.9" text-anchor="middle" font-family='"Liberation Sans", sans-serif' fill="#262626" textLength="9.48" lengthAdjust="spacingAndGlyphs">73</text>
<text x="570.2" y="601.7" font-size="9.9" text-anchor="middle" font-family='"Liberation Sans", sans-serif' fill="#262626" textLength="9.48" lengthAdjust="spacingAndGlyphs">63</text>
<text x="442.8" y="642.6" font-size="9.9" text-anchor="middle" font-family='"Liberation Sans", sans-serif' fill="#262626" textLength="9.48" lengthAdjust="spacingAndGlyphs">19</text>
<text x="41.1" y="303.9" font-size="10.52" text-anchor="middle" font-family='"Liberation Sans", sans-serif' fill="#262626" textLength="5.44" lengthAdjust="spacingAndGlyphs">0</text>
<text x="318.9" y="303.9" font-size="10.52" text-anchor="middle" font-family='"Liberation Sans", sans-serif' fill="#262626" textLength="16.32" lengthAdjust="spacingAndGlyphs">100</text>
<text x="386.3" y="306" font-size="10.52" text-anchor="middle" font-family='"Liberation Sans", sans-serif' fill="#262626" textLength="5.44" lengthAdjust="spacingAndGlyphs">0</text>
<text x="677.3" y="306" font-size="10.52" text-anchor="middle" font-family='"Liberation Sans", sans-serif' fill="#262626" textLength="16.32" lengthAdjust="spacingAndGlyphs">100</text>
<text x="38.1" y="655.8" font-size="10.7" text-anchor="middle" font-family='"Liberation Sans", sans-serif' fill="#262626" textLength="5.54" lengthAdjust="spacingAndGlyphs">0</text>
<text x="319.5" y="655.8" font-size="10.7" text-anchor="middle" font-family='"Liberation Sans", sans-serif' fill="#262626" textLength="16.61" lengthAdjust="spacingAndGlyphs">100</text>
<text x="387.9" y="654.3" font-size="10.95" text-anchor="middle" font-family='"Liberation Sans", sans-serif' fill="#262626" textLength="5.66" lengthAdjust="spacingAndGlyphs">0</text>
<text x="675.3" y="654.3" font-size="10.95" text-anchor="middle" font-family='"Liberation Sans", sans-serif' fill="#262626" textLength="16.99" lengthAdjust="spacingAndGlyphs">100</text>
<text x="180.2" y="308.9" font-size="10.12" text-anchor="middle" font-family='"Liberation Sans", sans-serif' fill="#262626" textLength="90.35" lengthAdjust="spacingAndGlyphs">One Gait Cycle (%)</text>
<text x="531.2" y="311.3" font-size="10.22" text-anchor="middle" font-family='"Liberation Sans", sans-serif' fill="#262626" textLength="91.31" lengthAdjust="spacingAndGlyphs">One Gait Cycle (%)</text>
<text x="179" y="660.5" font-size="10.28" text-anchor="middle" font-family='"Liberation Sans", sans-serif' fill="#262626" textLength="91.78" lengthAdjust="spacingAndGlyphs">One Gait Cycle (%)</text>
<text x="531.2" y="659" font-size="10.44" text-anchor="middle" font-family='"Liberation Sans", sans-serif' fill="#262626" textLength="93.21" lengthAdjust="spacingAndGlyphs">One Gait Cycle (%)</text>
<text x="0" y="0" font-size="10.12" text-anchor="middle" font-family='"Liberation Sans", sans-serif' fill="#262626" transform="translate(8.7,80.5) rotate(-90)" textLength="91.81" lengthAdjust="spacingAndGlyphs">AP GRF(N/kg:Ant+)</text>
<text x="0" y="0" font-size="10.81" text-anchor="middle" font-family='"Liberation Sans", sans-serif' fill="#262626" transform="translate(11.6,195.8) rotate(-90)" textLength="38.41" lengthAdjust="spacingAndGlyphs">SPM{t}</text>
<text x="0" y="0" font-size="10.12" text-anchor="middle" font-family='"Liberation Sans", sans-serif' fill="#262626" transform="translate(364.5,78.8) rotate(-90)" textLength="110.46" lengthAdjust="spacingAndGlyphs">Knee Angle(deg:Flex+)</text>
<text x="0" y="0" font-size="10.81" text-anchor="middle" font-family='"Liberation Sans", sans-serif' fill="#262626" transform="translate(362.4,197.6) rotate(-90)" textLength="38.41" lengthAdjust="spacingAndGlyphs">SPM{t}</text>
<text x="0" y="0" font-size="10.28" text-anchor="middle" font-family='"Liberation Sans", sans-serif' fill="#262626" transform="translate(14.3,431.1) rotate(-90)" textLength="116.4" lengthAdjust="spacingAndGlyphs">Pelvic Angle(deg:Elev+)</text>
<text x="0" y="0" font-size="10.81" text-anchor="middle" font-family='"Liberation Sans", sans-serif' fill="#262626" transform="translate(7.9,547.6) rotate(-90)" textLength="38.41" lengthAdjust="spacingAndGlyphs">SPM{t}</text>
<text x="0" y="0" font-size="10.28" text-anchor="middle" font-family='"Liberation Sans", sans-serif' fill="#262626" transform="translate(353.5,428.2) rotate(-90)" textLength="108.51" lengthAdjust="spacingAndGlyphs">Hip Angle (deg: abd+)</text>
<text x="0" y="0" font-size="10.81" text-anchor="middle" font-family='"Liberation Sans", sans-serif' fill="#262626" transform="translate(363.3,546.5) rotate(-90)" textLength="38.41" lengthAdjust="spacingAndGlyphs">SPM{t}</text>
<text x="29.7" y="20" font-size="29.5" text-anchor="start" font-family='"Liberation Serif", serif' fill="#000" style="stroke:none">A</text>
<text x="375.6" y="21.3" font-size="29.5" text-anchor="start" font-family='"Liberation Serif", serif' fill="#000" style="stroke:none">B</text>
<text x="26.3" y="356.4" font-size="29.5" text-anchor="start" font-family='"Liberation Serif", serif' fill="#000" style="stroke:none">C</text>
<text x="372" y="357.4" font-size="29.5" text-anchor="start" font-family='"Liberation Serif", serif' fill="#000" style="stroke:none">D</text></svg>
</body></html>
